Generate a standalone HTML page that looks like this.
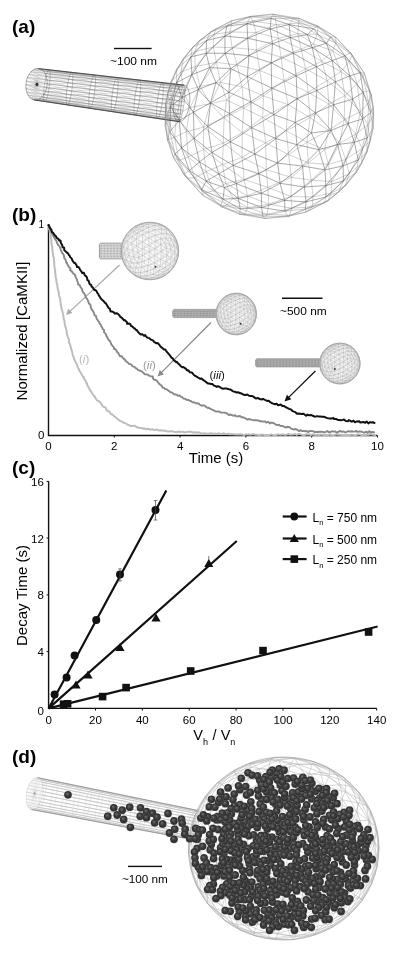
<!DOCTYPE html>
<html><head><meta charset="utf-8"><style>
html,body{margin:0;padding:0;background:#fff;width:400px;height:958px;overflow:hidden}
svg{display:block;will-change:transform}
</style></head><body>
<svg width="400" height="958" viewBox="0 0 400 958" font-family='"Liberation Sans", sans-serif'>
<rect width="400" height="958" fill="#fff"/>
<path d="M34.4 100L45.5 101.1M37 99.8L46.2 99.9M39.5 98.8L47 97.8M41.9 96.9L47.8 94.9M43.9 94.3L48.5 91.6M45.5 91.1L49.1 87.9M46.6 87.5L49.6 84.1M47.1 83.8L50 80.4M47 80L50.1 76.9M46.2 76.5L50.1 74M44.9 73.5L49.9 71.8M43.2 71.1L49.5 70.4M41 69.4L49 69.8M38.6 68.6L48.3 70.2M36 68.8L47.6 71.5M33.5 69.8L46.8 73.6M31.1 71.7L46.1 76.4M29.1 74.3L45.3 79.7M27.5 77.5L44.7 83.4M26.4 81.1L44.2 87.3M25.9 84.8L43.9 91M26 88.6L43.7 94.4M26.8 92.1L43.7 97.3M28.1 95.1L43.9 99.6M29.8 97.5L44.3 101M32 99.2L44.8 101.5M44.8 101.5L68 104.5M45.5 101.1L68.8 103.2M46.2 99.9L69.6 101M47 97.8L70.3 98.2M47.8 94.9L71.1 94.7M48.5 91.6L71.7 90.9M49.1 87.9L72.2 87M49.6 84.1L72.6 83.2M50 80.4L72.8 79.7M50.1 76.9L72.8 76.7M50.1 74L72.6 74.4M49.9 71.8L72.2 72.9M49.5 70.4L71.7 72.4M49 69.8L71 72.8M48.3 70.2L70.3 74.1M47.6 71.5L69.5 76.3M46.8 73.6L68.7 79.1M46.1 76.4L68 82.6M45.3 79.7L67.3 86.4M44.7 83.4L66.8 90.3M44.2 87.3L66.4 94.1M43.9 91L66.3 97.6M43.7 94.4L66.3 100.6M43.7 97.3L66.5 102.9M43.9 99.6L66.8 104.4M44.3 101L67.4 104.9M67.4 104.9L90.6 107.9M68 104.5L91.3 106.6M68.8 103.2L92.1 104.3M69.6 101L92.9 101.4M70.3 98.2L93.7 97.9M71.1 94.7L94.3 94M71.7 90.9L94.8 89.9M72.2 87L95.2 86M72.6 83.2L95.4 82.4M72.8 79.7L95.4 79.3M72.8 76.7L95.2 77M72.6 74.4L94.8 75.5M72.2 72.9L94.3 74.9M71.7 72.4L93.7 75.3M71 72.8L92.9 76.7M70.3 74.1L92.1 78.9M69.5 76.3L91.3 81.9M68.7 79.1L90.6 85.4M68 82.6L89.9 89.3M67.3 86.4L89.4 93.3M66.8 90.3L89 97.2M66.4 94.1L88.8 100.8M66.3 97.6L88.8 103.9M66.3 100.6L89 106.3M66.5 102.9L89.4 107.8M66.8 104.4L89.9 108.3M89.9 108.3L113.1 111.3M90.6 107.9L113.9 109.9M91.3 106.6L114.7 107.6M92.1 104.3L115.5 104.6M92.9 101.4L116.2 101M93.7 97.9L116.9 97M94.3 94L117.5 92.9M94.8 89.9L117.8 88.8M95.2 86L118 85.2M95.4 82.4L118.1 82M95.4 79.3L117.9 79.6M95.2 77L117.5 78.1M94.8 75.5L117 77.5M94.3 74.9L116.3 77.9M93.7 75.3L115.6 79.3M92.9 76.7L114.8 81.6M92.1 78.9L114 84.6M91.3 81.9L113.2 88.2M90.6 85.4L112.5 92.2M89.9 89.3L112 96.3M89.4 93.3L111.6 100.4M89 97.2L111.4 104.1M88.8 100.8L111.4 107.2M88.8 103.9L111.6 109.6M89 106.3L111.9 111.1M89.4 107.8L112.5 111.7M112.5 111.7L135.7 114.7M113.1 111.3L136.4 113.3M113.9 109.9L137.2 110.9M114.7 107.6L138.1 107.8M115.5 104.6L138.8 104.1M116.2 101L139.5 100M116.9 97L140.1 95.8M117.5 92.9L140.5 91.7M117.8 88.8L140.7 87.9M118 85.2L140.7 84.7M118.1 82L140.5 82.2M117.9 79.6L140.2 80.6M117.5 78.1L139.6 80.1M117 77.5L139 80.5M116.3 77.9L138.2 81.9M115.6 79.3L137.4 84.2M114.8 81.6L136.6 87.4M114 84.6L135.8 91.1M113.2 88.2L135.1 95.1M112.5 92.2L134.6 99.4M112 96.3L134.2 103.5M111.6 100.4L134 107.3M111.4 104.1L134 110.5M111.4 107.2L134.1 112.9M111.6 109.6L134.5 114.5M111.9 111.1L135 115.1M135 115.1L158.2 118.1M135.7 114.7L159 116.6M136.4 113.3L159.8 114.2M137.2 110.9L160.6 111M138.1 107.8L161.4 107.2M138.8 104.1L162.1 103M139.5 100L162.7 98.7M140.1 95.8L163.1 94.5M140.5 91.7L163.3 90.6M140.7 87.9L163.3 87.3M140.7 84.7L163.2 84.8M140.5 82.2L162.8 83.2M140.2 80.6L162.3 82.6M139.6 80.1L161.6 83.1M139 80.5L160.9 84.5M138.2 81.9L160.1 86.9M137.4 84.2L159.2 90.1M136.6 87.4L158.5 93.9M135.8 91.1L157.8 98.1M135.1 95.1L157.2 102.4M134.6 99.4L156.8 106.6M134.2 103.5L156.6 110.5M134 107.3L156.5 113.8M134 110.5L156.7 116.3M134.1 112.9L157 117.9M134.5 114.5L157.6 118.5M157.6 118.5L179.7 121.3M158.2 118.1L180.5 119.8M159 116.6L181.3 117.3M159.8 114.2L182.2 114.1M160.6 111L183 110.2M161.4 107.2L183.7 105.9M162.1 103L184.3 101.5M162.7 98.7L184.7 97.2M163.1 94.5L184.9 93.2M163.3 90.6L185 89.9M163.3 87.3L184.8 87.3M163.2 84.8L184.4 85.7M162.8 83.2L183.9 85.1M162.3 82.6L183.3 85.5M161.6 83.1L182.5 87M160.9 84.5L181.7 89.5M160.1 86.9L180.8 92.7M159.2 90.1L180 96.6M158.5 93.9L179.3 100.9M157.8 98.1L178.7 105.3M157.2 102.4L178.3 109.6M156.8 106.6L178.1 113.6M156.6 110.5L178 116.9M156.5 113.8L178.2 119.5M156.7 116.3L178.6 121.1M157 117.9L179.1 121.7" fill="none" stroke="#9a9a9a" stroke-width="0.3"/><path d="M34.4 100L44.8 101.5L67.4 104.9L89.9 108.3L112.5 111.7L135 115.1L157.6 118.5L179.1 121.7M37 99.8L45.5 101.1L68 104.5L90.6 107.9L113.1 111.3L135.7 114.7L158.2 118.1L179.7 121.3M39.5 98.8L46.2 99.9L68.8 103.2L91.3 106.6L113.9 109.9L136.4 113.3L159 116.6L180.5 119.8M41.9 96.9L47 97.8L69.6 101L92.1 104.3L114.7 107.6L137.2 110.9L159.8 114.2L181.3 117.3M43.9 94.3L47.8 94.9L70.3 98.2L92.9 101.4L115.5 104.6L138.1 107.8L160.6 111L182.2 114.1M45.5 91.1L48.5 91.6L71.1 94.7L93.7 97.9L116.2 101L138.8 104.1L161.4 107.2L183 110.2M46.6 87.5L49.1 87.9L71.7 90.9L94.3 94L116.9 97L139.5 100L162.1 103L183.7 105.9M47.1 83.8L49.6 84.1L72.2 87L94.8 89.9L117.5 92.9L140.1 95.8L162.7 98.7L184.3 101.5M47 80L50 80.4L72.6 83.2L95.2 86L117.8 88.8L140.5 91.7L163.1 94.5L184.7 97.2M46.2 76.5L50.1 76.9L72.8 79.7L95.4 82.4L118 85.2L140.7 87.9L163.3 90.6L184.9 93.2M44.9 73.5L50.1 74L72.8 76.7L95.4 79.3L118.1 82L140.7 84.7L163.3 87.3L185 89.9M43.2 71.1L49.9 71.8L72.6 74.4L95.2 77L117.9 79.6L140.5 82.2L163.2 84.8L184.8 87.3M41 69.4L49.5 70.4L72.2 72.9L94.8 75.5L117.5 78.1L140.2 80.6L162.8 83.2L184.4 85.7M38.6 68.6L49 69.8L71.7 72.4L94.3 74.9L117 77.5L139.6 80.1L162.3 82.6L183.9 85.1M36 68.8L48.3 70.2L71 72.8L93.7 75.3L116.3 77.9L139 80.5L161.6 83.1L183.3 85.5M33.5 69.8L47.6 71.5L70.3 74.1L92.9 76.7L115.6 79.3L138.2 81.9L160.9 84.5L182.5 87M31.1 71.7L46.8 73.6L69.5 76.3L92.1 78.9L114.8 81.6L137.4 84.2L160.1 86.9L181.7 89.5M29.1 74.3L46.1 76.4L68.7 79.1L91.3 81.9L114 84.6L136.6 87.4L159.2 90.1L180.8 92.7M27.5 77.5L45.3 79.7L68 82.6L90.6 85.4L113.2 88.2L135.8 91.1L158.5 93.9L180 96.6M26.4 81.1L44.7 83.4L67.3 86.4L89.9 89.3L112.5 92.2L135.1 95.1L157.8 98.1L179.3 100.9M25.9 84.8L44.2 87.3L66.8 90.3L89.4 93.3L112 96.3L134.6 99.4L157.2 102.4L178.7 105.3M26 88.6L43.9 91L66.4 94.1L89 97.2L111.6 100.4L134.2 103.5L156.8 106.6L178.3 109.6M26.8 92.1L43.7 94.4L66.3 97.6L88.8 100.8L111.4 104.1L134 107.3L156.6 110.5L178.1 113.6M28.1 95.1L43.7 97.3L66.3 100.6L88.8 103.9L111.4 107.2L134 110.5L156.5 113.8L178 116.9M29.8 97.5L43.9 99.6L66.5 102.9L89 106.3L111.6 109.6L134.1 112.9L156.7 116.3L178.2 119.5M32 99.2L44.3 101L66.8 104.4L89.4 107.8L111.9 111.1L134.5 114.5L157 117.9L178.6 121.1" fill="none" stroke="#777" stroke-width="0.35"/><path d="M44.8 101.5L45.2 101.4L45.7 100.9L46.2 99.9L46.7 98.7L47.2 97.1L47.7 95.3L48.2 93.2L48.6 90.9L49 88.5L49.4 86L49.7 83.5L49.9 81.1L50.1 78.8L50.1 76.6L50.1 74.7L50.1 73L49.9 71.7L49.7 70.7L49.4 70.1L49 69.8L48.6 70L48.1 70.5L47.6 71.4L47.1 72.7L46.6 74.2L46.1 76.1L45.6 78.2L45.2 80.5L44.8 82.9L44.4 85.3L44.1 87.8L43.9 90.3L43.8 92.6L43.7 94.7L43.7 96.7L43.8 98.3L43.9 99.7L44.2 100.7L44.5 101.3L44.8 101.5M67.4 104.9L67.8 104.8L68.2 104.2L68.7 103.3L69.2 102L69.8 100.4L70.3 98.5L70.8 96.3L71.2 94L71.6 91.5L72 89L72.3 86.4L72.5 83.9L72.7 81.6L72.8 79.3L72.8 77.4L72.7 75.7L72.6 74.3L72.3 73.3L72 72.6L71.7 72.4L71.2 72.5L70.8 73.1L70.3 74L69.8 75.3L69.3 76.9L68.8 78.8L68.3 81L67.8 83.3L67.4 85.8L67 88.3L66.7 90.9L66.5 93.4L66.3 95.7L66.2 98L66.2 99.9L66.3 101.6L66.5 103L66.7 104L67 104.7L67.4 104.9M89.9 108.3L90.3 108.2L90.8 107.6L91.3 106.6L91.8 105.3L92.3 103.7L92.8 101.7L93.3 99.5L93.8 97.1L94.2 94.6L94.6 92L94.9 89.3L95.2 86.8L95.3 84.3L95.4 82.1L95.4 80.1L95.4 78.3L95.2 76.9L95 75.9L94.7 75.2L94.3 74.9L93.9 75.1L93.4 75.7L93 76.6L92.4 77.9L91.9 79.6L91.4 81.6L90.9 83.8L90.4 86.2L90 88.7L89.6 91.3L89.3 93.9L89.1 96.5L88.9 98.9L88.8 101.2L88.8 103.2L88.9 104.9L89 106.4L89.3 107.4L89.6 108.1L89.9 108.3M112.5 111.7L112.9 111.6L113.3 111L113.8 110L114.4 108.6L114.9 106.9L115.4 104.9L115.9 102.7L116.4 100.2L116.8 97.6L117.2 94.9L117.5 92.3L117.8 89.6L118 87.1L118.1 84.8L118.1 82.7L118 81L117.9 79.5L117.6 78.4L117.3 77.8L117 77.5L116.6 77.7L116.1 78.2L115.6 79.2L115.1 80.6L114.6 82.3L114 84.3L113.5 86.5L113.1 89L112.6 91.6L112.2 94.3L111.9 97L111.7 99.6L111.5 102.1L111.4 104.4L111.4 106.5L111.4 108.3L111.6 109.7L111.8 110.8L112.1 111.5L112.5 111.7M135 115.1L135.4 114.9L135.9 114.4L136.4 113.3L136.9 112L137.4 110.2L138 108.1L138.5 105.8L139 103.3L139.4 100.6L139.8 97.9L140.1 95.2L140.4 92.5L140.6 89.9L140.7 87.5L140.7 85.4L140.7 83.6L140.5 82.1L140.3 81L140 80.3L139.6 80.1L139.2 80.2L138.8 80.8L138.3 81.8L137.7 83.2L137.2 85L136.7 87L136.2 89.3L135.7 91.9L135.2 94.5L134.9 97.3L134.5 100L134.3 102.7L134.1 105.2L134 107.6L133.9 109.7L134 111.6L134.1 113L134.4 114.1L134.7 114.8L135 115.1M157.6 118.5L158 118.3L158.5 117.7L159 116.7L159.5 115.3L160 113.5L160.5 111.4L161.1 109L161.6 106.4L162 103.7L162.4 100.9L162.8 98.1L163 95.3L163.2 92.7L163.3 90.3L163.4 88.1L163.3 86.2L163.2 84.7L162.9 83.6L162.7 82.9L162.3 82.6L161.9 82.8L161.4 83.4L160.9 84.4L160.4 85.9L159.9 87.6L159.3 89.7L158.8 92.1L158.3 94.7L157.9 97.4L157.5 100.2L157.1 103L156.8 105.8L156.7 108.4L156.5 110.8L156.5 113L156.6 114.9L156.7 116.4L156.9 117.5L157.2 118.2L157.6 118.5M179.1 121.7L179.5 121.6L180 120.9L180.5 119.9L181 118.4L181.5 116.6L182.1 114.4L182.6 112L183.1 109.4L183.6 106.6L184 103.7L184.3 100.9L184.6 98L184.8 95.4L184.9 92.9L185 90.7L184.9 88.8L184.8 87.2L184.6 86.1L184.3 85.3L183.9 85.1L183.5 85.2L183 85.9L182.5 86.9L182 88.4L181.5 90.2L180.9 92.4L180.4 94.8L179.9 97.4L179.4 100.2L179 103.1L178.7 105.9L178.4 108.8L178.2 111.4L178.1 113.9L178 116.1L178.1 118L178.2 119.6L178.4 120.7L178.7 121.5L179.1 121.7" fill="none" stroke="#777" stroke-width="0.45"/><path d="M36.5 84.3L34.4 100M36.5 84.3L37 99.8M36.5 84.3L39.5 98.8M36.5 84.3L41.9 96.9M36.5 84.3L43.9 94.3M36.5 84.3L45.5 91.1M36.5 84.3L46.6 87.5M36.5 84.3L47.1 83.8M36.5 84.3L47 80M36.5 84.3L46.2 76.5M36.5 84.3L44.9 73.5M36.5 84.3L43.2 71.1M36.5 84.3L41 69.4M36.5 84.3L38.6 68.6M36.5 84.3L36 68.8M36.5 84.3L33.5 69.8M36.5 84.3L31.1 71.7M36.5 84.3L29.1 74.3M36.5 84.3L27.5 77.5M36.5 84.3L26.4 81.1M36.5 84.3L25.9 84.8M36.5 84.3L26 88.6M36.5 84.3L26.8 92.1M36.5 84.3L28.1 95.1M36.5 84.3L29.8 97.5M36.5 84.3L32 99.2" fill="none" stroke="#999" stroke-width="0.3"/><path d="M34.4 100L35.8 100L37.2 99.8L38.6 99.3L39.9 98.6L41.2 97.6L42.4 96.3L43.5 94.9L44.5 93.3L45.3 91.6L46 89.7L46.6 87.7L46.9 85.7L47.1 83.6L47.1 81.6L46.9 79.6L46.5 77.7L46 75.9L45.3 74.2L44.5 72.7L43.5 71.4L42.4 70.4L41.2 69.5L39.9 68.9L38.6 68.6L37.2 68.6L35.8 68.8L34.4 69.3L33.1 70L31.8 71L30.6 72.3L29.5 73.7L28.5 75.3L27.7 77L27 78.9L26.4 80.9L26.1 82.9L25.9 85L25.9 87L26.1 89L26.5 90.9L27 92.7L27.7 94.4L28.5 95.9L29.5 97.2L30.6 98.2L31.8 99.1L33.1 99.7L34.4 100M179.1 121.7L180.1 121.7L181.2 121.4L182.3 120.7L183.4 119.8L184.4 118.6L185.4 117.1L186.3 115.4L187.2 113.5L187.9 111.4L188.5 109.2L189 106.8L189.4 104.4L189.7 102L189.8 99.7L189.8 97.3L189.6 95.1L189.3 93.1L188.8 91.2L188.2 89.5L187.6 88L186.8 86.9L185.9 86L184.9 85.4L183.9 85.1L182.9 85.1L181.8 85.4L180.7 86.1L179.6 87L178.6 88.2L177.6 89.7L176.7 91.4L175.8 93.3L175.1 95.4L174.5 97.6L174 100L173.6 102.4L173.3 104.8L173.2 107.1L173.2 109.5L173.4 111.7L173.7 113.7L174.2 115.6L174.8 117.3L175.4 118.8L176.2 119.9L177.1 120.8L178.1 121.4L179.1 121.7" fill="none" stroke="#555" stroke-width="0.5"/><path d="M34.4 100L179.1 121.7M38.6 68.6L183.9 85.1" fill="none" stroke="#333" stroke-width="0.8"/><circle cx="37" cy="84.5" r="1.4" fill="#222"/><path d="M227.1 204.8L233 198.2M227.1 204.8L213.3 190.8M227.1 204.8L247.7 207.6M233 198.2L213.3 190.8M233 198.2L247.4 195.7M233 198.2L247.7 207.6M233 198.2L225.8 183.5M204.5 193L213.3 190.8M213.3 190.8L194.6 177.8M213.3 190.8L225.8 183.5M213.3 190.8L206 171.8M194.6 177.8L178.8 160.4M194.6 177.8L188.2 157M194.6 177.8L206 171.8M178.8 160.4L174.6 137.3M178.8 160.4L188.2 157M167.9 119.1L176.5 114.8M167.9 119.1L174.6 137.3M176.5 114.8L190.2 107.4M176.5 114.8L171 97.8M176.5 114.8L183.5 91.2M176.5 114.8L186.3 131.7M176.5 114.8L174.6 137.3M190.2 107.4L210.4 103.7M190.2 107.4L183.5 91.2M190.2 107.4L200 86.3M190.2 107.4L203.5 127.1M190.2 107.4L186.3 131.7M210.4 103.7L226.5 100M210.4 103.7L200 86.3M210.4 103.7L220.5 82.3M210.4 103.7L224.1 118M210.4 103.7L203.5 127.1M226.5 100L220.5 82.3M226.5 100L243.7 108.1M226.5 100L224.1 118M226.5 100L242.1 86.8M171 97.8L183.5 91.2M171 97.8L181 72M183.5 91.2L200 86.3M183.5 91.2L181 72M183.5 91.2L195.2 66.6M200 86.3L220.5 82.3M200 86.3L195.2 66.6M200 86.3L216.4 62.3M220.5 82.3L216.4 62.3M220.5 82.3L242.1 86.8M220.5 82.3L237.2 65.2M181 72L195.2 66.6M181 72L194.8 51.5M195.2 66.6L216.4 62.3M195.2 66.6L194.8 51.5M195.2 66.6L213.4 47.1M216.4 62.3L213.4 47.1M216.4 62.3L232.1 47.6M216.4 62.3L237.2 65.2M194.8 51.5L213.4 47.1M213.4 47.1L214 34.3M213.4 47.1L229.7 32M213.4 47.1L232.1 47.6M214 34.3L229.7 32M231.8 23.7L229.7 32M253 21L276.3 24.6M253 21L256.1 32.4M253 21L229.7 32M276.3 24.6L297.8 33.7M276.3 24.6L275 16.2M276.3 24.6L298.6 23.1M276.3 24.6L278.2 38.3M276.3 24.6L256.1 32.4M297.8 33.7L313.6 44M297.8 33.7L298.6 23.1M297.8 33.7L316.9 34.4M297.8 33.7L301.2 48.9M297.8 33.7L278.2 38.3M313.6 44L316.9 34.4M313.6 44L321.8 61.4M313.6 44L301.2 48.9M313.6 44L332.7 50.9M298.6 23.1L316.9 34.4M316.9 34.4L332.7 50.9M316.9 34.4L335.9 43M324.7 149.6L328.4 164.4M324.7 149.6L339.8 143.2M324.7 149.6L308.3 162.9M324.7 149.6L307 142.2M324.7 149.6L328.4 130.4M328.4 164.4L331.7 181.6M328.4 164.4L339.8 143.2M328.4 164.4L345.6 159.4M328.4 164.4L308.3 162.9M328.4 164.4L311.3 180.1M331.7 181.6L331.1 193.1M331.7 181.6L345.6 159.4M331.7 181.6L349.3 173.8M331.7 181.6L311.3 180.1M331.7 181.6L313 196.9M331.1 193.1L349.3 173.8M331.1 193.1L313 196.9M339.8 143.2L345.6 159.4M339.8 143.2L355.6 134.2M339.8 143.2L328.4 130.4M339.8 143.2L344.2 119.9M345.6 159.4L349.3 173.8M345.6 159.4L355.6 134.2M345.6 159.4L362.1 148.5M349.3 173.8L362.1 148.5M355.6 134.2L362.1 148.5M355.6 134.2L367.8 124.8M355.6 134.2L344.2 119.9M355.6 134.2L360.5 111.6M362.1 148.5L367.8 124.8M367.8 124.8L360.5 111.6M367.8 124.8L368.6 102.3M308.3 162.9L291.4 177.4M308.3 162.9L311.3 180.1M308.3 162.9L307 142.2M308.3 162.9L288.6 154.6M291.4 177.4L267.8 187.3M291.4 177.4L311.3 180.1M291.4 177.4L291 196.5M291.4 177.4L288.6 154.6M291.4 177.4L266.3 169.7M267.8 187.3L247.4 195.7M267.8 187.3L291 196.5M267.8 187.3L268.8 204.2M267.8 187.3L266.3 169.7M267.8 187.3L244.1 179.4M247.4 195.7L268.8 204.2M247.4 195.7L247.7 207.6M247.4 195.7L244.1 179.4M247.4 195.7L225.8 183.5M311.3 180.1L291 196.5M311.3 180.1L313 196.9M291 196.5L268.8 204.2M291 196.5L313 196.9M291 196.5L291.9 208.2M268.8 204.2L247.7 207.6M268.8 204.2L291.9 208.2M268.8 204.2L267.1 214.3M247.7 207.6L267.1 214.3M313 196.9L291.9 208.2M313 196.9L312.3 206.8M291.9 208.2L267.1 214.3M291.9 208.2L312.3 206.8M307 142.2L286.3 130.8M307 142.2L288.6 154.6M307 142.2L328.4 130.4M307 142.2L310.2 117.7M286.3 130.8L262.7 117.5M286.3 130.8L288.6 154.6M286.3 130.8L265.6 142.8M286.3 130.8L310.2 117.7M286.3 130.8L287.8 104.5M262.7 117.5L243.7 108.1M262.7 117.5L265.6 142.8M262.7 117.5L242.2 132.7M262.7 117.5L287.8 104.5M262.7 117.5L263.5 95.9M243.7 108.1L242.2 132.7M243.7 108.1L224.1 118M243.7 108.1L263.5 95.9M243.7 108.1L242.1 86.8M288.6 154.6L265.6 142.8M288.6 154.6L266.3 169.7M265.6 142.8L242.2 132.7M265.6 142.8L266.3 169.7M265.6 142.8L242.1 157.4M242.2 132.7L224.1 118M242.2 132.7L242.1 157.4M242.2 132.7L223.3 143.1M224.1 118L223.3 143.1M224.1 118L203.5 127.1M266.3 169.7L242.1 157.4M266.3 169.7L244.1 179.4M242.1 157.4L223.3 143.1M242.1 157.4L244.1 179.4M242.1 157.4L222.5 164.5M223.3 143.1L222.5 164.5M223.3 143.1L203.5 127.1M223.3 143.1L203.6 149.5M244.1 179.4L222.5 164.5M244.1 179.4L225.8 183.5M222.5 164.5L225.8 183.5M222.5 164.5L203.6 149.5M222.5 164.5L206 171.8M225.8 183.5L206 171.8M328.4 130.4L328.8 104M328.4 130.4L310.2 117.7M328.4 130.4L344.2 119.9M328.8 104L327.2 80.6M328.8 104L310.2 117.7M328.8 104L308 92.3M328.8 104L344.2 119.9M328.8 104L344.9 95.8M327.2 80.6L321.8 61.4M327.2 80.6L308 92.3M327.2 80.6L305.5 68.8M327.2 80.6L344.9 95.8M327.2 80.6L341 71.5M321.8 61.4L305.5 68.8M321.8 61.4L301.2 48.9M321.8 61.4L341 71.5M321.8 61.4L332.7 50.9M310.2 117.7L308 92.3M310.2 117.7L287.8 104.5M308 92.3L305.5 68.8M308 92.3L287.8 104.5M308 92.3L284 80.5M305.5 68.8L301.2 48.9M305.5 68.8L284 80.5M305.5 68.8L281.1 57.1M301.2 48.9L281.1 57.1M301.2 48.9L278.2 38.3M287.8 104.5L284 80.5M287.8 104.5L263.5 95.9M284 80.5L281.1 57.1M284 80.5L263.5 95.9M284 80.5L259.8 70.5M281.1 57.1L259.8 70.5M281.1 57.1L278.2 38.3M281.1 57.1L256.4 49.9M263.5 95.9L259.8 70.5M263.5 95.9L242.1 86.8M259.8 70.5L242.1 86.8M259.8 70.5L256.4 49.9M259.8 70.5L237.2 65.2M242.1 86.8L237.2 65.2M344.2 119.9L360.5 111.6M344.2 119.9L344.9 95.8M360.5 111.6L368.6 102.3M360.5 111.6L344.9 95.8M360.5 111.6L357.1 83.6M368.6 102.3L357.1 83.6M344.9 95.8L357.1 83.6M344.9 95.8L341 71.5M357.1 83.6L362.9 76.3M357.1 83.6L341 71.5M357.1 83.6L349 61.3M341 71.5L349 61.3M341 71.5L332.7 50.9M349 61.3L332.7 50.9M349 61.3L335.9 43M332.7 50.9L335.9 43M203.5 127.1L186.3 131.7M203.5 127.1L203.6 149.5M186.3 131.7L174.6 137.3M186.3 131.7L203.6 149.5M186.3 131.7L188.2 157M174.6 137.3L188.2 157M203.6 149.5L188.2 157M203.6 149.5L206 171.8M188.2 157L206 171.8M278.2 38.3L256.1 32.4M278.2 38.3L256.4 49.9M256.1 32.4L229.7 32M256.1 32.4L256.4 49.9M256.1 32.4L232.1 47.6M229.7 32L232.1 47.6M256.4 49.9L232.1 47.6M256.4 49.9L237.2 65.2M232.1 47.6L237.2 65.2" fill="none" stroke="#999" stroke-width="0.45"/><path d="M206.5 40.5L210.8 31.8M206.5 40.5L226.8 26.1M206.5 40.5L192.2 47.6M210.8 31.8L215.6 29.2M210.8 31.8L226.8 26.1M210.8 31.8L231.6 20.8M210.8 31.8L192.2 47.6M210.8 31.8L199.3 40.7M215.6 29.2L231.6 20.8M215.6 29.2L199.3 40.7M215.6 29.2L214 34.3M215.6 29.2L231.8 23.7M226.8 26.1L231.6 20.8M226.8 26.1L250.4 16.9M231.6 20.8L250.4 16.9M231.6 20.8L231.8 23.7M231.6 20.8L250 16.4M247 23.7L250.4 16.9M250.4 16.9L271 18.5M250.4 16.9L250 16.4M250.4 16.9L273 14.1M271 18.5L273 14.1M271 18.5L293.2 18.7M289.2 24.6L293.2 18.7M170.6 106.5L165.4 118.5M170.6 106.5L167.7 93.4M165.4 118.5L165.2 125.9M165.4 118.5L167.7 93.4M165.4 118.5L165.6 103.5M165.4 118.5L169.9 131.6M165.4 118.5L167.5 140.3M165.2 125.9L165.6 103.5M165.2 125.9L167.5 140.3M165.2 125.9L168.5 139.5M165.2 125.9L167.9 119.1M176.6 82.6L167.7 93.4M176.6 82.6L176.7 69.2M167.7 93.4L165.6 103.5M167.7 93.4L176.7 69.2M167.7 93.4L171.1 81.6M165.6 103.5L171.1 81.6M165.6 103.5L167.9 119.1M165.6 103.5L171 97.8M190.9 56.9L176.7 69.2M190.9 56.9L192.2 47.6M176.7 69.2L171.1 81.6M176.7 69.2L192.2 47.6M176.7 69.2L183.4 58.7M171.1 81.6L183.4 58.7M171.1 81.6L171 97.8M171.1 81.6L181 72M192.2 47.6L183.4 58.7M192.2 47.6L199.3 40.7M183.4 58.7L199.3 40.7M183.4 58.7L181 72M183.4 58.7L194.8 51.5M199.3 40.7L194.8 51.5M199.3 40.7L214 34.3M189.4 170.6L183.7 174.1M169.9 131.6L175 154.1M169.9 131.6L167.5 140.3M175 154.1L167.5 140.3M175 154.1L183.7 174.1M175 154.1L173.3 157.3M167.5 140.3L173.3 157.3M167.5 140.3L168.5 139.5M344.9 55.9L350.5 52.7M344.9 55.9L330.6 36.8M360.2 72.6L369.4 90.6M360.2 72.6L364.3 73.2M360.2 72.6L350.5 52.7M369.4 90.6L373.4 107.8M369.4 90.6L363.2 92.3M369.4 90.6L370.6 112.8M369.4 90.6L371.4 95M369.4 90.6L364.3 73.2M373.4 107.8L370.6 112.8M373.4 107.8L373.3 115.4M373.4 107.8L373.1 128.2M373.4 107.8L371.4 95M370.6 112.8L373.1 128.2M370.6 112.8L367.2 137.9M326 196.9L324.4 202.7M326 196.9L305.4 209.1M326 196.9L338.6 192M324.4 202.7L305.4 209.1M324.4 202.7L328.2 200.7M324.4 202.7L338.6 192M324.4 202.7L305.9 212.1M305.4 209.1L285 211.2M305.4 209.1L305.9 212.1M305.4 209.1L287.9 216.6M285 211.2L262.9 216.2M285 211.2L287.9 216.6M223 199.1L220.7 205M220.7 205L221.8 207M220.7 205L201.6 189.7M220.7 205L202.5 195.1M220.7 205L239.7 214.3M220.7 205L240.2 208.8M221.8 207L227.1 204.8M221.8 207L202.5 195.1M221.8 207L204.5 193M221.8 207L244.6 214M221.8 207L239.7 214.3M227.1 204.8L204.5 193M227.1 204.8L244.6 214M201.6 189.7L202.5 195.1M201.6 189.7L183.7 174.1M202.5 195.1L204.5 193M202.5 195.1L183.7 174.1M202.5 195.1L187 178.1M204.5 193L187 178.1M204.5 193L194.6 177.8M183.7 174.1L187 178.1M183.7 174.1L173.3 157.3M187 178.1L194.6 177.8M187 178.1L173.3 157.3M187 178.1L178.8 160.4M173.3 157.3L178.8 160.4M173.3 157.3L168.5 139.5M178.8 160.4L168.5 139.5M168.5 139.5L167.9 119.1M168.5 139.5L174.6 137.3M167.9 119.1L171 97.8M194.8 51.5L214 34.3M214 34.3L231.8 23.7M231.8 23.7L253 21M231.8 23.7L250 16.4M253 21L250 16.4M253 21L275 16.2M250 16.4L275 16.2M250 16.4L273 14.1M275 16.2L298.6 23.1M275 16.2L273 14.1M275 16.2L299 18.3M298.6 23.1L299 18.3M298.6 23.1L318.3 27.2M316.9 34.4L318.3 27.2M273 14.1L299 18.3M273 14.1L293.2 18.7M299 18.3L318.3 27.2M299 18.3L293.2 18.7M299 18.3L317.9 26M318.3 27.2L317.9 26M318.3 27.2L335.6 37.1M318.3 27.2L335.9 43M293.2 18.7L317.9 26M293.2 18.7L313.4 28.8M317.9 26L313.4 28.8M317.9 26L330.6 36.8M317.9 26L335.6 37.1M313.4 28.8L330.6 36.8M331.1 193.1L328.2 200.7M331.1 193.1L345.3 185.9M331.1 193.1L312.3 206.8M328.2 200.7L345.3 185.9M328.2 200.7L338.6 192M328.2 200.7L312.3 206.8M328.2 200.7L305.9 212.1M349.3 173.8L345.3 185.9M349.3 173.8L361.7 163.2M345.3 185.9L338.6 192M345.3 185.9L361.7 163.2M345.3 185.9L356.2 172.7M338.6 192L356.2 172.7M338.6 192L343.4 181.1M362.1 148.5L361.7 163.2M362.1 148.5L370.1 141.1M361.7 163.2L356.2 172.7M361.7 163.2L370.1 141.1M361.7 163.2L367 152M356.2 172.7L367 152M356.2 172.7L343.4 181.1M356.2 172.7L358.3 160M367.8 124.8L370.1 141.1M367.8 124.8L373.3 115.4M370.1 141.1L367 152M370.1 141.1L373.3 115.4M370.1 141.1L373.1 128.2M367 152L373.1 128.2M367 152L358.3 160M367 152L367.2 137.9M373.3 115.4L373.1 128.2M373.3 115.4L368.6 102.3M373.3 115.4L371.4 95M373.1 128.2L367.2 137.9M247.7 207.6L244.6 214M291.9 208.2L289.6 215.3M267.1 214.3L289.6 215.3M267.1 214.3L244.6 214M267.1 214.3L265.2 218.5M312.3 206.8L289.6 215.3M312.3 206.8L305.9 212.1M289.6 215.3L305.9 212.1M289.6 215.3L265.2 218.5M289.6 215.3L287.9 216.6M305.9 212.1L287.9 216.6M368.6 102.3L371.4 95M368.6 102.3L362.9 76.3M371.4 95L362.9 76.3M371.4 95L364.3 73.2M362.9 76.3L349 61.3M362.9 76.3L364.3 73.2M362.9 76.3L352.3 55.4M349 61.3L352.3 55.4M244.6 214L239.7 214.3M244.6 214L265.2 218.5M239.7 214.3L240.2 208.8M239.7 214.3L265.2 218.5M239.7 214.3L262.9 216.2M240.2 208.8L262.9 216.2M265.2 218.5L262.9 216.2M265.2 218.5L287.9 216.6M262.9 216.2L287.9 216.6M364.3 73.2L350.5 52.7M364.3 73.2L352.3 55.4M350.5 52.7L330.6 36.8M350.5 52.7L352.3 55.4M350.5 52.7L335.6 37.1M330.6 36.8L335.6 37.1M352.3 55.4L335.6 37.1M352.3 55.4L335.9 43M335.6 37.1L335.9 43" fill="none" stroke="#808080" stroke-width="0.4"/><path d="M215.9 82.5L228.9 92.3M215.9 82.5L210.5 102.9M215.9 82.5L230.7 68.7M215.9 82.5L209.7 67.6M215.9 82.5L198.3 89.5M228.9 92.3L250.8 101.8M228.9 92.3L210.5 102.9M228.9 92.3L229.5 113.5M228.9 92.3L230.7 68.7M228.9 92.3L247.4 76.6M250.8 101.8L273.9 114.6M250.8 101.8L229.5 113.5M250.8 101.8L251.7 127.8M250.8 101.8L247.4 76.6M250.8 101.8L271.7 88M273.9 114.6L295.2 122.4M273.9 114.6L251.7 127.8M273.9 114.6L275.9 138.6M273.9 114.6L271.7 88M273.9 114.6L297.1 98.6M295.2 122.4L311.4 133M295.2 122.4L275.9 138.6M295.2 122.4L296.8 144.7M295.2 122.4L297.1 98.6M295.2 122.4L315.4 112.9M311.4 133L296.8 144.7M311.4 133L315.4 112.9M311.4 133L331.1 130.4M311.4 133L318.9 149.7M210.5 102.9L229.5 113.5M210.5 102.9L207.8 126.6M210.5 102.9L198.3 89.5M210.5 102.9L193.5 112.2M229.5 113.5L251.7 127.8M229.5 113.5L207.8 126.6M229.5 113.5L230.4 141.8M251.7 127.8L275.9 138.6M251.7 127.8L230.4 141.8M251.7 127.8L254.8 154.1M275.9 138.6L296.8 144.7M275.9 138.6L254.8 154.1M275.9 138.6L277.7 163.2M296.8 144.7L277.7 163.2M296.8 144.7L318.9 149.7M296.8 144.7L302.5 166M207.8 126.6L230.4 141.8M207.8 126.6L211.9 152.4M207.8 126.6L193.5 112.2M207.8 126.6L194 138.2M230.4 141.8L254.8 154.1M230.4 141.8L211.9 152.4M230.4 141.8L233.2 165.4M254.8 154.1L277.7 163.2M254.8 154.1L233.2 165.4M254.8 154.1L258.9 173.8M277.7 163.2L258.9 173.8M277.7 163.2L302.5 166M277.7 163.2L280.1 183.3M211.9 152.4L233.2 165.4M211.9 152.4L218.8 173.9M211.9 152.4L194 138.2M211.9 152.4L199.5 161.9M233.2 165.4L258.9 173.8M233.2 165.4L218.8 173.9M233.2 165.4L236.3 183.6M258.9 173.8L236.3 183.6M258.9 173.8L280.1 183.3M258.9 173.8L261.3 193.3M218.8 173.9L236.3 183.6M218.8 173.9L224.4 187.6M218.8 173.9L199.5 161.9M218.8 173.9L206.1 181.1M236.3 183.6L224.4 187.6M236.3 183.6L261.3 193.3M236.3 183.6L238.3 198.5M224.4 187.6L206.1 181.1M224.4 187.6L238.3 198.5M224.4 187.6L223 199.1M230.7 68.7L248.9 55.7M230.7 68.7L247.4 76.6M230.7 68.7L209.7 67.6M230.7 68.7L225 53.3M248.9 55.7L272.5 43.7M248.9 55.7L247.4 76.6M248.9 55.7L271.2 62.8M248.9 55.7L225 53.3M248.9 55.7L247.7 38.3M272.5 43.7L290.2 37.5M272.5 43.7L271.2 62.8M272.5 43.7L293.4 53.3M272.5 43.7L247.7 38.3M272.5 43.7L270.2 28.9M290.2 37.5L307.4 34.7M290.2 37.5L293.4 53.3M290.2 37.5L312.3 47.6M290.2 37.5L270.2 28.9M290.2 37.5L289.2 24.6M307.4 34.7L312.3 47.6M307.4 34.7L289.2 24.6M307.4 34.7L326.5 43.3M307.4 34.7L313.4 28.8M247.4 76.6L271.2 62.8M247.4 76.6L271.7 88M271.2 62.8L293.4 53.3M271.2 62.8L271.7 88M271.2 62.8L296.2 75.9M293.4 53.3L312.3 47.6M293.4 53.3L296.2 75.9M293.4 53.3L316.4 66.7M312.3 47.6L316.4 66.7M312.3 47.6L326.5 43.3M312.3 47.6L332.3 60.6M271.7 88L296.2 75.9M271.7 88L297.1 98.6M296.2 75.9L316.4 66.7M296.2 75.9L297.1 98.6M296.2 75.9L316.8 90.6M316.4 66.7L316.8 90.6M316.4 66.7L332.3 60.6M316.4 66.7L335.4 81.9M297.1 98.6L316.8 90.6M297.1 98.6L315.4 112.9M316.8 90.6L315.4 112.9M316.8 90.6L335.4 81.9M316.8 90.6L333.6 104.8M315.4 112.9L333.6 104.8M315.4 112.9L331.1 130.4M209.7 67.6L206.2 53.2M209.7 67.6L225 53.3M209.7 67.6L198.3 89.5M209.7 67.6L191.9 74.7M206.2 53.2L206.5 40.5M206.2 53.2L225 53.3M206.2 53.2L224.9 36.1M206.2 53.2L191.9 74.7M206.2 53.2L190.9 56.9M206.5 40.5L224.9 36.1M206.5 40.5L190.9 56.9M225 53.3L224.9 36.1M225 53.3L247.7 38.3M224.9 36.1L226.8 26.1M224.9 36.1L247.7 38.3M224.9 36.1L247 23.7M226.8 26.1L247 23.7M247.7 38.3L247 23.7M247.7 38.3L270.2 28.9M247 23.7L270.2 28.9M247 23.7L271 18.5M270.2 28.9L271 18.5M270.2 28.9L289.2 24.6M271 18.5L289.2 24.6M289.2 24.6L313.4 28.8M198.3 89.5L182.1 97.5M198.3 89.5L191.9 74.7M198.3 89.5L193.5 112.2M182.1 97.5L170.6 106.5M182.1 97.5L191.9 74.7M182.1 97.5L176.6 82.6M182.1 97.5L193.5 112.2M182.1 97.5L179.3 120.5M170.6 106.5L176.6 82.6M170.6 106.5L179.3 120.5M170.6 106.5L169.9 131.6M191.9 74.7L176.6 82.6M191.9 74.7L190.9 56.9M176.6 82.6L190.9 56.9M193.5 112.2L194 138.2M193.5 112.2L179.3 120.5M194 138.2L199.5 161.9M194 138.2L179.3 120.5M194 138.2L181.5 148M199.5 161.9L206.1 181.1M199.5 161.9L181.5 148M199.5 161.9L189.4 170.6M206.1 181.1L189.4 170.6M206.1 181.1L223 199.1M206.1 181.1L201.6 189.7M179.3 120.5L181.5 148M179.3 120.5L169.9 131.6M181.5 148L189.4 170.6M181.5 148L169.9 131.6M181.5 148L175 154.1M189.4 170.6L175 154.1M189.4 170.6L201.6 189.7M326.5 43.3L344.9 55.9M326.5 43.3L332.3 60.6M326.5 43.3L313.4 28.8M326.5 43.3L330.6 36.8M344.9 55.9L360.2 72.6M344.9 55.9L332.3 60.6M344.9 55.9L349.8 75.8M360.2 72.6L349.8 75.8M360.2 72.6L363.2 92.3M332.3 60.6L349.8 75.8M332.3 60.6L335.4 81.9M349.8 75.8L363.2 92.3M349.8 75.8L335.4 81.9M349.8 75.8L352.6 99.1M363.2 92.3L370.6 112.8M363.2 92.3L352.6 99.1M363.2 92.3L362.6 118.9M370.6 112.8L362.6 118.9M335.4 81.9L352.6 99.1M335.4 81.9L333.6 104.8M352.6 99.1L362.6 118.9M352.6 99.1L333.6 104.8M352.6 99.1L348.3 123.4M362.6 118.9L348.3 123.4M362.6 118.9L354.3 142.4M362.6 118.9L367.2 137.9M333.6 104.8L348.3 123.4M333.6 104.8L331.1 130.4M348.3 123.4L331.1 130.4M348.3 123.4L337.5 144.5M348.3 123.4L354.3 142.4M331.1 130.4L318.9 149.7M331.1 130.4L337.5 144.5M318.9 149.7L325 169.9M318.9 149.7L302.5 166M318.9 149.7L337.5 144.5M325 169.9L325.8 185.5M325 169.9L302.5 166M325 169.9L304.4 187M325 169.9L343.1 165.9M325 169.9L337.5 144.5M325.8 185.5L326 196.9M325.8 185.5L304.4 187M325.8 185.5L306 201.9M325.8 185.5L343.4 181.1M325.8 185.5L343.1 165.9M326 196.9L306 201.9M326 196.9L343.4 181.1M302.5 166L304.4 187M302.5 166L280.1 183.3M304.4 187L306 201.9M304.4 187L280.1 183.3M304.4 187L284.6 200.4M306 201.9L305.4 209.1M306 201.9L284.6 200.4M306 201.9L285 211.2M280.1 183.3L284.6 200.4M280.1 183.3L261.3 193.3M284.6 200.4L285 211.2M284.6 200.4L261.3 193.3M284.6 200.4L261.6 207.5M285 211.2L261.6 207.5M261.3 193.3L261.6 207.5M261.3 193.3L238.3 198.5M261.6 207.5L238.3 198.5M261.6 207.5L240.2 208.8M261.6 207.5L262.9 216.2M238.3 198.5L223 199.1M238.3 198.5L240.2 208.8M223 199.1L201.6 189.7M223 199.1L240.2 208.8M343.4 181.1L343.1 165.9M343.4 181.1L358.3 160M343.1 165.9L337.5 144.5M343.1 165.9L358.3 160M343.1 165.9L354.3 142.4M337.5 144.5L354.3 142.4M358.3 160L354.3 142.4M358.3 160L367.2 137.9M354.3 142.4L367.2 137.9" fill="none" stroke="#444" stroke-width="0.45"/><text x="12" y="33" font-size="19" font-weight="bold">(a)</text><rect x="114" y="47.8" width="37.6" height="1.4" fill="#111"/><text x="110" y="64.8" font-size="11.5" textLength="47" lengthAdjust="spacingAndGlyphs">~100 nm</text><path d="M48.5 224.2V435.5H377.3" fill="none" stroke="#111" stroke-width="1.4"/><path d="M114.3 435.5v2M180.1 435.5v2M245.9 435.5v2M311.7 435.5v2M377.5 435.5v2" stroke="#111" stroke-width="1"/><text transform="translate(27.2 400.5) rotate(-90)" font-size="15" textLength="139" lengthAdjust="spacingAndGlyphs">Normalized [CaMKII]</text><text x="216" y="463" font-size="15" text-anchor="middle">Time (s)</text><text x="48.5" y="449.5" font-size="11.5" text-anchor="middle">0</text><text x="114.3" y="449.5" font-size="11.5" text-anchor="middle">2</text><text x="180.1" y="449.5" font-size="11.5" text-anchor="middle">4</text><text x="245.9" y="449.5" font-size="11.5" text-anchor="middle">6</text><text x="311.7" y="449.5" font-size="11.5" text-anchor="middle">8</text><text x="377.5" y="449.5" font-size="11.5" text-anchor="middle">10</text><text x="44.5" y="439.3" font-size="11.5" text-anchor="end">0</text><text x="44" y="227.5" font-size="10" text-anchor="end">1</text><rect x="99" y="243.1" width="33.6" height="15.8" fill="#d2d2d2" rx="1.5"/><path d="M100.5 245.7H132.6M100.5 248.4H132.6M100.5 251H132.6M100.5 253.6H132.6M100.5 256.3H132.6" stroke="#7a7a7a" stroke-width="0.55" stroke-dasharray="1.5 1.7" fill="none"/><path d="M100 243.1H132.6M100 258.9H132.6M99.4 244.1V257.9" stroke="#8a8a8a" stroke-width="0.7" fill="none"/><ellipse cx="149.9" cy="251" rx="28.9" ry="29" fill="#fafafa"/><path d="M135.7 227.6L136.4 230M135.7 227.6L141.3 226.8M135.7 227.6L131.8 231.8M136.4 230L141.3 226.8M136.4 230L131.8 231.8M136.4 230L135.1 233.8M136.4 230L140.4 231.1M140.9 224.3L141.3 226.8M140.9 224.3L147.1 224.3M141.3 226.8L147.1 224.3M141.3 226.8L140.4 231.1M141.3 226.8L146 228.2M147.1 224.3L153.3 223.3M147.1 224.3L146 228.2M147.1 224.3L152.8 226.3M153.3 223.3L152.8 226.3M153.3 223.3L158.9 225.6M123.4 240.6L125.3 242.2M130.4 230.6L131.8 231.8M127.1 235.8L131.8 231.8M127.1 235.8L125.3 242.2M127.1 235.8L129.5 237.6M131.8 231.8L129.5 237.6M131.8 231.8L135.1 233.8M122.8 254.5L125.9 256M122.8 254.5L124.9 249.9M122.8 254.5L124.6 260.8M125.9 256L130.8 258.4M125.9 256L124.9 249.9M125.9 256L128.8 252M125.9 256L128.7 263M125.9 256L124.6 260.8M130.8 258.4L134.9 259.3M130.8 258.4L128.8 252M130.8 258.4L133.9 253.7M130.8 258.4L133.9 263.6M130.8 258.4L128.7 263M134.9 259.3L133.9 253.7M134.9 259.3L139.2 262.9M134.9 259.3L133.9 263.6M134.9 259.3L139.3 257.1M122.2 247.6L124.9 249.9M122.2 247.6L125.3 242.2M124.9 249.9L128.8 252M124.9 249.9L125.3 242.2M124.9 249.9L128.5 244.4M128.8 252L133.9 253.7M128.8 252L128.5 244.4M128.8 252L133.7 246.7M133.9 253.7L133.7 246.7M133.9 253.7L139.3 257.1M133.9 253.7L138.8 250.1M125.3 242.2L128.5 244.4M125.3 242.2L129.5 237.6M128.5 244.4L133.7 246.7M128.5 244.4L129.5 237.6M128.5 244.4L133.8 240.3M133.7 246.7L133.8 240.3M133.7 246.7L138.4 243.2M133.7 246.7L138.8 250.1M129.5 237.6L133.8 240.3M129.5 237.6L135.1 233.8M133.8 240.3L135.1 233.8M133.8 240.3L138.9 235.9M133.8 240.3L138.4 243.2M135.1 233.8L140.4 231.1M135.1 233.8L138.9 235.9M140.4 231.1L145.8 232.7M140.4 231.1L146 228.2M140.4 231.1L138.9 235.9M145.8 232.7L151.7 236.1M145.8 232.7L146 228.2M145.8 232.7L152.4 230.4M145.8 232.7L145.5 239.1M145.8 232.7L138.9 235.9M151.7 236.1L157 240.3M151.7 236.1L152.4 230.4M151.7 236.1L158.3 234.5M151.7 236.1L151.1 242.5M151.7 236.1L145.5 239.1M157 240.3L161 244M157 240.3L158.3 234.5M157 240.3L162.7 239.1M157 240.3L157 246.6M157 240.3L151.1 242.5M161 244L162.7 239.1M161 244L162.4 250.1M161 244L157 246.6M161 244L166.4 244.9M146 228.2L152.4 230.4M146 228.2L152.8 226.3M152.4 230.4L158.3 234.5M152.4 230.4L152.8 226.3M152.4 230.4L159.5 229.5M158.3 234.5L162.7 239.1M158.3 234.5L159.5 229.5M158.3 234.5L164.2 233.8M162.7 239.1L164.2 233.8M162.7 239.1L166.4 244.9M162.7 239.1L168.2 240.3M152.8 226.3L159.5 229.5M152.8 226.3L158.9 225.6M159.5 229.5L164.2 233.8M159.5 229.5L158.9 225.6M159.5 229.5L165.1 230M164.2 233.8L165.1 230M164.2 233.8L169.3 234.8M164.2 233.8L168.2 240.3M158.9 225.6L165.1 230M158.9 225.6L164.7 227.1M165.1 230L164.7 227.1M165.1 230L168.9 230.6M165.1 230L169.3 234.8M161.3 272.8L162.4 274.9M161.3 272.8L165.9 270.4M161.3 272.8L156.5 275.8M161.3 272.8L156.1 272.2M161.3 272.8L162.5 268.8M162.4 274.9L165.9 270.4M162.4 274.9L167.8 272.2M162.4 274.9L156.5 275.8M162.4 274.9L157.5 277.9M165.9 270.4L167.8 272.2M165.9 270.4L170.9 266.5M165.9 270.4L162.5 268.8M165.9 270.4L167.5 265.1M167.8 272.2L170.9 266.5M170.9 266.5L173.3 267.1M170.9 266.5L175.3 261.5M170.9 266.5L167.5 265.1M170.9 266.5L172.9 260.6M175.3 261.5L172.9 260.6M175.3 261.5L176 255.6M156.5 275.8L151.7 278.1M156.5 275.8L157.5 277.9M156.5 275.8L156.1 272.2M156.5 275.8L150.8 274.7M151.7 278.1L157.5 277.9M151.7 278.1L150.8 274.7M151.7 278.1L144.7 276.6M145.4 278.9L144.7 276.6M156.1 272.2L150.4 270M156.1 272.2L150.8 274.7M156.1 272.2L162.5 268.8M156.1 272.2L157.3 266.8M150.4 270L144.1 266.3M150.4 270L150.8 274.7M150.4 270L144.6 271.9M150.4 270L157.3 266.8M150.4 270L151.2 263.8M144.1 266.3L139.2 262.9M144.1 266.3L144.6 271.9M144.1 266.3L138.4 268.5M144.1 266.3L151.2 263.8M144.1 266.3L144.7 260.9M139.2 262.9L138.4 268.5M139.2 262.9L133.9 263.6M139.2 262.9L144.7 260.9M139.2 262.9L139.3 257.1M150.8 274.7L144.6 271.9M150.8 274.7L144.7 276.6M144.6 271.9L138.4 268.5M144.6 271.9L144.7 276.6M144.6 271.9L138.2 273.2M138.4 268.5L133.9 263.6M138.4 268.5L138.2 273.2M138.4 268.5L133.4 268.9M133.9 263.6L133.4 268.9M133.9 263.6L128.7 263M144.7 276.6L138.2 273.2M144.7 276.6L138.9 276.6M138.2 273.2L133.4 268.9M138.2 273.2L138.9 276.6M138.2 273.2L133.3 272.5M133.4 268.9L133.3 272.5M133.4 268.9L128.7 263M133.4 268.9L128.6 267.4M138.9 276.6L133.3 272.5M133.3 272.5L128.6 267.4M162.5 268.8L163.1 262.6M162.5 268.8L157.3 266.8M162.5 268.8L167.5 265.1M163.1 262.6L163.3 256.1M163.1 262.6L157.3 266.8M163.1 262.6L157.3 260.3M163.1 262.6L167.5 265.1M163.1 262.6L168.2 258.9M163.3 256.1L162.4 250.1M163.3 256.1L157.3 260.3M163.3 256.1L157.3 253.4M163.3 256.1L168.2 258.9M163.3 256.1L167.9 251.7M162.4 250.1L157.3 253.4M162.4 250.1L157 246.6M162.4 250.1L167.9 251.7M162.4 250.1L166.4 244.9M157.3 266.8L157.3 260.3M157.3 266.8L151.2 263.8M157.3 260.3L157.3 253.4M157.3 260.3L151.2 263.8M157.3 260.3L150.8 257.1M157.3 253.4L157 246.6M157.3 253.4L150.8 257.1M157.3 253.4L150.9 249.6M157 246.6L150.9 249.6M157 246.6L151.1 242.5M151.2 263.8L150.8 257.1M151.2 263.8L144.7 260.9M150.8 257.1L150.9 249.6M150.8 257.1L144.7 260.9M150.8 257.1L144.5 253.3M150.9 249.6L144.5 253.3M150.9 249.6L151.1 242.5M150.9 249.6L144.5 246.2M144.7 260.9L144.5 253.3M144.7 260.9L139.3 257.1M144.5 253.3L139.3 257.1M144.5 253.3L144.5 246.2M144.5 253.3L138.8 250.1M139.3 257.1L138.8 250.1M167.5 265.1L172.9 260.6M167.5 265.1L168.2 258.9M172.9 260.6L176 255.6M172.9 260.6L168.2 258.9M172.9 260.6L172.6 253M176 255.6L177.8 250.7M176 255.6L172.6 253M176 255.6L175.2 248.1M177.8 250.7L175.2 248.1M168.2 258.9L172.6 253M168.2 258.9L167.9 251.7M172.6 253L175.2 248.1M172.6 253L167.9 251.7M172.6 253L171.1 246.3M175.2 248.1L171.1 246.3M175.2 248.1L176.6 243.7M175.2 248.1L173.1 241.4M167.9 251.7L171.1 246.3M167.9 251.7L166.4 244.9M171.1 246.3L166.4 244.9M171.1 246.3L173.1 241.4M171.1 246.3L168.2 240.3M166.4 244.9L168.2 240.3M128.7 263L124.6 260.8M128.7 263L128.6 267.4M124.6 260.8L128.6 267.4M151.1 242.5L145.5 239.1M151.1 242.5L144.5 246.2M145.5 239.1L138.9 235.9M145.5 239.1L144.5 246.2M145.5 239.1L138.4 243.2M138.9 235.9L138.4 243.2M144.5 246.2L138.4 243.2M144.5 246.2L138.8 250.1M138.4 243.2L138.8 250.1M176.6 243.7L173.1 241.4M173.6 237L173.1 241.4M173.6 237L169.3 234.8M168.9 230.6L169.3 234.8M173.1 241.4L169.3 234.8M173.1 241.4L168.2 240.3M169.3 234.8L168.2 240.3" fill="none" stroke="#c4c4c4" stroke-width="0.3"/><path d="M148.6 223.9L154.9 223.1M148.6 223.9L147.8 222.3M154.9 223.1L159.4 223.7M154.9 223.1L160.6 225.3M154.9 223.1L147.8 222.3M154.9 223.1L153.8 222.3M159.4 223.7L163.6 225.5M159.4 223.7L160.6 225.3M159.4 223.7L165.3 226.7M159.4 223.7L153.8 222.3M159.4 223.7L158.5 223.7M163.6 225.5L165.3 226.7M163.6 225.5L158.5 223.7M163.6 225.5L168.5 228.9M163.6 225.5L164.7 227.1M160.6 225.3L165.3 226.7M165.3 226.7L166.6 229.4M165.3 226.7L168.5 228.9M165.3 226.7L170.4 231M166.6 229.4L170.4 231M137.2 227.1L135.8 226M135.8 226L135.3 226.1M135.8 226L141.6 224.3M135.8 226L141 223.4M135.8 226L131.7 230.1M135.8 226L130.9 229.2M135.3 226.1L135.7 227.6M135.3 226.1L141 223.4M135.3 226.1L140.9 224.3M135.3 226.1L130.9 229.2M135.3 226.1L130.4 230.6M135.7 227.6L140.9 224.3M135.7 227.6L130.4 230.6M141.6 224.3L141 223.4M141.6 224.3L147.8 222.3M141 223.4L140.9 224.3M141 223.4L147.8 222.3M141 223.4L146.9 222.5M140.9 224.3L146.9 222.5M147.8 222.3L146.9 222.5M147.8 222.3L153.8 222.3M146.9 222.5L147.1 224.3M146.9 222.5L153.8 222.3M146.9 222.5L153.3 223.3M153.8 222.3L153.3 223.3M153.8 222.3L158.5 223.7M153.3 223.3L158.5 223.7M158.5 223.7L158.9 225.6M158.5 223.7L164.7 227.1M128.6 235.5L126.6 234.7M124.5 240.3L122.1 245.9M124.5 240.3L126.6 234.7M124.5 240.3L123 240.4M122.1 245.9L121.1 250.6M122.1 245.9L123 240.4M122.1 245.9L121.6 245.3M122.1 245.9L123.6 246.9M122.1 245.9L121.9 252.4M121.1 250.6L121.6 245.3M121.1 250.6L121.9 252.4M121.1 250.6L121.4 255.3M121.1 250.6L121.2 251.9M131.7 230.1L126.6 234.7M131.7 230.1L130.9 229.2M126.6 234.7L123 240.4M126.6 234.7L130.9 229.2M126.6 234.7L125.9 235.1M123 240.4L121.6 245.3M123 240.4L125.9 235.1M123 240.4L123.4 240.6M121.6 245.3L123.4 240.6M121.6 245.3L121.2 251.9M121.6 245.3L122.2 247.6M130.9 229.2L125.9 235.1M130.9 229.2L130.4 230.6M125.9 235.1L123.4 240.6M125.9 235.1L130.4 230.6M125.9 235.1L127.1 235.8M123.4 240.6L127.1 235.8M123.4 240.6L122.2 247.6M130.4 230.6L127.1 235.8M121.9 252.4L122.9 257.9M121.9 252.4L121.4 255.3M168.5 228.9L173 233.7M168.5 228.9L170.4 231M168.5 228.9L164.7 227.1M168.5 228.9L168.9 230.6M173 233.7L176.5 239.9M173 233.7L170.4 231M173 233.7L174.6 236.5M173 233.7L173.6 237M173 233.7L168.9 230.6M176.5 239.9L178.3 246M176.5 239.9L174.6 236.5M176.5 239.9L177.4 242.8M176.5 239.9L176.6 243.7M176.5 239.9L173.6 237M178.3 246L178.8 251.3M178.3 246L177.4 242.8M178.3 246L178.6 249.9M178.3 246L177.8 250.7M178.3 246L176.6 243.7M178.8 251.3L178.6 249.9M178.8 251.3L177.8 256.3M178.8 251.3L178.3 256.4M178.8 251.3L177.8 250.7M170.4 231L174.6 236.5M170.4 231L171.3 234.4M174.6 236.5L177.4 242.8M174.6 236.5L171.3 234.4M174.6 236.5L175.2 240.9M177.4 242.8L178.6 249.9M177.4 242.8L175.2 240.9M177.4 242.8L177.1 247.9M178.6 249.9L177.1 247.9M178.6 249.9L178.3 256.4M178.6 249.9L177.4 255.2M177.1 247.9L177.4 255.2M135.6 275.2L136.6 276.7M135.6 275.2L129.9 270.6M135.6 275.2L131.6 273.3M135.6 275.2L140.8 278.1M136.6 276.7L131.6 273.3M136.6 276.7L140.2 278.2M136.6 276.7L140.8 278.1M136.6 276.7L134.3 275.1M129.9 270.6L131.6 273.3M129.9 270.6L125.8 264.9M129.9 270.6L127 268.5M131.6 273.3L127 268.5M131.6 273.3L134.3 275.1M131.6 273.3L129.3 270.9M125.8 264.9L127 268.5M125.8 264.9L122.9 257.9M125.8 264.9L123.4 262.3M127 268.5L123.4 262.3M127 268.5L125.1 265.4M127 268.5L129.3 270.9M122.9 257.9L123.4 262.3M122.9 257.9L121.4 255.3M123.4 262.3L121.4 255.3M123.4 262.3L122.2 258.4M123.4 262.3L125.1 265.4M121.4 255.3L121.2 251.9M121.4 255.3L122.2 258.4M121.2 251.9L122.8 254.5M121.2 251.9L122.2 247.6M121.2 251.9L122.2 258.4M122.8 254.5L122.2 247.6M122.8 254.5L122.2 258.4M164.7 227.1L168.9 230.6M162.4 274.9L163.8 276.2M163.8 276.2L164.2 276M163.8 276.2L167.8 272.2M163.8 276.2L169.4 272.4M163.8 276.2L157.5 277.9M163.8 276.2L158.6 278.7M164.2 276L164.2 274.1M164.2 276L169.4 272.4M164.2 276L169 271.9M164.2 276L158.6 278.7M164.2 276L159.1 277.5M164.2 274.1L169 271.9M167.8 272.2L169.4 272.4M167.8 272.2L173.3 267.1M169.4 272.4L169 271.9M169.4 272.4L173.3 267.1M169.4 272.4L173.8 267.1M169 271.9L173.8 267.1M169 271.9L173 266.1M173.3 267.1L173.8 267.1M173.3 267.1L175.3 261.5M173.3 267.1L176.5 262.3M173.8 267.1L173 266.1M173.8 267.1L176.5 262.3M173.8 267.1L176.3 261.5M173 266.1L176.3 261.5M175.3 261.5L176.5 262.3M175.3 261.5L177.8 256.3M176.5 262.3L176.3 261.5M176.5 262.3L177.8 256.3M176.5 262.3L178.3 256.4M176.3 261.5L178.3 256.4M176.3 261.5L177.4 255.2M177.8 256.3L178.3 256.4M177.8 256.3L176 255.6M177.8 256.3L177.8 250.7M178.3 256.4L177.4 255.2M151.7 278.1L145.4 278.9M151.7 278.1L152 279.8M145.4 278.9L140.2 278.2M145.4 278.9L152 279.8M145.4 278.9L146.2 279.7M145.4 278.9L138.9 276.6M140.2 278.2L146.2 279.7M140.2 278.2L140.8 278.1M140.2 278.2L138.9 276.6M140.2 278.2L134.3 275.1M157.5 277.9L152 279.8M157.5 277.9L158.6 278.7M152 279.8L146.2 279.7M152 279.8L158.6 278.7M152 279.8L152.9 279.5M146.2 279.7L140.8 278.1M146.2 279.7L152.9 279.5M146.2 279.7L146.4 278.6M140.8 278.1L146.4 278.6M140.8 278.1L140.7 276.2M158.6 278.7L152.9 279.5M158.6 278.7L159.1 277.5M152.9 279.5L146.4 278.6M152.9 279.5L159.1 277.5M152.9 279.5L153.1 277.7M138.9 276.6L134.3 275.1M133.3 272.5L134.3 275.1M133.3 272.5L129.3 270.9M134.3 275.1L129.3 270.9M177.8 250.7L176.6 243.7M124.6 260.8L122.2 258.4M124.6 260.8L125.1 265.4M122.2 258.4L125.1 265.4M128.6 267.4L125.1 265.4M128.6 267.4L129.3 270.9M125.1 265.4L129.3 270.9M176.6 243.7L173.6 237M173.6 237L168.9 230.6" fill="none" stroke="#aaa" stroke-width="0.3"/><path d="M139.1 229L142.9 230.3M139.1 229L137.4 233.3M139.1 229L143.4 226M139.1 229L137.2 227.1M139.1 229L133.8 231.6M142.9 230.3L149 232M142.9 230.3L137.4 233.3M142.9 230.3L142.8 234.8M142.9 230.3L143.4 226M142.9 230.3L148.2 227.1M149 232L155.2 235.5M149 232L142.8 234.8M149 232L148.8 238.2M149 232L148.2 227.1M149 232L154.9 229.7M155.2 235.5L160.7 238.6M155.2 235.5L148.8 238.2M155.2 235.5L155.2 241.7M155.2 235.5L154.9 229.7M155.2 235.5L161.6 233.3M160.7 238.6L164.7 242.7M160.7 238.6L155.2 241.7M160.7 238.6L160.6 244.6M160.7 238.6L161.6 233.3M160.7 238.6L166.1 238.1M164.7 242.7L160.6 244.6M164.7 242.7L166.1 238.1M164.7 242.7L169.7 244.4M164.7 242.7L166.1 248.2M137.4 233.3L142.8 234.8M137.4 233.3L136.2 239M137.4 233.3L133.8 231.6M137.4 233.3L132.1 236.9M142.8 234.8L148.8 238.2M142.8 234.8L136.2 239M142.8 234.8L142.4 242.1M148.8 238.2L155.2 241.7M148.8 238.2L142.4 242.1M148.8 238.2L149 245.5M155.2 241.7L160.6 244.6M155.2 241.7L149 245.5M155.2 241.7L154.9 249M160.6 244.6L154.9 249M160.6 244.6L166.1 248.2M160.6 244.6L161.3 251.6M136.2 239L142.4 242.1M136.2 239L136.7 246M136.2 239L132.1 236.9M136.2 239L131.7 243.5M142.4 242.1L149 245.5M142.4 242.1L136.7 246M142.4 242.1L142.4 249.1M149 245.5L154.9 249M149 245.5L142.4 249.1M149 245.5L149.4 251.8M154.9 249L149.4 251.8M154.9 249L161.3 251.6M154.9 249L154.7 255.9M136.7 246L142.4 249.1M136.7 246L137.8 252.7M136.7 246L131.7 243.5M136.7 246L132.5 250.3M142.4 249.1L149.4 251.8M142.4 249.1L137.8 252.7M142.4 249.1L142.5 255.5M149.4 251.8L142.5 255.5M149.4 251.8L154.7 255.9M149.4 251.8L149 259.1M137.8 252.7L142.5 255.5M137.8 252.7L138.7 257.6M137.8 252.7L132.5 250.3M137.8 252.7L133.5 256.8M142.5 255.5L138.7 257.6M142.5 255.5L149 259.1M142.5 255.5L142.1 261.6M138.7 257.6L133.5 256.8M138.7 257.6L142.1 261.6M138.7 257.6L137.4 263.2M143.4 226L148.6 223.9M143.4 226L148.2 227.1M143.4 226L137.2 227.1M143.4 226L141.6 224.3M148.6 223.9L148.2 227.1M148.6 223.9L154.8 225.3M148.6 223.9L141.6 224.3M154.9 223.1L154.8 225.3M148.2 227.1L154.8 225.3M148.2 227.1L154.9 229.7M154.8 225.3L160.6 225.3M154.8 225.3L154.9 229.7M154.8 225.3L161.5 228.8M160.6 225.3L161.5 228.8M160.6 225.3L166.6 229.4M154.9 229.7L161.5 228.8M154.9 229.7L161.6 233.3M161.5 228.8L166.6 229.4M161.5 228.8L161.6 233.3M161.5 228.8L166.7 233.5M166.6 229.4L166.7 233.5M166.6 229.4L171.3 234.4M161.6 233.3L166.7 233.5M161.6 233.3L166.1 238.1M166.7 233.5L166.1 238.1M166.7 233.5L171.3 234.4M166.7 233.5L170.8 238.6M166.1 238.1L170.8 238.6M166.1 238.1L169.7 244.4M137.2 227.1L141.6 224.3M137.2 227.1L133.8 231.6M137.2 227.1L131.7 230.1M133.8 231.6L128.6 235.5M133.8 231.6L131.7 230.1M133.8 231.6L132.1 236.9M128.6 235.5L124.5 240.3M128.6 235.5L131.7 230.1M128.6 235.5L132.1 236.9M128.6 235.5L127.3 241.1M124.5 240.3L127.3 241.1M124.5 240.3L123.6 246.9M132.1 236.9L131.7 243.5M132.1 236.9L127.3 241.1M131.7 243.5L132.5 250.3M131.7 243.5L127.3 241.1M131.7 243.5L127.2 248.6M132.5 250.3L133.5 256.8M132.5 250.3L127.2 248.6M132.5 250.3L128.6 255.5M133.5 256.8L128.6 255.5M133.5 256.8L137.4 263.2M133.5 256.8L131.2 262.2M127.3 241.1L127.2 248.6M127.3 241.1L123.6 246.9M127.2 248.6L128.6 255.5M127.2 248.6L123.6 246.9M127.2 248.6L124.5 253.2M128.6 255.5L124.5 253.2M128.6 255.5L131.2 262.2M128.6 255.5L126 260M123.6 246.9L124.5 253.2M123.6 246.9L121.9 252.4M124.5 253.2L121.9 252.4M124.5 253.2L126 260M124.5 253.2L122.9 257.9M171.3 234.4L175.2 240.9M171.3 234.4L170.8 238.6M175.2 240.9L177.1 247.9M175.2 240.9L170.8 238.6M175.2 240.9L173.9 245.5M177.1 247.9L173.9 245.5M177.1 247.9L174.7 252.2M170.8 238.6L173.9 245.5M170.8 238.6L169.7 244.4M173.9 245.5L169.7 244.4M173.9 245.5L170.8 249.3M173.9 245.5L174.7 252.2M169.7 244.4L166.1 248.2M169.7 244.4L170.8 249.3M166.1 248.2L166.8 255.6M166.1 248.2L161.3 251.6M166.1 248.2L170.8 249.3M166.8 255.6L166.1 261.8M166.8 255.6L161.3 251.6M166.8 255.6L160.8 259.3M166.8 255.6L171.2 257.5M166.8 255.6L170.8 249.3M166.1 261.8L165.1 267.7M166.1 261.8L160.8 259.3M166.1 261.8L160.1 266.3M166.1 261.8L170.2 264.2M166.1 261.8L171.2 257.5M165.1 267.7L163.8 272M165.1 267.7L160.1 266.3M165.1 267.7L159.1 270.7M165.1 267.7L168 269.6M165.1 267.7L170.2 264.2M163.8 272L159.1 270.7M163.8 272L164.2 274.1M163.8 272L168 269.6M163.8 272L158.1 275.4M161.3 251.6L160.8 259.3M161.3 251.6L154.7 255.9M160.8 259.3L160.1 266.3M160.8 259.3L154.7 255.9M160.8 259.3L154.8 263.2M160.1 266.3L159.1 270.7M160.1 266.3L154.8 263.2M160.1 266.3L153.9 268.9M159.1 270.7L153.9 268.9M159.1 270.7L158.1 275.4M159.1 270.7L153.6 274.2M154.7 255.9L154.8 263.2M154.7 255.9L149 259.1M154.8 263.2L153.9 268.9M154.8 263.2L149 259.1M154.8 263.2L148 265.7M153.9 268.9L148 265.7M153.9 268.9L147.2 271.4M153.9 268.9L153.6 274.2M149 259.1L148 265.7M149 259.1L142.1 261.6M148 265.7L142.1 261.6M148 265.7L141.6 267.1M148 265.7L147.2 271.4M142.1 261.6L137.4 263.2M142.1 261.6L141.6 267.1M137.4 263.2L135.8 267.7M137.4 263.2L131.2 262.2M137.4 263.2L141.6 267.1M135.8 267.7L135 272.3M135.8 267.7L131.2 262.2M135.8 267.7L130.4 267M135.8 267.7L140.3 272.5M135.8 267.7L141.6 267.1M135 272.3L135.6 275.2M135 272.3L130.4 267M135 272.3L129.9 270.6M135 272.3L140.7 276.2M135 272.3L140.3 272.5M135.6 275.2L140.7 276.2M131.2 262.2L130.4 267M131.2 262.2L126 260M130.4 267L129.9 270.6M130.4 267L126 260M130.4 267L125.8 264.9M126 260L125.8 264.9M126 260L122.9 257.9M164.2 274.1L168 269.6M164.2 274.1L159.1 277.5M164.2 274.1L158.1 275.4M169 271.9L168 269.6M168 269.6L173 266.1M168 269.6L170.2 264.2M173 266.1L170.2 264.2M173 266.1L174.6 259.8M176.3 261.5L174.6 259.8M146.4 278.6L153.1 277.7M146.4 278.6L140.7 276.2M146.4 278.6L146.8 275.8M159.1 277.5L153.1 277.7M159.1 277.5L158.1 275.4M153.1 277.7L158.1 275.4M153.1 277.7L146.8 275.8M153.1 277.7L153.6 274.2M158.1 275.4L153.6 274.2M170.2 264.2L171.2 257.5M170.2 264.2L174.6 259.8M171.2 257.5L170.8 249.3M171.2 257.5L174.6 259.8M171.2 257.5L174.7 252.2M170.8 249.3L174.7 252.2M174.6 259.8L174.7 252.2M174.6 259.8L177.4 255.2M174.7 252.2L177.4 255.2M140.7 276.2L140.3 272.5M140.7 276.2L146.8 275.8M140.3 272.5L141.6 267.1M140.3 272.5L146.8 275.8M140.3 272.5L147.2 271.4M141.6 267.1L147.2 271.4M146.8 275.8L147.2 271.4M146.8 275.8L153.6 274.2M147.2 271.4L153.6 274.2" fill="none" stroke="#9a9a9a" stroke-width="0.32"/><ellipse cx="149.9" cy="251" rx="28.6" ry="28.7" fill="none" stroke="#999" stroke-width="0.6"/><circle cx="155.5" cy="266.7" r="1" fill="#333"/><rect x="172.5" y="309.4" width="51.5" height="8.1" fill="#ababab" rx="1.5"/><path d="M174 311.5H224M174 313.5H224M174 315.5H224" stroke="#7a7a7a" stroke-width="0.55" stroke-dasharray="1.5 1.7" fill="none"/><path d="M173.5 309.4H224M173.5 317.6H224M172.9 310.4V316.6" stroke="#8a8a8a" stroke-width="0.7" fill="none"/><ellipse cx="236.2" cy="314" rx="20.4" ry="21" fill="#fafafa"/><path d="M226.2 297.1L226.6 298.8M226.2 297.1L230.2 296.5M226.2 297.1L223.4 300.1M226.6 298.8L230.2 296.5M226.6 298.8L223.4 300.1M226.6 298.8L225.8 301.6M226.6 298.8L229.5 299.6M229.8 294.7L230.2 296.5M229.8 294.7L234.2 294.7M230.2 296.5L234.2 294.7M230.2 296.5L229.5 299.6M230.2 296.5L233.4 297.5M234.2 294.7L238.6 293.9M234.2 294.7L233.4 297.5M234.2 294.7L238.3 296.1M238.6 293.9L238.3 296.1M238.6 293.9L242.6 295.6M217.5 306.5L218.9 307.6M222.4 299.3L223.4 300.1M220.1 303L223.4 300.1M220.1 303L218.9 307.6M220.1 303L221.8 304.3M223.4 300.1L221.8 304.3M223.4 300.1L225.8 301.6M217.1 316.5L219.2 317.6M217.1 316.5L218.5 313.2M217.1 316.5L218.4 321.1M219.2 317.6L222.7 319.4M219.2 317.6L218.5 313.2M219.2 317.6L221.3 314.7M219.2 317.6L221.2 322.7M219.2 317.6L218.4 321.1M222.7 319.4L225.6 320M222.7 319.4L221.3 314.7M222.7 319.4L224.9 316M222.7 319.4L224.9 323.1M222.7 319.4L221.2 322.7M225.6 320L224.9 316M225.6 320L228.6 322.6M225.6 320L224.9 323.1M225.6 320L228.7 318.4M216.7 311.6L218.5 313.2M216.7 311.6L218.9 307.6M218.5 313.2L221.3 314.7M218.5 313.2L218.9 307.6M218.5 313.2L221.1 309.2M221.3 314.7L224.9 316M221.3 314.7L221.1 309.2M221.3 314.7L224.8 310.9M224.9 316L224.8 310.9M224.9 316L228.7 318.4M224.9 316L228.4 313.3M218.9 307.6L221.1 309.2M218.9 307.6L221.8 304.3M221.1 309.2L224.8 310.9M221.1 309.2L221.8 304.3M221.1 309.2L224.9 306.3M224.8 310.9L224.9 306.3M224.8 310.9L228 308.4M224.8 310.9L228.4 313.3M221.8 304.3L224.9 306.3M221.8 304.3L225.8 301.6M224.9 306.3L225.8 301.6M224.9 306.3L228.4 303.1M224.9 306.3L228 308.4M225.8 301.6L229.5 299.6M225.8 301.6L228.4 303.1M229.5 299.6L233.3 300.8M229.5 299.6L233.4 297.5M229.5 299.6L228.4 303.1M233.3 300.8L237.5 303.2M233.3 300.8L233.4 297.5M233.3 300.8L238 299.1M233.3 300.8L233.1 305.3M233.3 300.8L228.4 303.1M237.5 303.2L241.2 306.3M237.5 303.2L238 299.1M237.5 303.2L242.1 302M237.5 303.2L237.1 307.8M237.5 303.2L233.1 305.3M241.2 306.3L244 308.9M241.2 306.3L242.1 302M241.2 306.3L245.3 305.4M241.2 306.3L241.2 310.8M241.2 306.3L237.1 307.8M244 308.9L245.3 305.4M244 308.9L245 313.4M244 308.9L241.2 310.8M244 308.9L247.9 309.6M233.4 297.5L238 299.1M233.4 297.5L238.3 296.1M238 299.1L242.1 302M238 299.1L238.3 296.1M238 299.1L243 298.4M242.1 302L245.3 305.4M242.1 302L243 298.4M242.1 302L246.3 301.5M245.3 305.4L246.3 301.5M245.3 305.4L247.9 309.6M245.3 305.4L249.1 306.2M238.3 296.1L243 298.4M238.3 296.1L242.6 295.6M243 298.4L246.3 301.5M243 298.4L242.6 295.6M243 298.4L246.9 298.8M246.3 301.5L246.9 298.8M246.3 301.5L249.9 302.3M246.3 301.5L249.1 306.2M242.6 295.6L246.9 298.8M242.6 295.6L246.6 296.7M246.9 298.8L246.6 296.7M246.9 298.8L249.6 299.3M246.9 298.8L249.9 302.3M244.2 329.8L245.1 331.3M244.2 329.8L247.5 328.1M244.2 329.8L240.8 332M244.2 329.8L240.6 329.3M244.2 329.8L245.1 326.9M245.1 331.3L247.5 328.1M245.1 331.3L248.8 329.4M245.1 331.3L240.8 332M245.1 331.3L241.6 333.5M247.5 328.1L248.8 329.4M247.5 328.1L251.1 325.2M247.5 328.1L245.1 326.9M247.5 328.1L248.6 324.2M248.8 329.4L251.1 325.2M251.1 325.2L252.7 325.7M251.1 325.2L254.1 321.6M251.1 325.2L248.6 324.2M251.1 325.2L252.4 320.9M254.1 321.6L252.4 320.9M254.1 321.6L254.7 317.3M240.8 332L237.5 333.7M240.8 332L241.6 333.5M240.8 332L240.6 329.3M240.8 332L236.9 331.1M237.5 333.7L241.6 333.5M237.5 333.7L236.9 331.1M237.5 333.7L232.5 332.6M233 334.2L232.5 332.6M240.6 329.3L236.5 327.7M240.6 329.3L236.9 331.1M240.6 329.3L245.1 326.9M240.6 329.3L241.4 325.5M236.5 327.7L232.1 325.1M236.5 327.7L236.9 331.1M236.5 327.7L232.4 329.1M236.5 327.7L241.4 325.5M236.5 327.7L237.1 323.2M232.1 325.1L228.6 322.6M232.1 325.1L232.4 329.1M232.1 325.1L228.1 326.7M232.1 325.1L237.1 323.2M232.1 325.1L232.6 321.1M228.6 322.6L228.1 326.7M228.6 322.6L224.9 323.1M228.6 322.6L232.6 321.1M228.6 322.6L228.7 318.4M236.9 331.1L232.4 329.1M236.9 331.1L232.5 332.6M232.4 329.1L228.1 326.7M232.4 329.1L232.5 332.6M232.4 329.1L228 330.1M228.1 326.7L224.9 323.1M228.1 326.7L228 330.1M228.1 326.7L224.6 327M224.9 323.1L224.6 327M224.9 323.1L221.2 322.7M232.5 332.6L228 330.1M232.5 332.6L228.4 332.5M228 330.1L224.6 327M228 330.1L228.4 332.5M228 330.1L224.4 329.5M224.6 327L224.4 329.5M224.6 327L221.2 322.7M224.6 327L221.1 325.9M228.4 332.5L224.4 329.5M224.4 329.5L221.1 325.9M245.1 326.9L245.5 322.4M245.1 326.9L241.4 325.5M245.1 326.9L248.6 324.2M245.5 322.4L245.6 317.7M245.5 322.4L241.4 325.5M245.5 322.4L241.4 320.8M245.5 322.4L248.6 324.2M245.5 322.4L249.1 319.7M245.6 317.7L245 313.4M245.6 317.7L241.4 320.8M245.6 317.7L241.4 315.7M245.6 317.7L249.1 319.7M245.6 317.7L248.9 314.5M245 313.4L241.4 315.7M245 313.4L241.2 310.8M245 313.4L248.9 314.5M245 313.4L247.9 309.6M241.4 325.5L241.4 320.8M241.4 325.5L237.1 323.2M241.4 320.8L241.4 315.7M241.4 320.8L237.1 323.2M241.4 320.8L236.8 318.4M241.4 315.7L241.2 310.8M241.4 315.7L236.8 318.4M241.4 315.7L236.9 313M241.2 310.8L236.9 313M241.2 310.8L237.1 307.8M237.1 323.2L236.8 318.4M237.1 323.2L232.6 321.1M236.8 318.4L236.9 313M236.8 318.4L232.6 321.1M236.8 318.4L232.4 315.7M236.9 313L232.4 315.7M236.9 313L237.1 307.8M236.9 313L232.4 310.5M232.6 321.1L232.4 315.7M232.6 321.1L228.7 318.4M232.4 315.7L228.7 318.4M232.4 315.7L232.4 310.5M232.4 315.7L228.4 313.3M228.7 318.4L228.4 313.3M248.6 324.2L252.4 320.9M248.6 324.2L249.1 319.7M252.4 320.9L254.7 317.3M252.4 320.9L249.1 319.7M252.4 320.9L252.3 315.5M254.7 317.3L255.9 313.8M254.7 317.3L252.3 315.5M254.7 317.3L254.1 311.9M255.9 313.8L254.1 311.9M249.1 319.7L252.3 315.5M249.1 319.7L248.9 314.5M252.3 315.5L254.1 311.9M252.3 315.5L248.9 314.5M252.3 315.5L251.2 310.6M254.1 311.9L251.2 310.6M254.1 311.9L255.1 308.7M254.1 311.9L252.5 307.1M248.9 314.5L251.2 310.6M248.9 314.5L247.9 309.6M251.2 310.6L247.9 309.6M251.2 310.6L252.5 307.1M251.2 310.6L249.1 306.2M247.9 309.6L249.1 306.2M221.2 322.7L218.4 321.1M221.2 322.7L221.1 325.9M218.4 321.1L221.1 325.9M237.1 307.8L233.1 305.3M237.1 307.8L232.4 310.5M233.1 305.3L228.4 303.1M233.1 305.3L232.4 310.5M233.1 305.3L228 308.4M228.4 303.1L228 308.4M232.4 310.5L228 308.4M232.4 310.5L228.4 313.3M228 308.4L228.4 313.3M255.1 308.7L252.5 307.1M252.9 303.8L252.5 307.1M252.9 303.8L249.9 302.3M249.6 299.3L249.9 302.3M252.5 307.1L249.9 302.3M252.5 307.1L249.1 306.2M249.9 302.3L249.1 306.2" fill="none" stroke="#c4c4c4" stroke-width="0.3"/><path d="M235.2 294.4L239.7 293.8M235.2 294.4L234.7 293.2M239.7 293.8L242.9 294.2M239.7 293.8L243.8 295.4M239.7 293.8L234.7 293.2M239.7 293.8L238.9 293.2M242.9 294.2L245.9 295.6M242.9 294.2L243.8 295.4M242.9 294.2L247.1 296.4M242.9 294.2L238.9 293.2M242.9 294.2L242.3 294.3M245.9 295.6L247.1 296.4M245.9 295.6L242.3 294.3M245.9 295.6L249.4 298M245.9 295.6L246.6 296.7M243.8 295.4L247.1 296.4M247.1 296.4L248 298.3M247.1 296.4L249.4 298M247.1 296.4L250.7 299.5M248 298.3L250.7 299.5M227.2 296.7L226.3 295.9M226.3 295.9L225.9 296M226.3 295.9L230.3 294.7M226.3 295.9L229.9 294M226.3 295.9L223.4 298.9M226.3 295.9L222.8 298.2M225.9 296L226.2 297.1M225.9 296L229.9 294M225.9 296L229.8 294.7M225.9 296L222.8 298.2M225.9 296L222.4 299.3M226.2 297.1L229.8 294.7M226.2 297.1L222.4 299.3M230.3 294.7L229.9 294M230.3 294.7L234.7 293.2M229.9 294L229.8 294.7M229.9 294L234.7 293.2M229.9 294L234.1 293.4M229.8 294.7L234.1 293.4M234.7 293.2L234.1 293.4M234.7 293.2L238.9 293.2M234.1 293.4L234.2 294.7M234.1 293.4L238.9 293.2M234.1 293.4L238.6 293.9M238.9 293.2L238.6 293.9M238.9 293.2L242.3 294.3M238.6 293.9L242.3 294.3M242.3 294.3L242.6 295.6M242.3 294.3L246.6 296.7M221.2 302.7L219.7 302.2M218.2 306.2L216.6 310.3M218.2 306.2L219.7 302.2M218.2 306.2L217.2 306.4M216.6 310.3L215.9 313.7M216.6 310.3L217.2 306.4M216.6 310.3L216.2 309.9M216.6 310.3L217.7 311M216.6 310.3L216.5 315M215.9 313.7L216.2 309.9M215.9 313.7L216.5 315M215.9 313.7L216.1 317.1M215.9 313.7L215.9 314.7M223.4 298.9L219.7 302.2M223.4 298.9L222.8 298.2M219.7 302.2L217.2 306.4M219.7 302.2L222.8 298.2M219.7 302.2L219.2 302.5M217.2 306.4L216.2 309.9M217.2 306.4L219.2 302.5M217.2 306.4L217.5 306.5M216.2 309.9L217.5 306.5M216.2 309.9L215.9 314.7M216.2 309.9L216.7 311.6M222.8 298.2L219.2 302.5M222.8 298.2L222.4 299.3M219.2 302.5L217.5 306.5M219.2 302.5L222.4 299.3M219.2 302.5L220.1 303M217.5 306.5L220.1 303M217.5 306.5L216.7 311.6M222.4 299.3L220.1 303M216.5 315L217.1 319M216.5 315L216.1 317.1M249.4 298L252.5 301.5M249.4 298L250.7 299.5M249.4 298L246.6 296.7M249.4 298L249.6 299.3M252.5 301.5L255 305.9M252.5 301.5L250.7 299.5M252.5 301.5L253.6 303.5M252.5 301.5L252.9 303.8M252.5 301.5L249.6 299.3M255 305.9L256.2 310.4M255 305.9L253.6 303.5M255 305.9L255.6 308.1M255 305.9L255.1 308.7M255 305.9L252.9 303.8M256.2 310.4L256.6 314.2M256.2 310.4L255.6 308.1M256.2 310.4L256.5 313.2M256.2 310.4L255.9 313.8M256.2 310.4L255.1 308.7M256.6 314.2L256.5 313.2M256.6 314.2L255.9 317.8M256.6 314.2L256.2 317.9M256.6 314.2L255.9 313.8M250.7 299.5L253.6 303.5M250.7 299.5L251.3 302M253.6 303.5L255.6 308.1M253.6 303.5L251.3 302M253.6 303.5L254.1 306.7M255.6 308.1L256.5 313.2M255.6 308.1L254.1 306.7M255.6 308.1L255.4 311.8M256.5 313.2L255.4 311.8M256.5 313.2L256.2 317.9M256.5 313.2L255.6 317M255.4 311.8L255.6 317M226.1 331.5L226.8 332.6M226.1 331.5L222.1 328.2M226.1 331.5L223.3 330.2M226.1 331.5L229.8 333.6M226.8 332.6L223.3 330.2M226.8 332.6L229.3 333.7M226.8 332.6L229.8 333.6M226.8 332.6L225.2 331.5M222.1 328.2L223.3 330.2M222.1 328.2L219.2 324.1M222.1 328.2L220 326.7M223.3 330.2L220 326.7M223.3 330.2L225.2 331.5M223.3 330.2L221.7 328.4M219.2 324.1L220 326.7M219.2 324.1L217.1 319M219.2 324.1L217.5 322.2M220 326.7L217.5 322.2M220 326.7L218.7 324.4M220 326.7L221.7 328.4M217.1 319L217.5 322.2M217.1 319L216.1 317.1M217.5 322.2L216.1 317.1M217.5 322.2L216.7 319.4M217.5 322.2L218.7 324.4M216.1 317.1L215.9 314.7M216.1 317.1L216.7 319.4M215.9 314.7L217.1 316.5M215.9 314.7L216.7 311.6M215.9 314.7L216.7 319.4M217.1 316.5L216.7 311.6M217.1 316.5L216.7 319.4M246.6 296.7L249.6 299.3M245.1 331.3L246 332.2M246 332.2L246.3 332.1M246 332.2L248.8 329.4M246 332.2L250 329.5M246 332.2L241.6 333.5M246 332.2L242.3 334M246.3 332.1L246.3 330.7M246.3 332.1L250 329.5M246.3 332.1L249.7 329.1M246.3 332.1L242.3 334M246.3 332.1L242.7 333.2M246.3 330.7L249.7 329.1M248.8 329.4L250 329.5M248.8 329.4L252.7 325.7M250 329.5L249.7 329.1M250 329.5L252.7 325.7M250 329.5L253.1 325.7M249.7 329.1L253.1 325.7M249.7 329.1L252.5 324.9M252.7 325.7L253.1 325.7M252.7 325.7L254.1 321.6M252.7 325.7L254.9 322.2M253.1 325.7L252.5 324.9M253.1 325.7L254.9 322.2M253.1 325.7L254.8 321.6M252.5 324.9L254.8 321.6M254.1 321.6L254.9 322.2M254.1 321.6L255.9 317.8M254.9 322.2L254.8 321.6M254.9 322.2L255.9 317.8M254.9 322.2L256.2 317.9M254.8 321.6L256.2 317.9M254.8 321.6L255.6 317M255.9 317.8L256.2 317.9M255.9 317.8L254.7 317.3M255.9 317.8L255.9 313.8M256.2 317.9L255.6 317M237.5 333.7L233 334.2M237.5 333.7L237.7 334.9M233 334.2L229.3 333.7M233 334.2L237.7 334.9M233 334.2L233.6 334.8M233 334.2L228.4 332.5M229.3 333.7L233.6 334.8M229.3 333.7L229.8 333.6M229.3 333.7L228.4 332.5M229.3 333.7L225.2 331.5M241.6 333.5L237.7 334.9M241.6 333.5L242.3 334M237.7 334.9L233.6 334.8M237.7 334.9L242.3 334M237.7 334.9L238.3 334.7M233.6 334.8L229.8 333.6M233.6 334.8L238.3 334.7M233.6 334.8L233.7 334M229.8 333.6L233.7 334M229.8 333.6L229.7 332.2M242.3 334L238.3 334.7M242.3 334L242.7 333.2M238.3 334.7L233.7 334M238.3 334.7L242.7 333.2M238.3 334.7L238.4 333.4M228.4 332.5L225.2 331.5M224.4 329.5L225.2 331.5M224.4 329.5L221.7 328.4M225.2 331.5L221.7 328.4M255.9 313.8L255.1 308.7M218.4 321.1L216.7 319.4M218.4 321.1L218.7 324.4M216.7 319.4L218.7 324.4M221.1 325.9L218.7 324.4M221.1 325.9L221.7 328.4M218.7 324.4L221.7 328.4M255.1 308.7L252.9 303.8M252.9 303.8L249.6 299.3" fill="none" stroke="#aaa" stroke-width="0.3"/><path d="M228.6 298L231.3 299M228.6 298L227.4 301.2M228.6 298L231.6 295.9M228.6 298L227.2 296.7M228.6 298L224.8 300M231.3 299L235.6 300.3M231.3 299L227.4 301.2M231.3 299L231.2 302.3M231.3 299L231.6 295.9M231.3 299L235 296.7M235.6 300.3L239.9 302.8M235.6 300.3L231.2 302.3M235.6 300.3L235.4 304.7M235.6 300.3L235 296.7M235.6 300.3L239.7 298.6M239.9 302.8L243.8 305M239.9 302.8L235.4 304.7M239.9 302.8L240 307.3M239.9 302.8L239.7 298.6M239.9 302.8L244.5 301.2M243.8 305L246.7 308M243.8 305L240 307.3M243.8 305L243.8 309.4M243.8 305L244.5 301.2M243.8 305L247.7 304.7M246.7 308L243.8 309.4M246.7 308L247.7 304.7M246.7 308L250.2 309.2M246.7 308L247.6 312M227.4 301.2L231.2 302.3M227.4 301.2L226.5 305.3M227.4 301.2L224.8 300M227.4 301.2L223.6 303.8M231.2 302.3L235.4 304.7M231.2 302.3L226.5 305.3M231.2 302.3L230.9 307.5M235.4 304.7L240 307.3M235.4 304.7L230.9 307.5M235.4 304.7L235.5 310M240 307.3L243.8 309.4M240 307.3L235.5 310M240 307.3L239.7 312.5M243.8 309.4L239.7 312.5M243.8 309.4L247.6 312M243.8 309.4L244.3 314.4M226.5 305.3L230.9 307.5M226.5 305.3L226.8 310.4M226.5 305.3L223.6 303.8M226.5 305.3L223.3 308.5M230.9 307.5L235.5 310M230.9 307.5L226.8 310.4M230.9 307.5L230.9 312.6M235.5 310L239.7 312.5M235.5 310L230.9 312.6M235.5 310L235.8 314.6M239.7 312.5L235.8 314.6M239.7 312.5L244.3 314.4M239.7 312.5L239.6 317.6M226.8 310.4L230.9 312.6M226.8 310.4L227.7 315.2M226.8 310.4L223.3 308.5M226.8 310.4L223.9 313.5M230.9 312.6L235.8 314.6M230.9 312.6L227.7 315.2M230.9 312.6L230.9 317.2M235.8 314.6L230.9 317.2M235.8 314.6L239.6 317.6M235.8 314.6L235.6 319.9M227.7 315.2L230.9 317.2M227.7 315.2L228.3 318.8M227.7 315.2L223.9 313.5M227.7 315.2L224.6 318.2M230.9 317.2L228.3 318.8M230.9 317.2L235.6 319.9M230.9 317.2L230.7 321.7M228.3 318.8L224.6 318.2M228.3 318.8L230.7 321.7M228.3 318.8L227.4 322.8M231.6 295.9L235.2 294.4M231.6 295.9L235 296.7M231.6 295.9L227.2 296.7M231.6 295.9L230.3 294.7M235.2 294.4L235 296.7M235.2 294.4L239.6 295.4M235.2 294.4L230.3 294.7M239.7 293.8L239.6 295.4M235 296.7L239.6 295.4M235 296.7L239.7 298.6M239.6 295.4L243.8 295.4M239.6 295.4L239.7 298.6M239.6 295.4L244.4 298M243.8 295.4L244.4 298M243.8 295.4L248 298.3M239.7 298.6L244.4 298M239.7 298.6L244.5 301.2M244.4 298L248 298.3M244.4 298L244.5 301.2M244.4 298L248.1 301.3M248 298.3L248.1 301.3M248 298.3L251.3 302M244.5 301.2L248.1 301.3M244.5 301.2L247.7 304.7M248.1 301.3L247.7 304.7M248.1 301.3L251.3 302M248.1 301.3L250.9 305M247.7 304.7L250.9 305M247.7 304.7L250.2 309.2M227.2 296.7L230.3 294.7M227.2 296.7L224.8 300M227.2 296.7L223.4 298.9M224.8 300L221.2 302.7M224.8 300L223.4 298.9M224.8 300L223.6 303.8M221.2 302.7L218.2 306.2M221.2 302.7L223.4 298.9M221.2 302.7L223.6 303.8M221.2 302.7L220.3 306.8M218.2 306.2L220.3 306.8M218.2 306.2L217.7 311M223.6 303.8L223.3 308.5M223.6 303.8L220.3 306.8M223.3 308.5L223.9 313.5M223.3 308.5L220.3 306.8M223.3 308.5L220.2 312.3M223.9 313.5L224.6 318.2M223.9 313.5L220.2 312.3M223.9 313.5L221.2 317.3M224.6 318.2L221.2 317.3M224.6 318.2L227.4 322.8M224.6 318.2L223 322.1M220.3 306.8L220.2 312.3M220.3 306.8L217.7 311M220.2 312.3L221.2 317.3M220.2 312.3L217.7 311M220.2 312.3L218.2 315.6M221.2 317.3L218.2 315.6M221.2 317.3L223 322.1M221.2 317.3L219.4 320.5M217.7 311L218.2 315.6M217.7 311L216.5 315M218.2 315.6L216.5 315M218.2 315.6L219.4 320.5M218.2 315.6L217.1 319M251.3 302L254.1 306.7M251.3 302L250.9 305M254.1 306.7L255.4 311.8M254.1 306.7L250.9 305M254.1 306.7L253.2 310M255.4 311.8L253.2 310M255.4 311.8L253.7 314.8M250.9 305L253.2 310M250.9 305L250.2 309.2M253.2 310L250.2 309.2M253.2 310L251 312.8M253.2 310L253.7 314.8M250.2 309.2L247.6 312M250.2 309.2L251 312.8M247.6 312L248.1 317.3M247.6 312L244.3 314.4M247.6 312L251 312.8M248.1 317.3L247.6 321.8M248.1 317.3L244.3 314.4M248.1 317.3L243.9 320M248.1 317.3L251.2 318.7M248.1 317.3L251 312.8M247.6 321.8L246.9 326.1M247.6 321.8L243.9 320M247.6 321.8L243.4 325M247.6 321.8L250.5 323.6M247.6 321.8L251.2 318.7M246.9 326.1L246 329.2M246.9 326.1L243.4 325M246.9 326.1L242.7 328.3M246.9 326.1L248.9 327.5M246.9 326.1L250.5 323.6M246 329.2L242.7 328.3M246 329.2L246.3 330.7M246 329.2L248.9 327.5M246 329.2L242 331.7M244.3 314.4L243.9 320M244.3 314.4L239.6 317.6M243.9 320L243.4 325M243.9 320L239.6 317.6M243.9 320L239.7 322.8M243.4 325L242.7 328.3M243.4 325L239.7 322.8M243.4 325L239 327M242.7 328.3L239 327M242.7 328.3L242 331.7M242.7 328.3L238.8 330.8M239.6 317.6L239.7 322.8M239.6 317.6L235.6 319.9M239.7 322.8L239 327M239.7 322.8L235.6 319.9M239.7 322.8L234.9 324.6M239 327L234.9 324.6M239 327L234.3 328.8M239 327L238.8 330.8M235.6 319.9L234.9 324.6M235.6 319.9L230.7 321.7M234.9 324.6L230.7 321.7M234.9 324.6L230.4 325.6M234.9 324.6L234.3 328.8M230.7 321.7L227.4 322.8M230.7 321.7L230.4 325.6M227.4 322.8L226.3 326.1M227.4 322.8L223 322.1M227.4 322.8L230.4 325.6M226.3 326.1L225.7 329.4M226.3 326.1L223 322.1M226.3 326.1L222.4 325.6M226.3 326.1L229.5 329.5M226.3 326.1L230.4 325.6M225.7 329.4L226.1 331.5M225.7 329.4L222.4 325.6M225.7 329.4L222.1 328.2M225.7 329.4L229.7 332.2M225.7 329.4L229.5 329.5M226.1 331.5L229.7 332.2M223 322.1L222.4 325.6M223 322.1L219.4 320.5M222.4 325.6L222.1 328.2M222.4 325.6L219.4 320.5M222.4 325.6L219.2 324.1M219.4 320.5L219.2 324.1M219.4 320.5L217.1 319M246.3 330.7L248.9 327.5M246.3 330.7L242.7 333.2M246.3 330.7L242 331.7M249.7 329.1L248.9 327.5M248.9 327.5L252.5 324.9M248.9 327.5L250.5 323.6M252.5 324.9L250.5 323.6M252.5 324.9L253.7 320.3M254.8 321.6L253.7 320.3M233.7 334L238.4 333.4M233.7 334L229.7 332.2M233.7 334L234 331.9M242.7 333.2L238.4 333.4M242.7 333.2L242 331.7M238.4 333.4L242 331.7M238.4 333.4L234 331.9M238.4 333.4L238.8 330.8M242 331.7L238.8 330.8M250.5 323.6L251.2 318.7M250.5 323.6L253.7 320.3M251.2 318.7L251 312.8M251.2 318.7L253.7 320.3M251.2 318.7L253.7 314.8M251 312.8L253.7 314.8M253.7 320.3L253.7 314.8M253.7 320.3L255.6 317M253.7 314.8L255.6 317M229.7 332.2L229.5 329.5M229.7 332.2L234 331.9M229.5 329.5L230.4 325.6M229.5 329.5L234 331.9M229.5 329.5L234.3 328.8M230.4 325.6L234.3 328.8M234 331.9L234.3 328.8M234 331.9L238.8 330.8M234.3 328.8L238.8 330.8" fill="none" stroke="#9a9a9a" stroke-width="0.32"/><ellipse cx="236.2" cy="314" rx="20.1" ry="20.7" fill="none" stroke="#999" stroke-width="0.6"/><circle cx="240.6" cy="323.8" r="1" fill="#333"/><rect x="255.4" y="358.8" width="72.2" height="8.1" fill="#ababab" rx="1.5"/><path d="M256.9 360.8H327.6M256.9 362.9H327.6M256.9 364.9H327.6" stroke="#7a7a7a" stroke-width="0.55" stroke-dasharray="1.5 1.7" fill="none"/><path d="M256.4 358.8H327.6M256.4 366.9H327.6M255.8 359.8V365.9" stroke="#8a8a8a" stroke-width="0.7" fill="none"/><ellipse cx="339.9" cy="363.5" rx="20.4" ry="20.6" fill="#fafafa"/><path d="M329.9 346.9L330.3 348.6M329.9 346.9L333.8 346.3M329.9 346.9L327.1 349.9M330.3 348.6L333.8 346.3M330.3 348.6L327.1 349.9M330.3 348.6L329.5 351.3M330.3 348.6L333.2 349.4M333.5 344.6L333.8 346.3M333.5 344.6L337.9 344.5M333.8 346.3L337.9 344.5M333.8 346.3L333.2 349.4M333.8 346.3L337.1 347.3M337.9 344.5L342.2 343.8M337.9 344.5L337.1 347.3M337.9 344.5L341.9 346M342.2 343.8L341.9 346M342.2 343.8L346.2 345.5M321.2 356.1L322.5 357.3M326.1 349L327.1 349.9M323.8 352.7L327.1 349.9M323.8 352.7L322.5 357.3M323.8 352.7L325.5 354M327.1 349.9L325.5 354M327.1 349.9L329.5 351.3M320.8 366L322.9 367.1M320.8 366L322.2 362.7M320.8 366L322.1 370.5M322.9 367.1L326.4 368.8M322.9 367.1L322.2 362.7M322.9 367.1L325 364.2M322.9 367.1L324.9 372M322.9 367.1L322.1 370.5M326.4 368.8L329.3 369.4M326.4 368.8L325 364.2M326.4 368.8L328.6 365.4M326.4 368.8L328.6 372.4M326.4 368.8L324.9 372M329.3 369.4L328.6 365.4M329.3 369.4L332.3 371.9M329.3 369.4L328.6 372.4M329.3 369.4L332.4 367.8M320.4 361.1L322.2 362.7M320.4 361.1L322.5 357.3M322.2 362.7L325 364.2M322.2 362.7L322.5 357.3M322.2 362.7L324.8 358.8M325 364.2L328.6 365.4M325 364.2L324.8 358.8M325 364.2L328.4 360.4M328.6 365.4L328.4 360.4M328.6 365.4L332.4 367.8M328.6 365.4L332 362.8M322.5 357.3L324.8 358.8M322.5 357.3L325.5 354M324.8 358.8L328.4 360.4M324.8 358.8L325.5 354M324.8 358.8L328.5 355.9M328.4 360.4L328.5 355.9M328.4 360.4L331.7 358M328.4 360.4L332 362.8M325.5 354L328.5 355.9M325.5 354L329.5 351.3M328.5 355.9L329.5 351.3M328.5 355.9L332.1 352.8M328.5 355.9L331.7 358M329.5 351.3L333.2 349.4M329.5 351.3L332.1 352.8M333.2 349.4L337 350.5M333.2 349.4L337.1 347.3M333.2 349.4L332.1 352.8M337 350.5L341.1 352.9M337 350.5L337.1 347.3M337 350.5L341.6 348.8M337 350.5L336.8 355M337 350.5L332.1 352.8M341.1 352.9L344.9 355.9M341.1 352.9L341.6 348.8M341.1 352.9L345.8 351.7M341.1 352.9L340.7 357.5M341.1 352.9L336.8 355M344.9 355.9L347.6 358.5M344.9 355.9L345.8 351.7M344.9 355.9L348.9 355.1M344.9 355.9L344.9 360.3M344.9 355.9L340.7 357.5M347.6 358.5L348.9 355.1M347.6 358.5L348.7 362.9M347.6 358.5L344.9 360.3M347.6 358.5L351.5 359.1M337.1 347.3L341.6 348.8M337.1 347.3L341.9 346M341.6 348.8L345.8 351.7M341.6 348.8L341.9 346M341.6 348.8L346.6 348.2M345.8 351.7L348.9 355.1M345.8 351.7L346.6 348.2M345.8 351.7L349.9 351.3M348.9 355.1L349.9 351.3M348.9 355.1L351.5 359.1M348.9 355.1L352.7 355.9M341.9 346L346.6 348.2M341.9 346L346.2 345.5M346.6 348.2L349.9 351.3M346.6 348.2L346.2 345.5M346.6 348.2L350.5 348.6M349.9 351.3L350.5 348.6M349.9 351.3L353.5 352M349.9 351.3L352.7 355.9M346.2 345.5L350.5 348.6M346.2 345.5L350.3 346.5M350.5 348.6L350.3 346.5M350.5 348.6L353.2 349M350.5 348.6L353.5 352M347.8 379L348.7 380.5M347.8 379L351.1 377.3M347.8 379L344.5 381.1M347.8 379L344.2 378.6M347.8 379L348.7 376.2M348.7 380.5L351.1 377.3M348.7 380.5L352.4 378.6M348.7 380.5L344.5 381.1M348.7 380.5L345.2 382.6M351.1 377.3L352.4 378.6M351.1 377.3L354.7 374.5M351.1 377.3L348.7 376.2M351.1 377.3L352.2 373.5M352.4 378.6L354.7 374.5M354.7 374.5L356.3 375M354.7 374.5L357.7 371M354.7 374.5L352.2 373.5M354.7 374.5L356 370.3M357.7 371L356 370.3M357.7 371L358.3 366.7M344.5 381.1L341.1 382.8M344.5 381.1L345.2 382.6M344.5 381.1L344.2 378.6M344.5 381.1L340.5 380.3M341.1 382.8L345.2 382.6M341.1 382.8L340.5 380.3M341.1 382.8L336.2 381.7M336.7 383.3L336.2 381.7M344.2 378.6L340.2 377M344.2 378.6L340.5 380.3M344.2 378.6L348.7 376.2M344.2 378.6L345.1 374.7M340.2 377L335.7 374.4M340.2 377L340.5 380.3M340.2 377L336.1 378.4M340.2 377L345.1 374.7M340.2 377L340.8 372.6M335.7 374.4L332.3 371.9M335.7 374.4L336.1 378.4M335.7 374.4L331.8 375.9M335.7 374.4L340.8 372.6M335.7 374.4L336.2 370.5M332.3 371.9L331.8 375.9M332.3 371.9L328.6 372.4M332.3 371.9L336.2 370.5M332.3 371.9L332.4 367.8M340.5 380.3L336.1 378.4M340.5 380.3L336.2 381.7M336.1 378.4L331.8 375.9M336.1 378.4L336.2 381.7M336.1 378.4L331.6 379.3M331.8 375.9L328.6 372.4M331.8 375.9L331.6 379.3M331.8 375.9L328.3 376.2M328.6 372.4L328.3 376.2M328.6 372.4L324.9 372M336.2 381.7L331.6 379.3M336.2 381.7L332.1 381.7M331.6 379.3L328.3 376.2M331.6 379.3L332.1 381.7M331.6 379.3L328.1 378.7M328.3 376.2L328.1 378.7M328.3 376.2L324.9 372M328.3 376.2L324.8 375.2M332.1 381.7L328.1 378.7M328.1 378.7L324.8 375.2M348.7 376.2L349.1 371.7M348.7 376.2L345.1 374.7M348.7 376.2L352.2 373.5M349.1 371.7L349.3 367.1M349.1 371.7L345.1 374.7M349.1 371.7L345 370.1M349.1 371.7L352.2 373.5M349.1 371.7L352.7 369.1M349.3 367.1L348.7 362.9M349.3 367.1L345 370.1M349.3 367.1L345.1 365.2M349.3 367.1L352.7 369.1M349.3 367.1L352.5 364M348.7 362.9L345.1 365.2M348.7 362.9L344.9 360.3M348.7 362.9L352.5 364M348.7 362.9L351.5 359.1M345.1 374.7L345 370.1M345.1 374.7L340.8 372.6M345 370.1L345.1 365.2M345 370.1L340.8 372.6M345 370.1L340.5 367.8M345.1 365.2L344.9 360.3M345.1 365.2L340.5 367.8M345.1 365.2L340.6 362.5M344.9 360.3L340.6 362.5M344.9 360.3L340.7 357.5M340.8 372.6L340.5 367.8M340.8 372.6L336.2 370.5M340.5 367.8L340.6 362.5M340.5 367.8L336.2 370.5M340.5 367.8L336.1 365.1M340.6 362.5L336.1 365.1M340.6 362.5L340.7 357.5M340.6 362.5L336.1 360.1M336.2 370.5L336.1 365.1M336.2 370.5L332.4 367.8M336.1 365.1L332.4 367.8M336.1 365.1L336.1 360.1M336.1 365.1L332 362.8M332.4 367.8L332 362.8M352.2 373.5L356 370.3M352.2 373.5L352.7 369.1M356 370.3L358.3 366.7M356 370.3L352.7 369.1M356 370.3L355.9 364.9M358.3 366.7L359.5 363.3M358.3 366.7L355.9 364.9M358.3 366.7L357.7 361.5M359.5 363.3L357.7 361.5M352.7 369.1L355.9 364.9M352.7 369.1L352.5 364M355.9 364.9L357.7 361.5M355.9 364.9L352.5 364M355.9 364.9L354.8 360.1M357.7 361.5L354.8 360.1M357.7 361.5L358.7 358.3M357.7 361.5L356.2 356.7M352.5 364L354.8 360.1M352.5 364L351.5 359.1M354.8 360.1L351.5 359.1M354.8 360.1L356.2 356.7M354.8 360.1L352.7 355.9M351.5 359.1L352.7 355.9M324.9 372L322.1 370.5M324.9 372L324.8 375.2M322.1 370.5L324.8 375.2M340.7 357.5L336.8 355M340.7 357.5L336.1 360.1M336.8 355L332.1 352.8M336.8 355L336.1 360.1M336.8 355L331.7 358M332.1 352.8L331.7 358M336.1 360.1L331.7 358M336.1 360.1L332 362.8M331.7 358L332 362.8M358.7 358.3L356.2 356.7M356.5 353.5L356.2 356.7M356.5 353.5L353.5 352M353.2 349L353.5 352M356.2 356.7L353.5 352M356.2 356.7L352.7 355.9M353.5 352L352.7 355.9" fill="none" stroke="#c4c4c4" stroke-width="0.3"/><path d="M338.9 344.3L343.4 343.7M338.9 344.3L338.4 343.1M343.4 343.7L346.5 344.1M343.4 343.7L347.4 345.3M343.4 343.7L338.4 343.1M343.4 343.7L342.6 343.1M346.5 344.1L349.5 345.4M346.5 344.1L347.4 345.3M346.5 344.1L350.7 346.2M346.5 344.1L342.6 343.1M346.5 344.1L345.9 344.1M349.5 345.4L350.7 346.2M349.5 345.4L345.9 344.1M349.5 345.4L353 347.8M349.5 345.4L350.3 346.5M347.4 345.3L350.7 346.2M350.7 346.2L351.6 348.1M350.7 346.2L353 347.8M350.7 346.2L354.3 349.3M351.6 348.1L354.3 349.3M330.9 346.5L330 345.7M330 345.7L329.6 345.8M330 345.7L334 344.5M330 345.7L333.6 343.9M330 345.7L327 348.7M330 345.7L326.4 348M329.6 345.8L329.9 346.9M329.6 345.8L333.6 343.9M329.6 345.8L333.5 344.6M329.6 345.8L326.4 348M329.6 345.8L326.1 349M329.9 346.9L333.5 344.6M329.9 346.9L326.1 349M334 344.5L333.6 343.9M334 344.5L338.4 343.1M333.6 343.9L333.5 344.6M333.6 343.9L338.4 343.1M333.6 343.9L337.8 343.3M333.5 344.6L337.8 343.3M338.4 343.1L337.8 343.3M338.4 343.1L342.6 343.1M337.8 343.3L337.9 344.5M337.8 343.3L342.6 343.1M337.8 343.3L342.2 343.8M342.6 343.1L342.2 343.8M342.6 343.1L345.9 344.1M342.2 343.8L345.9 344.1M345.9 344.1L346.2 345.5M345.9 344.1L350.3 346.5M324.8 352.5L323.4 351.9M321.9 355.9L320.2 359.9M321.9 355.9L323.4 351.9M321.9 355.9L320.9 356M320.2 359.9L319.6 363.2M320.2 359.9L320.9 356M320.2 359.9L319.9 359.5M320.2 359.9L321.4 360.6M320.2 359.9L320.2 364.5M319.6 363.2L319.9 359.5M319.6 363.2L320.2 364.5M319.6 363.2L319.8 366.6M319.6 363.2L319.6 364.1M327 348.7L323.4 351.9M327 348.7L326.4 348M323.4 351.9L320.9 356M323.4 351.9L326.4 348M323.4 351.9L322.9 352.2M320.9 356L319.9 359.5M320.9 356L322.9 352.2M320.9 356L321.2 356.1M319.9 359.5L321.2 356.1M319.9 359.5L319.6 364.1M319.9 359.5L320.4 361.1M326.4 348L322.9 352.2M326.4 348L326.1 349M322.9 352.2L321.2 356.1M322.9 352.2L326.1 349M322.9 352.2L323.8 352.7M321.2 356.1L323.8 352.7M321.2 356.1L320.4 361.1M326.1 349L323.8 352.7M320.2 364.5L320.8 368.4M320.2 364.5L319.8 366.6M353 347.8L356.1 351.2M353 347.8L354.3 349.3M353 347.8L350.3 346.5M353 347.8L353.2 349M356.1 351.2L358.6 355.6M356.1 351.2L354.3 349.3M356.1 351.2L357.2 353.2M356.1 351.2L356.5 353.5M356.1 351.2L353.2 349M358.6 355.6L359.8 360M358.6 355.6L357.2 353.2M358.6 355.6L359.2 357.7M358.6 355.6L358.7 358.3M358.6 355.6L356.5 353.5M359.8 360L360.2 363.7M359.8 360L359.2 357.7M359.8 360L360.1 362.7M359.8 360L359.5 363.3M359.8 360L358.7 358.3M360.2 363.7L360.1 362.7M360.2 363.7L359.5 367.3M360.2 363.7L359.8 367.4M360.2 363.7L359.5 363.3M354.3 349.3L357.2 353.2M354.3 349.3L354.9 351.7M357.2 353.2L359.2 357.7M357.2 353.2L354.9 351.7M357.2 353.2L357.7 356.4M359.2 357.7L360.1 362.7M359.2 357.7L357.7 356.4M359.2 357.7L359 361.3M360.1 362.7L359 361.3M360.1 362.7L359.8 367.4M360.1 362.7L359.2 366.5M359 361.3L359.2 366.5M329.8 380.7L330.5 381.8M329.8 380.7L325.8 377.4M329.8 380.7L327 379.4M329.8 380.7L333.4 382.8M330.5 381.8L327 379.4M330.5 381.8L333 382.8M330.5 381.8L333.4 382.8M330.5 381.8L328.9 380.6M325.8 377.4L327 379.4M325.8 377.4L322.9 373.4M325.8 377.4L323.7 376M327 379.4L323.7 376M327 379.4L328.9 380.6M327 379.4L325.4 377.6M322.9 373.4L323.7 376M322.9 373.4L320.8 368.4M322.9 373.4L321.2 371.6M323.7 376L321.2 371.6M323.7 376L322.4 373.7M323.7 376L325.4 377.6M320.8 368.4L321.2 371.6M320.8 368.4L319.8 366.6M321.2 371.6L319.8 366.6M321.2 371.6L320.4 368.8M321.2 371.6L322.4 373.7M319.8 366.6L319.6 364.1M319.8 366.6L320.4 368.8M319.6 364.1L320.8 366M319.6 364.1L320.4 361.1M319.6 364.1L320.4 368.8M320.8 366L320.4 361.1M320.8 366L320.4 368.8M350.3 346.5L353.2 349M348.7 380.5L349.6 381.4M349.6 381.4L349.9 381.3M349.6 381.4L352.4 378.6M349.6 381.4L353.6 378.7M349.6 381.4L345.2 382.6M349.6 381.4L346 383.1M349.9 381.3L349.9 379.9M349.9 381.3L353.6 378.7M349.9 381.3L353.3 378.3M349.9 381.3L346 383.1M349.9 381.3L346.4 382.3M349.9 379.9L353.3 378.3M352.4 378.6L353.6 378.7M352.4 378.6L356.3 375M353.6 378.7L353.3 378.3M353.6 378.7L356.3 375M353.6 378.7L356.7 374.9M353.3 378.3L356.7 374.9M353.3 378.3L356.1 374.2M356.3 375L356.7 374.9M356.3 375L357.7 371M356.3 375L358.5 371.6M356.7 374.9L356.1 374.2M356.7 374.9L358.5 371.6M356.7 374.9L358.4 370.9M356.1 374.2L358.4 370.9M357.7 371L358.5 371.6M357.7 371L359.5 367.3M358.5 371.6L358.4 370.9M358.5 371.6L359.5 367.3M358.5 371.6L359.8 367.4M358.4 370.9L359.8 367.4M358.4 370.9L359.2 366.5M359.5 367.3L359.8 367.4M359.5 367.3L358.3 366.7M359.5 367.3L359.5 363.3M359.8 367.4L359.2 366.5M341.1 382.8L336.7 383.3M341.1 382.8L341.4 384M336.7 383.3L333 382.8M336.7 383.3L341.4 384M336.7 383.3L337.2 383.9M336.7 383.3L332.1 381.7M333 382.8L337.2 383.9M333 382.8L333.4 382.8M333 382.8L332.1 381.7M333 382.8L328.9 380.6M345.2 382.6L341.4 384M345.2 382.6L346 383.1M341.4 384L337.2 383.9M341.4 384L346 383.1M341.4 384L342 383.8M337.2 383.9L333.4 382.8M337.2 383.9L342 383.8M337.2 383.9L337.4 383.1M333.4 382.8L337.4 383.1M333.4 382.8L333.4 381.4M346 383.1L342 383.8M346 383.1L346.4 382.3M342 383.8L337.4 383.1M342 383.8L346.4 382.3M342 383.8L342.1 382.5M332.1 381.7L328.9 380.6M328.1 378.7L328.9 380.6M328.1 378.7L325.4 377.6M328.9 380.6L325.4 377.6M359.5 363.3L358.7 358.3M322.1 370.5L320.4 368.8M322.1 370.5L322.4 373.7M320.4 368.8L322.4 373.7M324.8 375.2L322.4 373.7M324.8 375.2L325.4 377.6M322.4 373.7L325.4 377.6M358.7 358.3L356.5 353.5M356.5 353.5L353.2 349" fill="none" stroke="#aaa" stroke-width="0.3"/><path d="M332.3 347.8L334.9 348.8M332.3 347.8L331 350.9M332.3 347.8L335.3 345.8M332.3 347.8L330.9 346.5M332.3 347.8L328.5 349.7M334.9 348.8L339.2 350M334.9 348.8L331 350.9M334.9 348.8L334.9 352M334.9 348.8L335.3 345.8M334.9 348.8L338.7 346.5M339.2 350L343.6 352.5M339.2 350L334.9 352M339.2 350L339.1 354.4M339.2 350L338.7 346.5M339.2 350L343.4 348.4M343.6 352.5L347.5 354.7M343.6 352.5L339.1 354.4M343.6 352.5L343.6 356.9M343.6 352.5L343.4 348.4M343.6 352.5L348.1 350.9M347.5 354.7L350.3 357.6M347.5 354.7L343.6 356.9M347.5 354.7L347.4 359M347.5 354.7L348.1 350.9M347.5 354.7L351.3 354.4M350.3 357.6L347.4 359M350.3 357.6L351.3 354.4M350.3 357.6L353.8 358.8M350.3 357.6L351.3 361.5M331 350.9L334.9 352M331 350.9L330.2 355M331 350.9L328.5 349.7M331 350.9L327.3 353.5M334.9 352L339.1 354.4M334.9 352L330.2 355M334.9 352L334.6 357.2M339.1 354.4L343.6 356.9M339.1 354.4L334.6 357.2M339.1 354.4L339.2 359.6M343.6 356.9L347.4 359M343.6 356.9L339.2 359.6M343.6 356.9L343.4 362.1M347.4 359L343.4 362.1M347.4 359L351.3 361.5M347.4 359L347.9 363.9M330.2 355L334.6 357.2M330.2 355L330.5 360M330.2 355L327.3 353.5M330.2 355L327 358.1M334.6 357.2L339.2 359.6M334.6 357.2L330.5 360M334.6 357.2L334.6 362.2M339.2 359.6L343.4 362.1M339.2 359.6L334.6 362.2M339.2 359.6L339.5 364.1M343.4 362.1L339.5 364.1M343.4 362.1L347.9 363.9M343.4 362.1L343.2 367M330.5 360L334.6 362.2M330.5 360L331.3 364.7M330.5 360L327 358.1M330.5 360L327.6 363M334.6 362.2L339.5 364.1M334.6 362.2L331.3 364.7M334.6 362.2L334.6 366.7M339.5 364.1L334.6 366.7M339.5 364.1L343.2 367M339.5 364.1L339.2 369.3M331.3 364.7L334.6 366.7M331.3 364.7L332 368.2M331.3 364.7L327.6 363M331.3 364.7L328.3 367.6M334.6 366.7L332 368.2M334.6 366.7L339.2 369.3M334.6 366.7L334.3 371M332 368.2L328.3 367.6M332 368.2L334.3 371M332 368.2L331 372.2M335.3 345.8L338.9 344.3M335.3 345.8L338.7 346.5M335.3 345.8L330.9 346.5M335.3 345.8L334 344.5M338.9 344.3L338.7 346.5M338.9 344.3L343.3 345.3M338.9 344.3L334 344.5M343.4 343.7L343.3 345.3M338.7 346.5L343.3 345.3M338.7 346.5L343.4 348.4M343.3 345.3L347.4 345.3M343.3 345.3L343.4 348.4M343.3 345.3L348 347.8M347.4 345.3L348 347.8M347.4 345.3L351.6 348.1M343.4 348.4L348 347.8M343.4 348.4L348.1 350.9M348 347.8L351.6 348.1M348 347.8L348.1 350.9M348 347.8L351.7 351.1M351.6 348.1L351.7 351.1M351.6 348.1L354.9 351.7M348.1 350.9L351.7 351.1M348.1 350.9L351.3 354.4M351.7 351.1L351.3 354.4M351.7 351.1L354.9 351.7M351.7 351.1L354.5 354.7M351.3 354.4L354.5 354.7M351.3 354.4L353.8 358.8M330.9 346.5L334 344.5M330.9 346.5L328.5 349.7M330.9 346.5L327 348.7M328.5 349.7L324.8 352.5M328.5 349.7L327 348.7M328.5 349.7L327.3 353.5M324.8 352.5L321.9 355.9M324.8 352.5L327 348.7M324.8 352.5L327.3 353.5M324.8 352.5L324 356.4M321.9 355.9L324 356.4M321.9 355.9L321.4 360.6M327.3 353.5L327 358.1M327.3 353.5L324 356.4M327 358.1L327.6 363M327 358.1L324 356.4M327 358.1L323.9 361.8M327.6 363L328.3 367.6M327.6 363L323.9 361.8M327.6 363L324.9 366.7M328.3 367.6L324.9 366.7M328.3 367.6L331 372.2M328.3 367.6L326.7 371.4M324 356.4L323.9 361.8M324 356.4L321.4 360.6M323.9 361.8L324.9 366.7M323.9 361.8L321.4 360.6M323.9 361.8L321.9 365M324.9 366.7L321.9 365M324.9 366.7L326.7 371.4M324.9 366.7L323 369.9M321.4 360.6L321.9 365M321.4 360.6L320.2 364.5M321.9 365L320.2 364.5M321.9 365L323 369.9M321.9 365L320.8 368.4M354.9 351.7L357.7 356.4M354.9 351.7L354.5 354.7M357.7 356.4L359 361.3M357.7 356.4L354.5 354.7M357.7 356.4L356.8 359.6M359 361.3L356.8 359.6M359 361.3L357.3 364.3M354.5 354.7L356.8 359.6M354.5 354.7L353.8 358.8M356.8 359.6L353.8 358.8M356.8 359.6L354.6 362.3M356.8 359.6L357.3 364.3M353.8 358.8L351.3 361.5M353.8 358.8L354.6 362.3M351.3 361.5L351.8 366.7M351.3 361.5L347.9 363.9M351.3 361.5L354.6 362.3M351.8 366.7L351.3 371.2M351.8 366.7L347.9 363.9M351.8 366.7L347.5 369.4M351.8 366.7L354.9 368.1M351.8 366.7L354.6 362.3M351.3 371.2L350.6 375.4M351.3 371.2L347.5 369.4M351.3 371.2L347 374.3M351.3 371.2L354.2 372.9M351.3 371.2L354.9 368.1M350.6 375.4L349.6 378.4M350.6 375.4L347 374.3M350.6 375.4L346.3 377.5M350.6 375.4L352.6 376.7M350.6 375.4L354.2 372.9M349.6 378.4L346.3 377.5M349.6 378.4L349.9 379.9M349.6 378.4L352.6 376.7M349.6 378.4L345.6 380.8M347.9 363.9L347.5 369.4M347.9 363.9L343.2 367M347.5 369.4L347 374.3M347.5 369.4L343.2 367M347.5 369.4L343.3 372.2M347 374.3L346.3 377.5M347 374.3L343.3 372.2M347 374.3L342.7 376.2M346.3 377.5L342.7 376.2M346.3 377.5L345.6 380.8M346.3 377.5L342.4 380M343.2 367L343.3 372.2M343.2 367L339.2 369.3M343.3 372.2L342.7 376.2M343.3 372.2L339.2 369.3M343.3 372.2L338.5 373.9M342.7 376.2L338.5 373.9M342.7 376.2L338 378M342.7 376.2L342.4 380M339.2 369.3L338.5 373.9M339.2 369.3L334.3 371M338.5 373.9L334.3 371M338.5 373.9L334 374.9M338.5 373.9L338 378M334.3 371L331 372.2M334.3 371L334 374.9M331 372.2L329.9 375.3M331 372.2L326.7 371.4M331 372.2L334 374.9M329.9 375.3L329.4 378.6M329.9 375.3L326.7 371.4M329.9 375.3L326.1 374.9M329.9 375.3L333.1 378.7M329.9 375.3L334 374.9M329.4 378.6L329.8 380.7M329.4 378.6L326.1 374.9M329.4 378.6L325.8 377.4M329.4 378.6L333.4 381.4M329.4 378.6L333.1 378.7M329.8 380.7L333.4 381.4M326.7 371.4L326.1 374.9M326.7 371.4L323 369.9M326.1 374.9L325.8 377.4M326.1 374.9L323 369.9M326.1 374.9L322.9 373.4M323 369.9L322.9 373.4M323 369.9L320.8 368.4M349.9 379.9L352.6 376.7M349.9 379.9L346.4 382.3M349.9 379.9L345.6 380.8M353.3 378.3L352.6 376.7M352.6 376.7L356.1 374.2M352.6 376.7L354.2 372.9M356.1 374.2L354.2 372.9M356.1 374.2L357.3 369.7M358.4 370.9L357.3 369.7M337.4 383.1L342.1 382.5M337.4 383.1L333.4 381.4M337.4 383.1L337.7 381.1M346.4 382.3L342.1 382.5M346.4 382.3L345.6 380.8M342.1 382.5L345.6 380.8M342.1 382.5L337.7 381.1M342.1 382.5L342.4 380M345.6 380.8L342.4 380M354.2 372.9L354.9 368.1M354.2 372.9L357.3 369.7M354.9 368.1L354.6 362.3M354.9 368.1L357.3 369.7M354.9 368.1L357.3 364.3M354.6 362.3L357.3 364.3M357.3 369.7L357.3 364.3M357.3 369.7L359.2 366.5M357.3 364.3L359.2 366.5M333.4 381.4L333.1 378.7M333.4 381.4L337.7 381.1M333.1 378.7L334 374.9M333.1 378.7L337.7 381.1M333.1 378.7L338 378M334 374.9L338 378M337.7 381.1L338 378M337.7 381.1L342.4 380M338 378L342.4 380" fill="none" stroke="#9a9a9a" stroke-width="0.32"/><ellipse cx="339.9" cy="363.5" rx="20.1" ry="20.3" fill="none" stroke="#999" stroke-width="0.6"/><circle cx="334.8" cy="368.9" r="1" fill="#333"/><path d="M119.5 265L69.7 311.6" stroke="#aaa" stroke-width="1.2" fill="none"/><path d="M66 315L68.3 308.7L72.4 313.1Z" fill="#aaa"/><path d="M211 322.5L161.1 372.8" stroke="#888" stroke-width="1.2" fill="none"/><path d="M157.6 376.4L159.7 370L164 374.2Z" fill="#888"/><path d="M315.4 371L288.4 397.6" stroke="#111" stroke-width="1.3" fill="none"/><path d="M284.5 401.5L286.9 394.7L291.4 399.2Z" fill="#111"/><rect x="282" y="297.5" width="40.5" height="1.5" fill="#111"/><text x="280" y="314.5" font-size="11.5" textLength="46.7" lengthAdjust="spacingAndGlyphs">~500 nm</text><path d="M48.3 224.5L48.6 225.7L48.9 227.8L49.2 229.9L50 230.2L49.7 232L50.8 233.5L50.5 235.3L50.9 237.6L51 238.6L51.6 240L51.1 242L51.6 243.2L51.8 245.3L52.4 246.6L52.1 248.6L52.5 249.5L52.6 252.4L53 253.2L53.3 254.7L53.1 256L53.8 257.4L53.9 258.9L54 260.8L54.3 262.1L54.1 264.1L54.4 265.3L54.5 267.4L54.8 269.1L55.2 270.1L55.1 272.4L55.4 273.5L55.5 275.5L55.7 276.9L56 278.7L56.3 279.5L56.3 281.4L56.8 283.6L57.3 284.4L57.4 285.5L57.5 287.1L57.7 288.5L58 290.2L58.9 292.3L58.8 294.5L59 295.5L59.5 297.3L60.2 298.7L60.1 300.3L60.5 301.8L60.8 303.4L60.9 305.2L61.1 306.2L61.6 308.5L61.9 310.1L62.4 311.2L62.8 313.2L63.1 314.2L63.3 315.8L63.7 317.6L63.7 319.1L64.4 320.6L64.6 322.1L64.7 323.7L65.2 325.8L65.4 326.3L66 328.7L66.4 330L66.9 331.9L66.6 333.4L67 333.8L67.6 336.5L68.2 338L68.8 339.4L69.1 340.8L69 342.8L69.8 343.9L70.5 346.2L70.8 347.3L71.3 349.4L71.5 349.9L71.9 351.1L72.4 353.5L72.8 355.1L73.3 356.4L73.8 357.3L74.2 359.2L75.1 361L75.6 362.2L76.5 363.7L77.1 365.2L77.5 366.4L78.1 368L78.8 369.1L79.8 371.6L80.5 372.2L81.3 373.9L82.1 374.7L82.8 376.8L83.9 377.2L84.4 379.6L85.6 380.6L86.1 382.8L86.9 383.1L87.2 385L88.2 386.5L89.1 388.2L89.4 389.1L90.3 390.7L91.2 391.3L91.8 393L93.1 394.7L94.2 396.2L94.9 397L96.1 399L96.8 400.2L98.1 400.8L98.8 401.2L100.4 402.6L101.4 404.1L102.5 405.9L103.4 406.7L105 407L106.3 408.8L106.6 410.6L108.4 411L109.7 411.9L110.6 413.9L111.5 414.2L113.2 415.1L114.2 416.3L115.4 417.2L116.5 418.1L118.2 419.6L119.5 420.5L120.6 421.2L122.3 421.6L123.4 422.7L125.2 423L126.5 423.9L127.9 424.8L129.4 425.3L131.1 426.1L132.6 426L134.1 425.6L135.6 426.2L137.1 427.5L138.8 427.4L140.2 428.1L141.9 427.9L143.3 428.8L144.4 428.5L146.7 429.3L148.6 428.8L149.8 429.6L151.3 429.6L152.8 429.3L154.4 430.1L156 429.6L157.4 429.8L159.1 430.6L160.6 430.3L162.5 430.5L163.9 430.7L165.7 430.7L167.1 431.5L169 431.4L170.4 431.2L172.4 431.3L173.2 431.6L175 432.1L177 431.9L178.9 431.5L179.9 432L181.6 431.8L183.1 431.8L185 432.6L186.3 431.9L188.1 432L189.5 431.5L190.9 431.8L192.8 432.5L194.4 432.2L196.2 432.7L197.5 432.3L199 432.5L200.9 433.1L202.4 433.5L204 433.2L205.5 433.6L207.4 433.8L208.8 433.7L210.7 433.1L212.1 433.5L213.6 433.8L214.8 433.6L216.8 434L218.4 433.3L220.1 433.7L221.7 434.2L223 433.3L224.9 433.7L226.2 434.1L228.3 433.6L229.2 434.2L230.7 433.9L232.3 434.2L234.1 434.2L235.7 434.4L237.9 434.2L239 434.4L240.4 434.2L242.5 434.6L243.8 435.1L245.2 434.6L247.3 434.6L248.8 434.2L250.2 434.8L252.2 434.3L253.5 434.3L255.4 434.8L256.8 434.7L258.6 435L259.9 435.1L261.2 434.4L263.6 434.7L264.6 435.2L266.2 435L267.7 434.9L269.4 435.1L271.1 434.4L272.7 434.9L274.4 435.1L276.3 435.2L277.5 434.4L278.8 434.6L280.4 434.8L282.2 434.5L283.5 434.5L285.7 434.9L287 434.5L288.6 434L290.3 434.8L291.6 434.5L293.3 434.4L295.2 434.1L296.8 435L298.2 433.9L300.3 434.1L301.2 434.6L303 435.1L304.6 435.1L305.7 434.3L308.3 434.6L309.6 434.2L310.9 435.1L313.1 434.2L314.4 434.7L316 435.1L317.4 434.6L319.1 435.2L320.4 434.4L322.5 434.8L323.8 435L325.5 434.7L327.3 435.2L328.8 434.9L330.3 434.2L331.9 436.1L333.3 435L335.3 434.8L337 434.2L338.5 434.8L340.1 434.6L341.3 435L342.9 434.9L344.4 435.4L346.6 434.8L347.8 434.9L349.8 434.9L350.9 434.7L352.6 434.7L354.3 435.1L356.1 435L357.5 434.5L359.1 434.4L360.7 434.8L362.3 435.2L363.7 434.8L365.5 435.4L367.1 434.5L368.7 434.8L370.4 433.9L371.7 434.6L373.5 434.7L375 435L376.2 435.4" fill="none" stroke="#bdbdbd" stroke-width="2" stroke-linejoin="round"/><path d="M48.3 224.5L48.9 225.6L48.9 227.4L50.5 228.3L50.2 229.7L51.1 231.6L52.1 232.9L52.4 234.5L53.2 235.9L54.1 237.4L55.2 239.4L56.5 241L56.7 242.1L57.1 243L58.3 245.2L58.7 245.3L59.6 246.5L60.6 249L60.8 250.3L61.7 251.7L62.2 253.2L63.1 253.8L63.9 255.5L64.3 258L65.1 259.4L65.8 260.1L66.4 262.7L66.9 262.8L67.5 264.5L68.5 266.3L69.1 267.1L70.5 268.9L70.1 270.3L71.8 271.4L73 273.2L74.3 274.2L75 274.7L75.4 276.3L76.2 278.2L76.9 279.6L77.2 280.8L78.1 282.8L78.1 284.4L79.8 285.2L80.5 287.2L80.8 287.5L81.9 288.9L82.5 291.3L83 292.1L84.1 293.4L85.1 295.1L85.5 296.3L86.3 298.2L87.1 298.8L88 300.7L89 303.7L89.2 303.7L90.2 304.3L90.8 306.8L91 308.2L92.1 310L92.9 310.9L93.6 312L94.4 314.3L94.5 315.4L95.9 315.7L96.5 318.2L97.1 319.2L98.4 321.2L99.2 321.9L99.7 323.8L100.9 324.9L101.3 326.5L102.2 327.6L102.7 328.8L104.2 330.4L103.9 332.1L105.3 333.4L106.3 335.3L106.4 336.2L107.6 337.7L108.4 339.8L109.4 340.3L110.3 341.9L110.7 342.7L111.3 344.3L113 346.4L113.8 347.1L114.2 349L115.4 349.2L116.3 350.3L117.3 352.4L118.2 352.8L119.7 355.8L120 356.2L121.8 356.3L122.8 357.9L123.8 358.8L125.4 360.3L125.7 361.1L127.9 362.5L128.9 363.8L129.8 364L131.4 364.6L132.5 366.3L134.6 366.9L135.8 368.3L136.8 368.5L137.8 369.8L139.2 370.4L140.7 371L142 371.6L143.4 372.9L144.9 374.4L146.4 374.4L147.8 374.6L149.1 375.7L150.5 376.2L152.8 376.4L152.9 378.1L154.2 379.8L155.8 380L156.8 380.7L158.2 382.5L159.4 384.2L160.7 384.9L161.8 386L162.6 387.6L164.4 388.2L164.9 388.8L166.7 389.3L167.9 390.3L169.1 391.1L170.8 392.4L172 392.4L173.8 394.2L174.6 394.3L176.6 394.7L178 395.9L179.4 395.3L180.4 396.5L182.2 397.2L183.3 398.5L184.6 398.6L187.5 400.1L188.3 399.9L190 401L190.9 401L192.7 402.4L194.2 402.3L195.7 403.2L197.1 403.3L198.5 403.5L199.5 404.5L201.7 405.7L203.1 405.3L204.8 405.7L205.9 406.9L207.9 408L208.8 407.8L210 408.7L212.1 409.7L213.2 410L214.5 410.8L216.4 411.6L218.2 411.5L219.6 411.8L221.2 412.6L223.7 412.6L224.4 412.6L226.1 413L226.7 413.3L228.9 415L230.6 414.5L231.8 415.2L233.2 415.7L235.1 415.3L236.5 416.4L238 416.3L240 416L241.6 417.2L242.9 417.2L244.2 417.9L246 418.6L247.7 419.8L249.2 418.9L250.2 419.4L252.1 419.9L253.8 420.2L255.5 420.3L257.1 420.2L258.6 420.6L259.7 421.2L261.4 421.1L262.8 421.6L265.2 421.5L266.4 422.7L268.1 421.7L269.8 423.4L271 422.6L272.3 422.8L274 423.2L275.6 424.5L277.6 425.1L279 424.7L280 425.7L282 426L283.5 426.4L284.6 427L286.4 427.6L287.5 426.8L289.6 427.1L291 428.6L292.3 428.9L294 429.6L295.8 429L297.1 429.7L298.9 431.1L300.6 430.1L301.8 431.1L303.5 430.9L305.7 431.3L306.8 431L308.1 432.1L310 430.8L311.2 431.1L313.4 431.2L314.8 432.2L316.6 431.8L318.2 432L319.6 431.7L321.4 431.8L322.8 431.9L324.2 432.4L325.7 431.8L327.4 431L328.5 432.2L331.2 431.8L331.9 431.2L333.9 431.7L335.2 431.3L336.6 432.7L338.7 431.6L340.3 430.9L341.9 431.9L343.7 431.4L345 432.4L346.8 431.9L348.5 431L349.8 431.6L351.5 431.3L353.3 431.5L354.8 431.6L356.4 430.9L357.3 431.9L359.6 431.5L361.2 431.5L362.7 432.2L364.4 432.7L366.5 431.6L367.6 432.8L369.3 431.1L370.5 432.4L372.1 432L373.8 432.3L374.7 431.9" fill="none" stroke="#888" stroke-width="1.9" stroke-linejoin="round"/><path d="M47.8 224.4L48.8 225.3L49.6 227L49.9 228.1L51.2 229.4L52.1 232.4L53.1 232.7L53.8 233.7L55 235.6L55.9 236.1L56.6 237.8L58.3 238.8L59.4 240.7L60.5 240.4L60.9 242.9L61.5 244L62.1 244.8L62.6 247.3L64.1 247.7L64.3 250.3L65.3 251L66.6 252.4L68.1 253.3L68.7 255L69.2 254.9L70.2 257.2L71.5 258.2L72.2 260L72.9 261.1L74 262.7L75.3 263.2L76.8 265.7L77 267L78.3 266.9L79.4 268.2L79.9 269.5L81.3 271.3L82.2 272.9L83.8 272.7L84.4 274.3L84.8 275.3L86.4 276.6L87 277.7L87.4 280.1L88.6 280.7L89.4 283.4L90.1 284.5L91.2 284.9L91.4 286.2L92.9 287.7L94.3 290L95.3 290.1L96.4 291L97.4 293L98.5 294.4L98.7 295.1L100.3 297.5L100.5 298.1L101.8 299.5L102.4 300.1L104.2 301.8L105.3 303.1L105.8 303.3L107.3 305.8L107.5 306.1L108.7 308.2L109.8 308.7L110.6 311.5L112.4 311.6L114.2 312.7L114.6 313.5L116.6 313.3L117.6 313.6L119.5 315.5L120.4 317L121.7 317.6L122.9 319L124 320.2L124.7 320L126.8 321.9L127.1 323.8L128.8 323.6L130.2 323.9L131 325.8L132.5 326.7L134.1 328.2L134.9 328.5L135.9 330L136.6 329.9L138.4 332.4L139.8 333.8L141 334.6L142.2 334.1L144 335.9L145.1 335L146.7 337.3L148.3 337.9L149.3 338.2L150.8 339.6L152.9 340.4L153.9 341.7L154.5 342.2L156.1 343.2L157.6 343.1L159.1 344.5L160 345.8L161.1 347.1L162.3 347.9L164 349.6L165.2 349.4L166.1 350.8L167.3 352.3L168.2 353.3L169.5 354.9L170.1 355.6L171.5 357.8L172.6 358.2L173.6 360.1L174.4 360.5L176.3 362.3L176.9 361.9L178.5 363.8L179.4 364.4L180.3 365.7L182.2 367.2L183.5 367L184.6 367.9L186 368.9L187.1 370.5L188.4 370.3L189.8 372.2L191.8 372.5L192.8 373.5L193.7 374.8L195.3 376L196.3 376.4L197.7 377.3L199.5 378.3L200.5 378.9L201.6 378.4L203.3 380.2L205 381.2L206.5 382.4L208.2 383.6L209.1 383.6L211 384L212.3 384.1L213.6 385.3L215.4 386.2L216.8 386.9L218 386.2L220.1 387.2L221 387.9L222.9 388.8L224.4 388.4L226.1 388.4L227.3 388.8L229 389.3L230.6 389.6L232.4 390.9L233.4 391.5L235.2 391.8L236.6 392.6L237.8 392.2L240.5 393.2L241.2 393.3L242.3 394L244.7 395.1L245.5 395L247.4 394.5L249.1 395.7L250.2 395.9L251.8 395.9L253.4 396.6L255 397.9L256.1 398.6L257.8 397.9L259.7 399.1L261.6 399.5L263 398.8L264.9 399.8L266.1 400.3L267.2 401L268.8 400.7L269.8 401.8L271.6 403L273.1 403.6L275.1 404.3L276.7 403.7L277.9 405.2L279.4 405.1L280.6 404.5L282.6 406.1L284.2 406.1L285.7 407.2L286.8 407.6L289 408.9L290.2 409.2L291.3 409.6L292.5 411.1L293.9 411.6L295.4 412.1L296.7 413.7L298.3 413.5L300 413.7L301.7 414L303.2 413.7L304.5 414.4L306.2 415.8L307.5 414.6L309.1 415.3L311.4 415L312.3 415.5L314.6 416.7L315.5 416.6L317.2 416.1L319.1 416.6L320.3 416.4L322 416.7L323.4 416.8L324.9 417.1L326.6 417.9L328.1 418.3L330.3 418.5L331.4 418.5L333.5 418.1L333.8 419L336.1 418.9L337.9 420L339.2 420.1L341.2 420.3L342.7 419.9L344 419.4L345.8 420.9L348.1 421.2L348.9 420L350.5 421L351.9 421.7L353.7 420.7L354.8 422.3L356.8 421.4L359.1 421.2L360.3 422.5L361.8 422.2L363.5 421.9L365.3 422.8L366.6 421.5L368.6 423.4L369.9 422.1L371.2 422.6L373.3 422.3L373.7 422.7L375.3 422.9" fill="none" stroke="#111" stroke-width="2" stroke-linejoin="round"/><text x="79" y="362.5" font-size="11.5" fill="#b8b8b8">(<tspan font-style="italic">i</tspan>)</text><text x="143" y="368.5" font-size="11.5" fill="#999">(<tspan font-style="italic">ii</tspan>)</text><text x="209.5" y="378.5" font-size="11.5" fill="#111">(<tspan font-style="italic">iii</tspan>)</text><text x="12" y="221" font-size="19" font-weight="bold">(b)</text><path d="M48.6 481.2V708.4H376.8" fill="none" stroke="#111" stroke-width="1.4"/><path d="M48.6 651.6h-2M48.6 594.9h-2M48.6 538.1h-2M48.6 481.4h-2M95.5 708.4v2.2M142.3 708.4v2.2M189.2 708.4v2.2M236.1 708.4v2.2M283 708.4v2.2M329.8 708.4v2.2M376.7 708.4v2.2" stroke="#111" stroke-width="1"/><text x="43.8" y="714.6" font-size="11.5" text-anchor="end">0</text><text x="43.8" y="655.8" font-size="11.5" text-anchor="end">4</text><text x="43.8" y="599.1" font-size="11.5" text-anchor="end">8</text><text x="43.8" y="543.1" font-size="11.5" text-anchor="end">12</text><text x="43.8" y="485.6" font-size="11.5" text-anchor="end">16</text><text x="48.6" y="723.8" font-size="11.5" text-anchor="middle">0</text><text x="95.5" y="723.8" font-size="11.5" text-anchor="middle">20</text><text x="142.3" y="723.8" font-size="11.5" text-anchor="middle">40</text><text x="189.2" y="723.8" font-size="11.5" text-anchor="middle">60</text><text x="236.1" y="723.8" font-size="11.5" text-anchor="middle">80</text><text x="283" y="723.8" font-size="11.5" text-anchor="middle">100</text><text x="329.8" y="723.8" font-size="11.5" text-anchor="middle">120</text><text x="376.7" y="723.8" font-size="11.5" text-anchor="middle">140</text><text transform="translate(27.2 646) rotate(-90)" font-size="15" textLength="101" lengthAdjust="spacingAndGlyphs">Decay Time (s)</text><text x="193.3" y="740" font-size="14.5">V<tspan font-size="9" dy="4.8">h</tspan><tspan dy="-4.8" dx="0.6"> / V</tspan><tspan font-size="9" dy="4.8">n</tspan></text><path d="M48.6 708.4L166.3 490.5M48.6 708.4L236.8 541M48.6 708.4L377.6 626.5" stroke="#111" stroke-width="2.2" fill="none"/><circle cx="54.6" cy="694.4" r="4" fill="#111"/><circle cx="66.6" cy="677.6" r="4" fill="#111"/><circle cx="74.6" cy="655.6" r="4" fill="#111"/><circle cx="96.25" cy="620" r="4" fill="#111"/><circle cx="120" cy="574.5" r="4" fill="#111"/><circle cx="155.5" cy="510" r="4" fill="#111"/><path d="M155.5 500.5V520M153.7 500.5h3.6M153.7 520h3.6M120 568.8V581M118.3 568.8h3.4M118.3 581h3.4" stroke="#444" stroke-width="0.7" fill="none"/><path d="M76 680.4L80.6 688.4L71.4 688.4Z" fill="#111"/><path d="M88 670.4L92.6 678.4L83.4 678.4Z" fill="#111"/><path d="M120 643L124.6 651L115.4 651Z" fill="#111"/><path d="M156 613.4L160.6 621.4L151.4 621.4Z" fill="#111"/><path d="M208.8 558.9L213.3 566.9L204.2 566.9Z" fill="#111"/><path d="M208.75 556V560" stroke="#444" stroke-width="0.7"/><rect x="59.8" y="700.4" width="7.6" height="7.6" fill="#111"/><rect x="63.8" y="700" width="7.6" height="7.6" fill="#111"/><rect x="98.8" y="692.8" width="7.6" height="7.6" fill="#111"/><rect x="122.3" y="683.8" width="7.6" height="7.6" fill="#111"/><rect x="186.9" y="667.2" width="7.6" height="7.6" fill="#111"/><rect x="259.2" y="646.8" width="7.6" height="7.6" fill="#111"/><rect x="364.8" y="628.2" width="7.6" height="7.6" fill="#111"/><path d="M282.7 516.5H306.6" stroke="#111" stroke-width="2.2"/><circle cx="294.3" cy="516.5" r="3.9" fill="#111"/><text x="312.5" y="521.5" font-size="12">L<tspan font-size="7.5" dy="3.5">n</tspan><tspan dy="-3.5"> = 750 nm</tspan></text><path d="M282.7 538.5H306.6" stroke="#111" stroke-width="2.2"/><path d="M294.3 533.9L298.9 541.9L289.7 541.9Z" fill="#111"/><text x="312.5" y="543.5" font-size="12">L<tspan font-size="7.5" dy="3.5">n</tspan><tspan dy="-3.5"> = 500 nm</tspan></text><path d="M282.7 559.1H306.6" stroke="#111" stroke-width="2.2"/><rect x="290.5" y="555.3" width="7.6" height="7.6" fill="#111"/><text x="312.5" y="564.1" font-size="12">L<tspan font-size="7.5" dy="3.5">n</tspan><tspan dy="-3.5"> = 250 nm</tspan></text><text x="12" y="474" font-size="19" font-weight="bold">(c)</text><defs><radialGradient id="bg" cx="0.5" cy="0.5" r="0.5" fx="0.38" fy="0.34"><stop offset="0" stop-color="#707070"/><stop offset="0.45" stop-color="#404040"/><stop offset="0.85" stop-color="#2e2e2e"/><stop offset="1" stop-color="#555"/></radialGradient></defs><path d="M31.5 809.5L39.4 811L50.7 813.1L62 815.2L73.3 817.3L84.6 819.4L95.9 821.5L107.2 823.6L118.5 825.8L129.8 827.9L141.1 830L152.4 832.1L163.7 834.2L175 836.3L186.3 838.4L193.2 839.7M33.3 809.4L39.9 810.7L51.2 812.8L62.5 814.9L73.8 817L85.1 819.1L96.4 821.2L107.7 823.4L119 825.5L130.3 827.6L141.6 829.7L153 831.8L164.3 833.9L175.6 836.1L186.9 838.2L193.7 839.5M35.2 808.6L40.6 809.6L51.9 811.7L63.2 813.8L74.5 816L85.8 818.1L97.1 820.2L108.4 822.3L119.7 824.4L131 826.6L142.3 828.7L153.6 830.8L164.9 832.9L176.2 835.1L187.5 837.2L194.4 838.5M37.1 807L41.4 807.8L52.7 809.9L64 812L75.3 814.2L86.6 816.3L97.9 818.5L109.2 820.6L120.5 822.7L131.8 824.9L143.1 827L154.4 829.1L165.7 831.3L177 833.4L188.3 835.5L195.1 836.8M38.8 804.7L42.2 805.3L53.5 807.5L64.8 809.6L76.1 811.8L87.4 813.9L98.7 816.1L110 818.2L121.3 820.4L132.6 822.5L143.9 824.7L155.2 826.8L166.5 829L177.8 831.1L189.1 833.3L195.9 834.6M40.3 801.9L43.1 802.4L54.3 804.6L65.6 806.7L76.9 808.9L88.2 811.1L99.5 813.2L110.8 815.4L122.1 817.6L133.4 819.7L144.7 821.9L156 824.1L167.3 826.2L178.6 828.4L189.9 830.6L196.7 831.9M41.6 798.6L43.9 799.1L55.2 801.3L66.4 803.4L77.7 805.6L89 807.8L100.3 810L111.6 812.2L122.9 814.4L134.2 816.6L145.5 818.8L156.8 821L168.1 823.1L179.3 825.3L190.6 827.5L197.5 828.8M42.5 795.1L44.6 795.6L55.9 797.8L67.2 800L78.5 802.2L89.8 804.4L101 806.6L112.3 808.8L123.6 811L134.9 813.2L146.2 815.4L157.5 817.7L168.8 819.9L180 822.1L191.3 824.3L198.2 825.6M42.9 791.6L45.2 792L56.5 794.3L67.8 796.5L79.1 798.7L90.4 801L101.7 803.2L112.9 805.4L124.2 807.6L135.5 809.9L146.8 812.1L158.1 814.3L169.3 816.6L180.6 818.8L191.9 821L198.7 822.4M43 788.1L45.7 788.6L57 790.9L68.3 793.2L79.6 795.4L90.9 797.7L102.1 799.9L113.4 802.2L124.7 804.4L136 806.7L147.2 808.9L158.5 811.2L169.8 813.4L181.1 815.7L192.3 817.9L199.2 819.3M42.7 784.9L46.1 785.6L57.3 787.9L68.6 790.1L79.9 792.4L91.2 794.7L102.4 796.9L113.7 799.2L125 801.5L136.3 803.8L147.5 806L158.8 808.3L170.1 810.6L181.4 812.8L192.6 815.1L199.5 816.5M41.9 782.1L46.2 783L57.5 785.3L68.8 787.6L80 789.9L91.3 792.2L102.6 794.4L113.8 796.7L125.1 799L136.4 801.3L147.7 803.6L158.9 805.9L170.2 808.2L181.5 810.4L192.7 812.7L199.6 814.1M40.8 779.9L46.2 781.1L57.4 783.4L68.7 785.6L80 787.9L91.3 790.2L102.5 792.5L113.8 794.8L125.1 797.1L136.3 799.4L147.6 801.7L158.9 804L170.1 806.3L181.4 808.6L192.7 810.9L199.5 812.3M39.4 778.4L46 779.8L57.2 782.1L68.5 784.4L79.8 786.7L91 789L102.3 791.3L113.6 793.6L124.8 795.9L136.1 798.2L147.4 800.5L158.6 802.8L169.9 805.1L181.2 807.4L192.4 809.7L199.3 811.1M37.7 777.7L45.6 779.3L56.8 781.6L68.1 783.9L79.4 786.2L90.6 788.5L101.9 790.8L113.2 793.1L124.4 795.4L135.7 797.8L147 800.1L158.2 802.4L169.5 804.7L180.8 807L192 809.3L198.8 810.7M35.9 777.8L45 779.6L56.3 781.9L67.5 784.2L78.8 786.5L90.1 788.8L101.3 791.1L112.6 793.4L123.9 795.7L135.1 798L146.4 800.3L157.7 802.6L168.9 804.9L180.2 807.2L191.5 809.6L198.3 810.9M34 778.6L44.3 780.7L55.6 783L66.8 785.3L78.1 787.6L89.4 789.9L100.7 792.2L111.9 794.5L123.2 796.8L134.5 799.1L145.7 801.4L157 803.7L168.3 805.9L179.5 808.2L190.8 810.5L197.6 811.9M32.1 780.2L43.5 782.5L54.8 784.8L66.1 787.1L77.3 789.4L88.6 791.6L99.9 793.9L111.2 796.2L122.4 798.5L133.7 800.8L145 803.1L156.2 805.3L167.5 807.6L178.8 809.9L190.1 812.2L196.9 813.6M30.4 782.5L42.7 784.9L54 787.2L65.2 789.5L76.5 791.7L87.8 794L99.1 796.3L110.3 798.6L121.6 800.8L132.9 803.1L144.2 805.4L155.4 807.6L166.7 809.9L178 812.2L189.3 814.4L196.1 815.8M28.9 785.3L41.9 787.9L53.1 790.1L64.4 792.4L75.7 794.6L87 796.9L98.2 799.1L109.5 801.4L120.8 803.6L132.1 805.9L143.3 808.1L154.6 810.4L165.9 812.7L177.2 814.9L188.5 817.2L195.3 818.5M27.6 788.6L41 791.2L52.3 793.4L63.6 795.7L74.9 797.9L86.2 800.1L97.4 802.4L108.7 804.6L120 806.8L131.3 809.1L142.6 811.3L153.9 813.5L165.1 815.7L176.4 818L187.7 820.2L194.5 821.6M26.7 792.1L40.3 794.7L51.6 796.9L62.9 799.1L74.1 801.3L85.4 803.6L96.7 805.8L108 808L119.3 810.2L130.6 812.4L141.9 814.6L153.1 816.8L164.4 819L175.7 821.2L187 823.4L193.8 824.8M26.3 795.6L39.7 798.2L50.9 800.4L62.2 802.6L73.5 804.8L84.8 807L96.1 809.2L107.4 811.4L118.7 813.6L130 815.8L141.3 817.9L152.6 820.1L163.8 822.3L175.1 824.5L186.4 826.7L193.3 828M26.2 799.1L39.2 801.6L50.5 803.8L61.7 806L73 808.1L84.3 810.3L95.6 812.5L106.9 814.6L118.2 816.8L129.5 819L140.8 821.1L152.1 823.3L163.4 825.5L174.7 827.6L186 829.8L192.8 831.1M26.5 802.3L38.8 804.7L50.1 806.8L61.4 809L72.7 811.1L84 813.3L95.3 815.4L106.6 817.6L117.9 819.7L129.2 821.9L140.5 824L151.8 826.2L163.1 828.3L174.4 830.5L185.7 832.6L192.5 833.9M27.3 805.1L38.7 807.3L50 809.4L61.3 811.5L72.6 813.7L83.9 815.8L95.2 817.9L106.5 820.1L117.8 822.2L129.1 824.3L140.4 826.5L151.7 828.6L163 830.7L174.3 832.9L185.6 835L192.4 836.3M28.4 807.3L38.7 809.2L50 811.3L61.3 813.5L72.6 815.6L83.9 817.7L95.2 819.8L106.5 822L117.8 824.1L129.1 826.2L140.4 828.3L151.7 830.4L163.1 832.6L174.4 834.7L185.7 836.8L192.5 838.1M29.8 808.8L38.9 810.5L50.3 812.6L61.6 814.7L72.9 816.8L84.2 818.9L95.5 821.1L106.8 823.2L118.1 825.3L129.4 827.4L140.7 829.5L152 831.6L163.3 833.8L174.6 835.9L185.9 838L192.7 839.3" fill="none" stroke="#a6a6a6" stroke-width="0.4"/><path d="M39.4 811L39.7 810.8L40.2 810.3L40.7 809.4L41.2 808.2L41.8 806.6L42.4 804.8L43 802.7L43.5 800.4L44.1 798L44.6 795.6L45.1 793.1L45.5 790.6L45.8 788.3L46 786.2L46.2 784.2L46.2 782.6L46.2 781.2L46.1 780.2L45.9 779.6L45.6 779.3L45.2 779.4L44.7 780L44.2 780.8L43.7 782.1L43.1 783.6L42.5 785.5L41.9 787.6L41.4 789.8L40.8 792.2L40.3 794.7L39.8 797.2L39.4 799.6L39.1 801.9L38.9 804.1L38.7 806L38.7 807.7L38.7 809.1L38.8 810.1L39.1 810.7L39.4 811M50.7 813.1L51 813L51.5 812.4L52 811.6L52.5 810.3L53.1 808.8L53.7 806.9L54.3 804.9L54.8 802.6L55.4 800.2L55.9 797.8L56.4 795.3L56.7 792.9L57.1 790.6L57.3 788.4L57.4 786.5L57.5 784.9L57.5 783.5L57.3 782.5L57.1 781.9L56.8 781.6L56.4 781.7L56 782.3L55.5 783.1L55 784.4L54.4 785.9L53.8 787.8L53.2 789.8L52.6 792.1L52.1 794.5L51.6 796.9L51.1 799.4L50.7 801.8L50.4 804.1L50.2 806.3L50 808.2L50 809.8L50 811.2L50.1 812.2L50.4 812.8L50.7 813.1M62 815.2L62.3 815.1L62.8 814.6L63.3 813.7L63.8 812.5L64.4 810.9L65 809.1L65.6 807L66.1 804.8L66.7 802.4L67.2 800L67.6 797.5L68 795.1L68.3 792.8L68.6 790.7L68.7 788.8L68.8 787.2L68.7 785.8L68.6 784.8L68.4 784.2L68.1 783.9L67.7 784L67.3 784.6L66.8 785.4L66.2 786.7L65.7 788.2L65.1 790L64.5 792.1L63.9 794.3L63.4 796.7L62.9 799.1L62.4 801.6L62 804L61.7 806.3L61.5 808.4L61.3 810.3L61.3 812L61.3 813.3L61.4 814.3L61.7 814.9L62 815.2M73.3 817.3L73.6 817.2L74.1 816.7L74.6 815.8L75.1 814.6L75.7 813.1L76.3 811.2L76.9 809.2L77.4 807L78 804.6L78.5 802.2L78.9 799.8L79.3 797.4L79.6 795.1L79.8 793L80 791.1L80 789.4L80 788.1L79.9 787.1L79.7 786.5L79.4 786.2L79 786.3L78.5 786.9L78 787.7L77.5 788.9L76.9 790.5L76.4 792.3L75.8 794.3L75.2 796.6L74.7 798.9L74.1 801.3L73.7 803.8L73.3 806.2L73 808.4L72.8 810.6L72.6 812.5L72.6 814.1L72.6 815.4L72.7 816.4L73 817.1L73.3 817.3M84.6 819.4L84.9 819.3L85.4 818.8L85.9 817.9L86.4 816.7L87 815.2L87.6 813.4L88.1 811.4L88.7 809.2L89.3 806.8L89.8 804.4L90.2 802L90.6 799.6L90.9 797.3L91.1 795.2L91.3 793.4L91.3 791.7L91.3 790.4L91.1 789.4L90.9 788.8L90.6 788.5L90.2 788.7L89.8 789.2L89.3 790L88.8 791.2L88.2 792.8L87.6 794.6L87 796.6L86.5 798.8L85.9 801.1L85.4 803.6L85 806L84.6 808.3L84.3 810.6L84.1 812.7L83.9 814.6L83.9 816.2L83.9 817.5L84.1 818.5L84.3 819.2L84.6 819.4M95.9 821.5L96.2 821.4L96.7 820.9L97.2 820.1L97.7 818.9L98.3 817.3L98.9 815.6L99.4 813.5L100 811.3L100.5 809L101 806.6L101.5 804.2L101.9 801.8L102.2 799.6L102.4 797.5L102.5 795.6L102.6 794L102.5 792.7L102.4 791.7L102.2 791.1L101.9 790.8L101.5 791L101.1 791.5L100.6 792.3L100 793.5L99.5 795L98.9 796.8L98.3 798.8L97.8 801L97.2 803.4L96.7 805.8L96.3 808.2L95.9 810.5L95.6 812.8L95.4 814.9L95.2 816.7L95.2 818.4L95.2 819.7L95.4 820.7L95.6 821.3L95.9 821.5M107.2 823.6L107.6 823.5L108 823L108.5 822.2L109 821L109.6 819.5L110.2 817.7L110.7 815.7L111.3 813.5L111.8 811.2L112.3 808.8L112.8 806.4L113.1 804.1L113.4 801.8L113.7 799.8L113.8 797.9L113.9 796.3L113.8 795L113.7 794L113.5 793.4L113.2 793.1L112.8 793.3L112.3 793.8L111.8 794.6L111.3 795.8L110.8 797.3L110.2 799.1L109.6 801.1L109 803.3L108.5 805.6L108 808L107.6 810.4L107.2 812.7L106.9 814.9L106.7 817L106.5 818.9L106.5 820.5L106.5 821.8L106.7 822.8L106.9 823.4L107.2 823.6M118.5 825.8L118.9 825.6L119.3 825.2L119.8 824.3L120.3 823.1L120.9 821.6L121.5 819.9L122 817.9L122.6 815.7L123.1 813.4L123.6 811L124 808.7L124.4 806.3L124.7 804.1L124.9 802L125.1 800.2L125.1 798.6L125.1 797.3L124.9 796.3L124.7 795.7L124.4 795.4L124 795.6L123.6 796.1L123.1 796.9L122.6 798.1L122 799.6L121.4 801.4L120.9 803.3L120.3 805.5L119.8 807.8L119.3 810.2L118.9 812.6L118.5 814.9L118.2 817.1L118 819.2L117.8 821L117.8 822.6L117.8 823.9L118 824.9L118.2 825.5L118.5 825.8M129.8 827.9L130.2 827.8L130.6 827.3L131.1 826.4L131.6 825.2L132.2 823.8L132.8 822L133.3 820L133.9 817.9L134.4 815.6L134.9 813.2L135.3 810.9L135.7 808.6L136 806.4L136.2 804.3L136.3 802.5L136.4 800.9L136.3 799.6L136.2 798.6L136 798L135.7 797.8L135.3 797.9L134.9 798.4L134.4 799.2L133.9 800.4L133.3 801.9L132.7 803.6L132.2 805.6L131.6 807.8L131.1 810L130.6 812.4L130.1 814.8L129.8 817.1L129.5 819.3L129.3 821.3L129.1 823.2L129.1 824.8L129.1 826L129.3 827L129.5 827.6L129.8 827.9M141.1 830L141.5 829.9L141.9 829.4L142.4 828.6L142.9 827.4L143.5 825.9L144 824.2L144.6 822.2L145.2 820.1L145.7 817.8L146.2 815.4L146.6 813.1L147 810.8L147.3 808.6L147.5 806.6L147.6 804.7L147.7 803.2L147.6 801.9L147.5 800.9L147.3 800.3L147 800.1L146.6 800.2L146.1 800.7L145.7 801.5L145.1 802.7L144.6 804.1L144 805.9L143.4 807.9L142.9 810L142.3 812.3L141.9 814.6L141.4 816.9L141.1 819.2L140.8 821.4L140.6 823.5L140.4 825.3L140.4 826.9L140.4 828.2L140.6 829.1L140.8 829.7L141.1 830M152.4 832.1L152.8 832L153.2 831.5L153.7 830.7L154.2 829.5L154.8 828L155.3 826.3L155.9 824.4L156.5 822.2L157 820L157.5 817.7L157.9 815.3L158.3 813L158.6 810.9L158.8 808.8L158.9 807L158.9 805.5L158.9 804.2L158.7 803.2L158.5 802.6L158.2 802.4L157.8 802.5L157.4 803L156.9 803.8L156.4 805L155.8 806.4L155.3 808.2L154.7 810.1L154.2 812.2L153.6 814.5L153.1 816.8L152.7 819.1L152.4 821.4L152.1 823.6L151.9 825.6L151.7 827.4L151.7 829L151.7 830.3L151.9 831.2L152.1 831.9L152.4 832.1M163.7 834.2L164.1 834.1L164.5 833.6L165 832.8L165.5 831.6L166.1 830.2L166.6 828.5L167.2 826.5L167.8 824.4L168.3 822.2L168.8 819.9L169.2 817.5L169.5 815.3L169.8 813.1L170 811.1L170.2 809.3L170.2 807.7L170.2 806.5L170 805.5L169.8 804.9L169.5 804.7L169.1 804.8L168.7 805.3L168.2 806.1L167.7 807.2L167.1 808.7L166.5 810.4L166 812.4L165.4 814.5L164.9 816.7L164.4 819L164 821.3L163.6 823.6L163.4 825.8L163.1 827.8L163 829.6L163 831.1L163 832.4L163.2 833.4L163.4 834L163.7 834.2M175 836.3L175.4 836.2L175.8 835.7L176.3 834.9L176.8 833.8L177.4 832.3L177.9 830.6L178.5 828.7L179 826.6L179.6 824.4L180 822.1L180.5 819.8L180.8 817.5L181.1 815.4L181.3 813.4L181.4 811.6L181.5 810L181.4 808.8L181.3 807.8L181.1 807.2L180.8 807L180.4 807.1L179.9 807.6L179.5 808.4L178.9 809.5L178.4 811L177.8 812.7L177.3 814.6L176.7 816.7L176.2 818.9L175.7 821.2L175.3 823.5L174.9 825.8L174.7 827.9L174.4 829.9L174.3 831.7L174.3 833.3L174.3 834.5L174.5 835.5L174.7 836.1L175 836.3M186.3 838.4L186.7 838.3L187.1 837.9L187.6 837L188.1 835.9L188.7 834.5L189.2 832.8L189.8 830.9L190.3 828.8L190.9 826.6L191.3 824.3L191.7 822L192.1 819.8L192.4 817.6L192.6 815.6L192.7 813.8L192.7 812.3L192.7 811.1L192.5 810.1L192.3 809.5L192 809.3L191.6 809.4L191.2 809.9L190.7 810.7L190.2 811.8L189.7 813.3L189.1 814.9L188.5 816.9L188 819L187.5 821.2L187 823.4L186.6 825.7L186.2 828L185.9 830.1L185.7 832.1L185.6 833.9L185.6 835.4L185.6 836.7L185.8 837.6L186 838.2L186.3 838.4M193.2 839.7L193.5 839.6L194 839.1L194.4 838.3L195 837.2L195.5 835.8L196.1 834.1L196.6 832.2L197.2 830.1L197.7 827.9L198.2 825.6L198.6 823.3L198.9 821.1L199.2 819L199.4 817L199.5 815.2L199.6 813.7L199.5 812.5L199.4 811.5L199.1 810.9L198.8 810.7L198.5 810.8L198 811.3L197.6 812.1L197 813.2L196.5 814.6L195.9 816.3L195.4 818.2L194.8 820.3L194.3 822.5L193.8 824.8L193.4 827.1L193.1 829.3L192.8 831.4L192.6 833.4L192.5 835.2L192.4 836.7L192.5 837.9L192.6 838.9L192.9 839.5L193.2 839.7" fill="none" stroke="#c8c8c8" stroke-width="0.35"/><path d="M31.5 809.5L32.5 809.6L33.6 809.4L34.7 808.9L35.8 808.1L36.9 807.1L38 805.9L38.9 804.5L39.8 802.9L40.7 801.1L41.4 799.2L42 797.2L42.5 795.1L42.8 793L43 791L43 788.9L43 787L42.7 785.1L42.4 783.4L41.8 781.9L41.2 780.6L40.5 779.5L39.6 778.6L38.7 778L37.7 777.7L36.7 777.6L35.6 777.8L34.5 778.3L33.4 779.1L32.3 780.1L31.2 781.3L30.3 782.7L29.4 784.3L28.5 786.1L27.8 788L27.2 790L26.7 792.1L26.4 794.2L26.2 796.2L26.2 798.3L26.2 800.2L26.5 802.1L26.8 803.8L27.4 805.3L28 806.6L28.7 807.7L29.6 808.6L30.5 809.2L31.5 809.5M193.2 839.7L194.2 839.8L195.3 839.6L196.4 839.2L197.5 838.5L198.5 837.7L199.5 836.6L200.5 835.3L201.4 833.8L202.2 832.2L202.8 830.4L203.4 828.6L203.9 826.7L204.2 824.8L204.3 822.9L204.3 821.1L204.2 819.3L204 817.6L203.6 816L203 814.6L202.4 813.4L201.6 812.4L200.8 811.6L199.8 811L198.8 810.7L197.8 810.6L196.7 810.8L195.6 811.2L194.5 811.9L193.5 812.7L192.5 813.8L191.5 815.1L190.6 816.6L189.8 818.2L189.2 820L188.6 821.8L188.1 823.7L187.8 825.6L187.7 827.5L187.7 829.3L187.8 831.1L188 832.8L188.4 834.4L189 835.8L189.6 837L190.4 838L191.2 838.8L192.2 839.4L193.2 839.7" fill="none" stroke="#bbb" stroke-width="0.4"/><path d="M34.6 793.6L31.5 809.5M34.6 793.6L33.3 809.4M34.6 793.6L35.2 808.6M34.6 793.6L37.1 807M34.6 793.6L38.8 804.7M34.6 793.6L40.3 801.9M34.6 793.6L41.6 798.6M34.6 793.6L42.5 795.1M34.6 793.6L42.9 791.6M34.6 793.6L43 788.1M34.6 793.6L42.7 784.9M34.6 793.6L41.9 782.1M34.6 793.6L40.8 779.9M34.6 793.6L39.4 778.4M34.6 793.6L37.7 777.7M34.6 793.6L35.9 777.8M34.6 793.6L34 778.6M34.6 793.6L32.1 780.2M34.6 793.6L30.4 782.5M34.6 793.6L28.9 785.3M34.6 793.6L27.6 788.6M34.6 793.6L26.7 792.1M34.6 793.6L26.3 795.6M34.6 793.6L26.2 799.1M34.6 793.6L26.5 802.3M34.6 793.6L27.3 805.1M34.6 793.6L28.4 807.3M34.6 793.6L29.8 808.8" fill="none" stroke="#d0d0d0" stroke-width="0.3"/><path d="M31.5 809.5L193.2 839.7M37.7 777.7L198.8 810.7" fill="none" stroke="#888" stroke-width="0.7"/><circle cx="34.6" cy="793.6" r="1" fill="#999"/><path d="M237.4 776.7L249.3 777.9M237.4 776.7L228.6 788.5M237.4 776.7L250.9 767.4M237.4 776.7L233.8 772.2M237.4 776.7L221.5 784.5M249.3 777.9L264.1 782.5M249.3 777.9L228.6 788.5M249.3 777.9L242.6 792.4M249.3 777.9L250.9 767.4M249.3 777.9L267.9 769.6M264.1 782.5L283 791.1M264.1 782.5L242.6 792.4M264.1 782.5L263.2 798.2M264.1 782.5L267.9 769.6M264.1 782.5L287.8 775M283 791.1L299.9 800.5M283 791.1L263.2 798.2M283 791.1L281.4 809.6M283 791.1L287.8 775M283 791.1L305.9 786.2M299.9 800.5L314.3 813.7M299.9 800.5L281.4 809.6M299.9 800.5L300.3 821.5M299.9 800.5L305.9 786.2M299.9 800.5L322.6 802M314.3 813.7L300.3 821.5M314.3 813.7L322.6 802M314.3 813.7L332.6 816.8M314.3 813.7L317.8 829.1M228.6 788.5L242.6 792.4M228.6 788.5L225.1 805.1M228.6 788.5L221.5 784.5M228.6 788.5L214.5 799M242.6 792.4L263.2 798.2M242.6 792.4L225.1 805.1M242.6 792.4L241.2 810.1M263.2 798.2L281.4 809.6M263.2 798.2L241.2 810.1M263.2 798.2L261.5 820.2M281.4 809.6L300.3 821.5M281.4 809.6L261.5 820.2M281.4 809.6L280.5 830.7M300.3 821.5L280.5 830.7M300.3 821.5L317.8 829.1M300.3 821.5L298 840.2M225.1 805.1L241.2 810.1M225.1 805.1L224.7 823.8M225.1 805.1L214.5 799M225.1 805.1L208.1 820.6M241.2 810.1L261.5 820.2M241.2 810.1L224.7 823.8M241.2 810.1L241.4 834M261.5 820.2L280.5 830.7M261.5 820.2L241.4 834M261.5 820.2L260 843.8M280.5 830.7L260 843.8M280.5 830.7L298 840.2M280.5 830.7L281.3 850.6M224.7 823.8L241.4 834M224.7 823.8L225.1 844.5M224.7 823.8L208.1 820.6M224.7 823.8L211 841.9M241.4 834L260 843.8M241.4 834L225.1 844.5M241.4 834L244.4 853.1M260 843.8L244.4 853.1M260 843.8L281.3 850.6M260 843.8L262.1 864.8M225.1 844.5L244.4 853.1M225.1 844.5L229 862.2M225.1 844.5L211 841.9M225.1 844.5L216.7 862.1M244.4 853.1L229 862.2M244.4 853.1L262.1 864.8M244.4 853.1L242.9 872.5M229 862.2L216.7 862.1M229 862.2L242.9 872.5M229 862.2L225.7 879.8M250.9 767.4L270.9 759.6M250.9 767.4L267.9 769.6M250.9 767.4L233.8 772.2M250.9 767.4L249.7 763.4M270.9 759.6L294.2 758.5M270.9 759.6L267.9 769.6M270.9 759.6L290.4 763.9M270.9 759.6L249.7 763.4M270.9 759.6L275.9 757.3M294.2 758.5L313.5 761.6M294.2 758.5L290.4 763.9M294.2 758.5L312.1 764.1M294.2 758.5L275.9 757.3M294.2 758.5L294.3 758M313.5 761.6L312.1 764.1M313.5 761.6L329.6 769.3M326.3 766.8L329.6 769.3M267.9 769.6L290.4 763.9M267.9 769.6L287.8 775M290.4 763.9L312.1 764.1M290.4 763.9L287.8 775M290.4 763.9L309.2 773.5M312.1 764.1L329.6 769.3M312.1 764.1L309.2 773.5M312.1 764.1L329.3 775.9M329.6 769.3L329.3 775.9M329.6 769.3L343.5 777.3M329.6 769.3L345.5 781.4M287.8 775L309.2 773.5M287.8 775L305.9 786.2M309.2 773.5L329.3 775.9M309.2 773.5L305.9 786.2M309.2 773.5L324.5 786.2M329.3 775.9L324.5 786.2M329.3 775.9L345.5 781.4M329.3 775.9L345.4 792M305.9 786.2L324.5 786.2M305.9 786.2L322.6 802M324.5 786.2L322.6 802M324.5 786.2L345.4 792M324.5 786.2L339 803.9M322.6 802L339 803.9M322.6 802L332.6 816.8M233.8 772.2L234.7 770.2M233.8 772.2L249.7 763.4M233.8 772.2L221.5 784.5M233.8 772.2L217.9 782.6M234.7 770.2L249.7 763.4M234.7 770.2L217.9 782.6M249.7 763.4L275.9 757.3M221.5 784.5L206.8 796.5M221.5 784.5L217.9 782.6M221.5 784.5L214.5 799M206.8 796.5L195.2 815.1M206.8 796.5L217.9 782.6M206.8 796.5L205.2 796.8M206.8 796.5L214.5 799M206.8 796.5L198.7 817.7M195.2 815.1L190.2 831.7M195.2 815.1L205.2 796.8M195.2 815.1L198.7 817.7M195.2 815.1L190.9 834.6M190.2 831.7L190.9 834.6M217.9 782.6L205.2 796.8M214.5 799L208.1 820.6M214.5 799L198.7 817.7M208.1 820.6L211 841.9M208.1 820.6L198.7 817.7M208.1 820.6L197.7 837.9M211 841.9L216.7 862.1M211 841.9L197.7 837.9M211 841.9L201.2 856.9M216.7 862.1L201.2 856.9M216.7 862.1L225.7 879.8M216.7 862.1L212.1 879.5M198.7 817.7L197.7 837.9M198.7 817.7L190.9 834.6M197.7 837.9L201.2 856.9M197.7 837.9L190.9 834.6M197.7 837.9L192.2 853.5M201.2 856.9L192.2 853.5M201.2 856.9L212.1 879.5M201.2 856.9L199.7 877.6M190.9 834.6L192.2 853.5M190.9 834.6L188.6 851.7M192.2 853.5L188.6 851.7M192.2 853.5L199.7 877.6M192.2 853.5L191.8 870.6M188.6 851.7L191.8 870.6M343.5 777.3L358.6 792.1M343.5 777.3L345.5 781.4M358.6 792.1L370.3 810.6M358.6 792.1L345.5 781.4M358.6 792.1L359.8 799.1M370.3 810.6L377.1 832.4M370.3 810.6L359.8 799.1M370.3 810.6L370 821.6M377.1 832.4L378 849M377.1 832.4L370 821.6M377.1 832.4L373.5 840.6M377.1 832.4L378.9 846.8M378 849L373.5 840.6M378 849L377 866.7M378 849L374.7 862.5M378 849L378.9 846.8M345.5 781.4L359.8 799.1M345.5 781.4L345.4 792M359.8 799.1L370 821.6M359.8 799.1L345.4 792M359.8 799.1L356.6 811.6M370 821.6L373.5 840.6M370 821.6L356.6 811.6M370 821.6L364.3 831.6M373.5 840.6L364.3 831.6M373.5 840.6L374.7 862.5M373.5 840.6L367.5 854.6M345.4 792L356.6 811.6M345.4 792L339 803.9M356.6 811.6L364.3 831.6M356.6 811.6L339 803.9M356.6 811.6L350.5 824.5M364.3 831.6L350.5 824.5M364.3 831.6L353.8 849.5M364.3 831.6L367.5 854.6M339 803.9L350.5 824.5M339 803.9L332.6 816.8M350.5 824.5L332.6 816.8M350.5 824.5L336.9 837.5M350.5 824.5L353.8 849.5M332.6 816.8L317.8 829.1M332.6 816.8L336.9 837.5M317.8 829.1L321.9 852.5M317.8 829.1L298 840.2M317.8 829.1L336.9 837.5M321.9 852.5L320.9 874.3M321.9 852.5L298 840.2M321.9 852.5L301.6 866M321.9 852.5L339.7 861.3M321.9 852.5L336.9 837.5M320.9 874.3L320.1 893M320.9 874.3L301.6 866M320.9 874.3L303.8 887M320.9 874.3L338.6 882M320.9 874.3L339.7 861.3M320.1 893L318.2 908.6M320.1 893L303.8 887M320.1 893L300.9 904.3M320.1 893L334.3 900.7M320.1 893L338.6 882M318.2 908.6L300.9 904.3M318.2 908.6L323.4 917.7M318.2 908.6L334.3 900.7M318.2 908.6L302.1 920.4M298 840.2L301.6 866M298 840.2L281.3 850.6M301.6 866L303.8 887M301.6 866L281.3 850.6M301.6 866L282.1 877.3M303.8 887L300.9 904.3M303.8 887L282.1 877.3M303.8 887L282.6 899.3M300.9 904.3L282.6 899.3M300.9 904.3L302.1 920.4M300.9 904.3L285.1 916M281.3 850.6L282.1 877.3M281.3 850.6L262.1 864.8M282.1 877.3L282.6 899.3M282.1 877.3L262.1 864.8M282.1 877.3L262.2 885.6M282.6 899.3L262.2 885.6M282.6 899.3L263.3 904.9M282.6 899.3L285.1 916M262.1 864.8L262.2 885.6M262.1 864.8L242.9 872.5M262.2 885.6L242.9 872.5M262.2 885.6L241.3 892.2M262.2 885.6L263.3 904.9M242.9 872.5L225.7 879.8M242.9 872.5L241.3 892.2M225.7 879.8L225.2 896.7M225.7 879.8L212.1 879.5M225.7 879.8L241.3 892.2M225.2 896.7L226.6 911M225.2 896.7L212.1 879.5M225.2 896.7L210.7 895.9M225.2 896.7L241.7 911.1M225.2 896.7L241.3 892.2M226.6 911L233.1 923.6M226.6 911L210.7 895.9M226.6 911L214.5 909M226.6 911L247.5 925.4M226.6 911L241.7 911.1M233.1 923.6L240.2 929.9M233.1 923.6L214.5 909M233.1 923.6L224.7 920.3M233.1 923.6L252.3 932.8M233.1 923.6L247.5 925.4M240.2 929.9L224.7 920.3M240.2 929.9L254.7 935.6M240.2 929.9L252.3 932.8M212.1 879.5L210.7 895.9M212.1 879.5L199.7 877.6M210.7 895.9L214.5 909M210.7 895.9L199.7 877.6M210.7 895.9L200.4 890.9M214.5 909L224.7 920.3M214.5 909L200.4 890.9M214.5 909L207.8 903.7M199.7 877.6L200.4 890.9M199.7 877.6L191.8 870.6M200.4 890.9L207.8 903.7M200.4 890.9L191.8 870.6M200.4 890.9L197 885.8M191.8 870.6L197 885.8M332.4 927L329.7 923.8M332.4 927L348.7 913.4M332.4 927L314.7 933.6M329.7 923.8L323.4 917.7M329.7 923.8L348.7 913.4M329.7 923.8L343.3 909.2M329.7 923.8L314.7 933.6M329.7 923.8L307.3 928.1M323.4 917.7L343.3 909.2M323.4 917.7L334.3 900.7M323.4 917.7L307.3 928.1M323.4 917.7L302.1 920.4M348.7 915.1L348.7 913.4M348.7 915.1L362.1 900.1M348.7 913.4L343.3 909.2M348.7 913.4L362.1 900.1M348.7 913.4L358.8 897.3M343.3 909.2L334.3 900.7M343.3 909.2L358.8 897.3M343.3 909.2L349.9 891.9M334.3 900.7L349.9 891.9M334.3 900.7L338.6 882M362.1 900.1L358.8 897.3M362.1 900.1L371.6 883.6M362.1 900.1L371.5 879.6M358.8 897.3L349.9 891.9M358.8 897.3L371.5 879.6M358.8 897.3L365.7 875.8M349.9 891.9L365.7 875.8M349.9 891.9L338.6 882M349.9 891.9L354.3 871M371.6 883.6L371.5 879.6M371.5 879.6L365.7 875.8M371.5 879.6L377 866.7M371.5 879.6L374.7 862.5M365.7 875.8L374.7 862.5M365.7 875.8L354.3 871M365.7 875.8L367.5 854.6M377 866.7L374.7 862.5M374.7 862.5L367.5 854.6M254.7 935.6L270.1 938.5M254.7 935.6L252.3 932.8M314.5 934.7L314.7 933.6M293 939.6L270.1 938.5M293 939.6L314.7 933.6M293 939.6L290 935.7M270.1 938.5L252.3 932.8M270.1 938.5L290 935.7M270.1 938.5L267.7 932.9M252.3 932.8L267.7 932.9M252.3 932.8L247.5 925.4M314.7 933.6L290 935.7M314.7 933.6L307.3 928.1M290 935.7L267.7 932.9M290 935.7L307.3 928.1M290 935.7L287.2 926.9M267.7 932.9L287.2 926.9M267.7 932.9L247.5 925.4M267.7 932.9L265 923.6M307.3 928.1L287.2 926.9M307.3 928.1L302.1 920.4M287.2 926.9L302.1 920.4M287.2 926.9L265 923.6M287.2 926.9L285.1 916M302.1 920.4L285.1 916M338.6 882L339.7 861.3M338.6 882L354.3 871M339.7 861.3L336.9 837.5M339.7 861.3L354.3 871M339.7 861.3L353.8 849.5M336.9 837.5L353.8 849.5M354.3 871L353.8 849.5M354.3 871L367.5 854.6M353.8 849.5L367.5 854.6M247.5 925.4L241.7 911.1M247.5 925.4L265 923.6M241.7 911.1L241.3 892.2M241.7 911.1L265 923.6M241.7 911.1L263.3 904.9M241.3 892.2L263.3 904.9M265 923.6L263.3 904.9M265 923.6L285.1 916M263.3 904.9L285.1 916M313.5 761.6L326.3 766.8M313.5 761.6L294.3 758M313.5 761.6L315.8 764.4M326.3 766.8L315.8 764.4M326.3 766.8L343.5 777.3M326.3 766.8L336.9 775.1M234.7 770.2L235.5 774.2M234.7 770.2L252.8 763.7M234.7 770.2L220.2 782.7M235.5 774.2L245.6 780.4M235.5 774.2L252.8 763.7M235.5 774.2L258.8 769M235.5 774.2L220.2 782.7M235.5 774.2L225 787.5M245.6 780.4L251.8 788.4M245.6 780.4L258.8 769M245.6 780.4L263.7 778M245.6 780.4L225 787.5M245.6 780.4L234.3 795.6M251.8 788.4L263.7 778M251.8 788.4L234.3 795.6M251.8 788.4L246.8 804.5M251.8 788.4L266.4 793.2M249.7 763.4L252.8 763.7M252.8 763.7L258.8 769M252.8 763.7L275.9 757.3M252.8 763.7L278.8 760M258.8 769L263.7 778M258.8 769L278.8 760M258.8 769L282.2 769M263.7 778L282.2 769M263.7 778L266.4 793.2M263.7 778L284.7 783M275.9 757.3L278.8 760M275.9 757.3L294.3 758M278.8 760L282.2 769M278.8 760L294.3 758M278.8 760L298.5 764.5M282.2 769L298.5 764.5M282.2 769L284.7 783M282.2 769L305.5 775.7M294.3 758L298.5 764.5M294.3 758L315.8 764.4M298.5 764.5L315.8 764.4M298.5 764.5L305.5 775.7M298.5 764.5L320.5 772.3M315.8 764.4L320.5 772.3M315.8 764.4L336.9 775.1M195.2 815.1L196.3 816.1M190.2 831.7L189.4 848.6M190.2 831.7L196.3 816.1M190.2 831.7L193 834.1M190.2 831.7L188.6 851.7M189.4 848.6L193 834.1M189.4 848.6L188.6 851.7M189.4 848.6L191 866.1M189.4 848.6L193.2 856.5M217.9 782.6L220.2 782.7M205.2 796.8L196.3 816.1M205.2 796.8L220.2 782.7M205.2 796.8L207.8 801.6M196.3 816.1L193 834.1M196.3 816.1L207.8 801.6M196.3 816.1L202.6 820.7M193 834.1L202.6 820.7M193 834.1L193.2 856.5M193 834.1L199.9 843.3M220.2 782.7L207.8 801.6M220.2 782.7L225 787.5M207.8 801.6L202.6 820.7M207.8 801.6L225 787.5M207.8 801.6L217.2 806.2M202.6 820.7L217.2 806.2M202.6 820.7L199.9 843.3M202.6 820.7L212.9 828.6M225 787.5L217.2 806.2M225 787.5L234.3 795.6M217.2 806.2L234.3 795.6M217.2 806.2L212.9 828.6M217.2 806.2L230.1 814.2M234.3 795.6L230.1 814.2M234.3 795.6L246.8 804.5M188.6 851.7L191 866.1M343.5 777.3L336.9 775.1M343.5 777.3L351.2 786.3M358.6 792.1L366.5 805.5M358.6 792.1L351.2 786.3M370.3 810.6L375.6 826.1M370.3 810.6L366.5 805.5M377.1 832.4L375.6 826.1M240.2 929.9L238.3 927.7M224.7 920.3L207.8 903.7M224.7 920.3L238.3 927.7M224.7 920.3L221 914.7M207.8 903.7L197 885.8M207.8 903.7L207.2 896.7M207.8 903.7L221 914.7M191.8 870.6L191 866.1M197 885.8L191 866.1M197 885.8L197.6 875.7M197 885.8L207.2 896.7M191 866.1L193.2 856.5M191 866.1L197.6 875.7M193.2 856.5L203.3 865M193.2 856.5L199.9 843.3M193.2 856.5L197.6 875.7M203.3 865L218.5 872.8M203.3 865L199.9 843.3M203.3 865L213.4 850M203.3 865L210.3 886.7M203.3 865L197.6 875.7M218.5 872.8L237.1 881M218.5 872.8L213.4 850M218.5 872.8L231.9 858.9M218.5 872.8L225.7 893.1M218.5 872.8L210.3 886.7M237.1 881L253 885.2M237.1 881L231.9 858.9M237.1 881L248.7 867.5M237.1 881L246.3 895.5M237.1 881L225.7 893.1M253 885.2L248.7 867.5M253 885.2L267.3 895.5M253 885.2L246.3 895.5M253 885.2L268.7 874.7M199.9 843.3L213.4 850M199.9 843.3L212.9 828.6M213.4 850L231.9 858.9M213.4 850L212.9 828.6M213.4 850L228.2 837M231.9 858.9L248.7 867.5M231.9 858.9L228.2 837M231.9 858.9L248.1 845.6M248.7 867.5L248.1 845.6M248.7 867.5L268.7 874.7M248.7 867.5L265.1 854.4M212.9 828.6L228.2 837M212.9 828.6L230.1 814.2M228.2 837L248.1 845.6M228.2 837L230.1 814.2M228.2 837L246.2 823.3M248.1 845.6L246.2 823.3M248.1 845.6L263.8 832.3M248.1 845.6L265.1 854.4M230.1 814.2L246.2 823.3M230.1 814.2L246.8 804.5M246.2 823.3L246.8 804.5M246.2 823.3L266.2 809.9M246.2 823.3L263.8 832.3M246.8 804.5L266.4 793.2M246.8 804.5L266.2 809.9M266.4 793.2L284.1 801.1M266.4 793.2L284.7 783M266.4 793.2L266.2 809.9M284.1 801.1L307.8 810.9M284.1 801.1L284.7 783M284.1 801.1L305.8 790.2M284.1 801.1L287.1 819.9M284.1 801.1L266.2 809.9M307.8 810.9L323.5 822.2M307.8 810.9L305.8 790.2M307.8 810.9L325.6 805.2M307.8 810.9L308.4 832.6M307.8 810.9L287.1 819.9M323.5 822.2L339.4 835.3M323.5 822.2L325.6 805.2M323.5 822.2L341.4 818.9M323.5 822.2L326 842.1M323.5 822.2L308.4 832.6M339.4 835.3L341.4 818.9M339.4 835.3L340.2 853.6M339.4 835.3L326 842.1M339.4 835.3L350.6 834.3M284.7 783L305.8 790.2M284.7 783L305.5 775.7M305.8 790.2L325.6 805.2M305.8 790.2L305.5 775.7M305.8 790.2L323.8 785.9M325.6 805.2L341.4 818.9M325.6 805.2L323.8 785.9M325.6 805.2L342.6 799.8M341.4 818.9L342.6 799.8M341.4 818.9L350.6 834.3M341.4 818.9L357 820.4M305.5 775.7L323.8 785.9M305.5 775.7L320.5 772.3M323.8 785.9L342.6 799.8M323.8 785.9L320.5 772.3M323.8 785.9L340.2 784.7M342.6 799.8L340.2 784.7M342.6 799.8L357.5 802.9M342.6 799.8L357 820.4M320.5 772.3L340.2 784.7M320.5 772.3L336.9 775.1M340.2 784.7L336.9 775.1M340.2 784.7L351.2 786.3M340.2 784.7L357.5 802.9M336.9 775.1L351.2 786.3M330.4 920.6L332.5 925.3M330.4 920.6L346.9 912.2M330.4 920.6L317 929.9M330.4 920.6L318.8 920M330.4 920.6L337.1 908.9M332.5 925.3L332.4 927M332.5 925.3L346.9 912.2M332.5 925.3L348.7 915.1M332.5 925.3L317 929.9M332.5 925.3L314.5 934.7M332.4 927L348.7 915.1M332.4 927L314.5 934.7M346.9 912.2L348.7 915.1M346.9 912.2L361.6 898.4M346.9 912.2L337.1 908.9M346.9 912.2L354 897.4M348.7 915.1L361.6 898.4M361.6 898.4L362.1 900.1M361.6 898.4L371.6 883.6M361.6 898.4L354 897.4M361.6 898.4L368 881M371.6 883.6L377 866.7M371.6 883.6L368 881M371.6 883.6L376.4 862.4M377 866.7L376.4 862.4M377 866.7L378.9 846.8M317 929.9L294.6 936.9M317 929.9L314.5 934.7M317 929.9L318.8 920M317 929.9L300.1 927.9M294.6 936.9L275.9 939M294.6 936.9L314.5 934.7M294.6 936.9L293 939.6M294.6 936.9L300.1 927.9M294.6 936.9L277.9 933.3M275.9 939L254.7 935.6M275.9 939L293 939.6M275.9 939L270.1 938.5M275.9 939L277.9 933.3M275.9 939L254 932.1M254.7 935.6L254 932.1M254.7 935.6L238.3 927.7M314.5 934.7L293 939.6M318.8 920L302.1 915.3M318.8 920L300.1 927.9M318.8 920L337.1 908.9M318.8 920L322.9 906.2M302.1 915.3L282 906M302.1 915.3L300.1 927.9M302.1 915.3L283.5 921.7M302.1 915.3L322.9 906.2M302.1 915.3L305.2 897.4M282 906L267.3 895.5M282 906L283.5 921.7M282 906L262.4 911.7M282 906L305.2 897.4M282 906L286.2 885.8M267.3 895.5L262.4 911.7M267.3 895.5L246.3 895.5M267.3 895.5L286.2 885.8M267.3 895.5L268.7 874.7M300.1 927.9L283.5 921.7M300.1 927.9L277.9 933.3M283.5 921.7L262.4 911.7M283.5 921.7L277.9 933.3M283.5 921.7L257.5 923.9M262.4 911.7L246.3 895.5M262.4 911.7L257.5 923.9M262.4 911.7L241.4 910.8M246.3 895.5L241.4 910.8M246.3 895.5L225.7 893.1M277.9 933.3L257.5 923.9M277.9 933.3L254 932.1M257.5 923.9L241.4 910.8M257.5 923.9L254 932.1M257.5 923.9L235.9 920M241.4 910.8L235.9 920M241.4 910.8L225.7 893.1M241.4 910.8L222.6 906.1M254 932.1L235.9 920M254 932.1L238.3 927.7M235.9 920L238.3 927.7M235.9 920L222.6 906.1M235.9 920L221 914.7M238.3 927.7L221 914.7M337.1 908.9L342.5 893.7M337.1 908.9L322.9 906.2M337.1 908.9L354 897.4M342.5 893.7L345 872.5M342.5 893.7L322.9 906.2M342.5 893.7L326.2 887M342.5 893.7L354 897.4M342.5 893.7L357.6 875.8M345 872.5L340.2 853.6M345 872.5L326.2 887M345 872.5L326.1 863.2M345 872.5L357.6 875.8M345 872.5L356.7 857.7M340.2 853.6L326.1 863.2M340.2 853.6L326 842.1M340.2 853.6L356.7 857.7M340.2 853.6L350.6 834.3M322.9 906.2L326.2 887M322.9 906.2L305.2 897.4M326.2 887L326.1 863.2M326.2 887L305.2 897.4M326.2 887L306.7 876.4M326.1 863.2L326 842.1M326.1 863.2L306.7 876.4M326.1 863.2L306.3 854.6M326 842.1L306.3 854.6M326 842.1L308.4 832.6M305.2 897.4L306.7 876.4M305.2 897.4L286.2 885.8M306.7 876.4L306.3 854.6M306.7 876.4L286.2 885.8M306.7 876.4L286.8 866.7M306.3 854.6L286.8 866.7M306.3 854.6L308.4 832.6M306.3 854.6L287.5 843.3M286.2 885.8L286.8 866.7M286.2 885.8L268.7 874.7M286.8 866.7L268.7 874.7M286.8 866.7L287.5 843.3M286.8 866.7L265.1 854.4M268.7 874.7L265.1 854.4M354 897.4L368 881M354 897.4L357.6 875.8M368 881L376.4 862.4M368 881L357.6 875.8M368 881L368.7 858.8M376.4 862.4L378.9 846.8M376.4 862.4L368.7 858.8M376.4 862.4L374.9 842.4M378.9 846.8L374.9 842.4M378.9 846.8L375.6 826.1M357.6 875.8L368.7 858.8M357.6 875.8L356.7 857.7M368.7 858.8L374.9 842.4M368.7 858.8L356.7 857.7M368.7 858.8L366.5 837.5M374.9 842.4L366.5 837.5M374.9 842.4L375.6 826.1M374.9 842.4L368.8 820.6M356.7 857.7L366.5 837.5M356.7 857.7L350.6 834.3M366.5 837.5L350.6 834.3M366.5 837.5L368.8 820.6M366.5 837.5L357 820.4M350.6 834.3L357 820.4M225.7 893.1L210.3 886.7M225.7 893.1L222.6 906.1M210.3 886.7L197.6 875.7M210.3 886.7L222.6 906.1M210.3 886.7L207.2 896.7M197.6 875.7L207.2 896.7M222.6 906.1L207.2 896.7M222.6 906.1L221 914.7M207.2 896.7L221 914.7M308.4 832.6L287.1 819.9M308.4 832.6L287.5 843.3M287.1 819.9L266.2 809.9M287.1 819.9L287.5 843.3M287.1 819.9L263.8 832.3M266.2 809.9L263.8 832.3M287.5 843.3L263.8 832.3M287.5 843.3L265.1 854.4M263.8 832.3L265.1 854.4M375.6 826.1L366.5 805.5M375.6 826.1L368.8 820.6M366.5 805.5L351.2 786.3M366.5 805.5L368.8 820.6M366.5 805.5L357.5 802.9M351.2 786.3L357.5 802.9M368.8 820.6L357.5 802.9M368.8 820.6L357 820.4M357.5 802.9L357 820.4" fill="none" stroke="#b0b0b0" stroke-width="0.5"/><ellipse cx="283.7" cy="848.5" rx="95.3" ry="91.5" fill="none" stroke="#a5a5a5" stroke-width="0.7"/><g fill="url(#bg)"><circle cx="68" cy="794.8" r="3.9"/><circle cx="107.8" cy="816.2" r="3.9"/><circle cx="113.8" cy="807.8" r="3.9"/><circle cx="117.2" cy="815" r="3.9"/><circle cx="122.2" cy="810.2" r="3.9"/><circle cx="123.7" cy="819.5" r="3.9"/><circle cx="129.7" cy="807.2" r="3.9"/><circle cx="130.4" cy="827.3" r="3.9"/><circle cx="140.5" cy="807.8" r="3.9"/><circle cx="140.2" cy="816.2" r="3.9"/><circle cx="146.5" cy="811.7" r="3.9"/><circle cx="146.5" cy="817.7" r="3.9"/><circle cx="152.5" cy="813.2" r="3.9"/><circle cx="157" cy="817.2" r="3.9"/><circle cx="154.7" cy="822.8" r="3.9"/><circle cx="162.7" cy="824" r="3.9"/><circle cx="168" cy="813.5" r="3.9"/><circle cx="174" cy="821" r="3.9"/><circle cx="181.5" cy="819.2" r="3.9"/><circle cx="182.2" cy="823.2" r="3.9"/><circle cx="174.7" cy="829.2" r="3.9"/><circle cx="169.5" cy="833" r="3.9"/><circle cx="174" cy="839.3" r="3.9"/><circle cx="185.2" cy="829.2" r="3.9"/><circle cx="184.8" cy="834.2" r="3.9"/><circle cx="189.7" cy="838.7" r="3.9"/><circle cx="195.7" cy="828.5" r="3.9"/><circle cx="199.5" cy="830" r="3.9"/><circle cx="197.2" cy="839.3" r="3.9"/><circle cx="272.6" cy="885.6" r="3.9"/><circle cx="290.6" cy="848.7" r="3.9"/><circle cx="242.1" cy="848.5" r="3.9"/><circle cx="338.3" cy="828.7" r="3.9"/><circle cx="245.6" cy="916.6" r="3.9"/><circle cx="275.1" cy="920.2" r="3.9"/><circle cx="301.8" cy="923.3" r="3.9"/><circle cx="292.4" cy="916.5" r="3.9"/><circle cx="287.9" cy="890.1" r="3.9"/><circle cx="277.9" cy="799.4" r="3.9"/><circle cx="260.8" cy="844.7" r="3.9"/><circle cx="344.5" cy="893.1" r="3.9"/><circle cx="296.8" cy="811.3" r="3.9"/><circle cx="257.3" cy="874.7" r="3.9"/><circle cx="276.3" cy="885" r="3.9"/><circle cx="327.1" cy="835.6" r="3.9"/><circle cx="307.9" cy="852.3" r="3.9"/><circle cx="321.3" cy="852.5" r="3.9"/><circle cx="365.6" cy="878.9" r="3.9"/><circle cx="249.3" cy="863.9" r="3.9"/><circle cx="346.3" cy="843.9" r="3.9"/><circle cx="217.4" cy="816.7" r="3.9"/><circle cx="327.2" cy="846.1" r="3.9"/><circle cx="255.6" cy="819.3" r="3.9"/><circle cx="223.6" cy="834.4" r="3.9"/><circle cx="333.1" cy="897.8" r="3.9"/><circle cx="276.6" cy="894.7" r="3.9"/><circle cx="243.5" cy="844.5" r="3.9"/><circle cx="322.8" cy="789.9" r="3.9"/><circle cx="270.7" cy="865.1" r="3.9"/><circle cx="341.5" cy="891.8" r="3.9"/><circle cx="269.4" cy="842.4" r="3.9"/><circle cx="291.2" cy="866.4" r="3.9"/><circle cx="235.2" cy="875" r="3.9"/><circle cx="234.1" cy="860.9" r="3.9"/><circle cx="334.4" cy="907.8" r="3.9"/><circle cx="224.1" cy="875.9" r="3.9"/><circle cx="292.6" cy="792.8" r="3.9"/><circle cx="244.4" cy="899.7" r="3.9"/><circle cx="270.6" cy="787.8" r="3.9"/><circle cx="303.4" cy="910.4" r="3.9"/><circle cx="242.6" cy="811.5" r="3.9"/><circle cx="269" cy="795.5" r="3.9"/><circle cx="290" cy="818.1" r="3.9"/><circle cx="222.6" cy="797.4" r="3.9"/><circle cx="261.8" cy="799.7" r="3.9"/><circle cx="260.2" cy="804.1" r="3.9"/><circle cx="262.6" cy="873.5" r="3.9"/><circle cx="302.3" cy="813.2" r="3.9"/><circle cx="321.8" cy="874.5" r="3.9"/><circle cx="308.2" cy="891.9" r="3.9"/><circle cx="249.1" cy="806.4" r="3.9"/><circle cx="276.9" cy="839.3" r="3.9"/><circle cx="316.9" cy="901.2" r="3.9"/><circle cx="237.3" cy="895.9" r="3.9"/><circle cx="342.5" cy="861.9" r="3.9"/><circle cx="286.1" cy="869.9" r="3.9"/><circle cx="346.1" cy="835.4" r="3.9"/><circle cx="310" cy="817" r="3.9"/><circle cx="291.4" cy="841.5" r="3.9"/><circle cx="204.1" cy="858" r="3.9"/><circle cx="294.8" cy="914" r="3.9"/><circle cx="325.5" cy="827" r="3.9"/><circle cx="266.7" cy="792" r="3.9"/><circle cx="258.2" cy="887" r="3.9"/><circle cx="220.6" cy="792.2" r="3.9"/><circle cx="210.2" cy="849.9" r="3.9"/><circle cx="202.4" cy="830.1" r="3.9"/><circle cx="303.4" cy="831.6" r="3.9"/><circle cx="281.2" cy="849.3" r="3.9"/><circle cx="333.2" cy="797.9" r="3.9"/><circle cx="250.6" cy="913.8" r="3.9"/><circle cx="281.2" cy="874.7" r="3.9"/><circle cx="292" cy="812.5" r="3.9"/><circle cx="236.6" cy="899.7" r="3.9"/><circle cx="222.7" cy="887.4" r="3.9"/><circle cx="239.9" cy="804.6" r="3.9"/><circle cx="290.8" cy="831.8" r="3.9"/><circle cx="276.6" cy="811" r="3.9"/><circle cx="308.4" cy="872.5" r="3.9"/><circle cx="278.5" cy="926.5" r="3.9"/><circle cx="321.9" cy="905" r="3.9"/><circle cx="283.9" cy="884.2" r="3.9"/><circle cx="321.9" cy="811.1" r="3.9"/><circle cx="291.2" cy="805.6" r="3.9"/><circle cx="280.9" cy="823.9" r="3.9"/><circle cx="234.1" cy="823.5" r="3.9"/><circle cx="228.4" cy="846.5" r="3.9"/><circle cx="311.9" cy="783.3" r="3.9"/><circle cx="276.3" cy="924.2" r="3.9"/><circle cx="257.2" cy="827.6" r="3.9"/><circle cx="231" cy="834" r="3.9"/><circle cx="263.3" cy="807.2" r="3.9"/><circle cx="267.7" cy="881.8" r="3.9"/><circle cx="288.4" cy="826.5" r="3.9"/><circle cx="259.8" cy="780.2" r="3.9"/><circle cx="337.4" cy="879.4" r="3.9"/><circle cx="366.6" cy="860.1" r="3.9"/><circle cx="324.2" cy="851.1" r="3.9"/><circle cx="220.6" cy="847.7" r="3.9"/><circle cx="279.9" cy="915.4" r="3.9"/><circle cx="200.9" cy="818.1" r="3.9"/><circle cx="261.4" cy="784.8" r="3.9"/><circle cx="360.4" cy="843.1" r="3.9"/><circle cx="234.5" cy="805.7" r="3.9"/><circle cx="260" cy="890" r="3.9"/><circle cx="348.9" cy="882.2" r="3.9"/><circle cx="246.7" cy="829.9" r="3.9"/><circle cx="271.3" cy="850.5" r="3.9"/><circle cx="231.3" cy="814" r="3.9"/><circle cx="325.7" cy="911.9" r="3.9"/><circle cx="275.5" cy="868.4" r="3.9"/><circle cx="274.7" cy="851.7" r="3.9"/><circle cx="250.3" cy="886.6" r="3.9"/><circle cx="234.2" cy="844.7" r="3.9"/><circle cx="284.9" cy="824.4" r="3.9"/><circle cx="332.6" cy="879" r="3.9"/><circle cx="292.3" cy="898" r="3.9"/><circle cx="365" cy="870.4" r="3.9"/><circle cx="314.3" cy="807.8" r="3.9"/><circle cx="315.4" cy="791.3" r="3.9"/><circle cx="319.2" cy="887.4" r="3.9"/><circle cx="239.4" cy="822.2" r="3.9"/><circle cx="305.1" cy="809.4" r="3.9"/><circle cx="372.2" cy="859.5" r="3.9"/><circle cx="267.5" cy="860.7" r="3.9"/><circle cx="353" cy="881.2" r="3.9"/><circle cx="296.6" cy="796.5" r="3.9"/><circle cx="341.1" cy="911.5" r="3.9"/><circle cx="253.5" cy="834.8" r="3.9"/><circle cx="248.7" cy="822.5" r="3.9"/><circle cx="221" cy="870.2" r="3.9"/><circle cx="264.8" cy="895.9" r="3.9"/><circle cx="245" cy="821.7" r="3.9"/><circle cx="263.6" cy="789.1" r="3.9"/><circle cx="236.9" cy="887.2" r="3.9"/><circle cx="289.5" cy="874.8" r="3.9"/><circle cx="252.7" cy="856.9" r="3.9"/><circle cx="251.8" cy="895.9" r="3.9"/><circle cx="322.8" cy="897.7" r="3.9"/><circle cx="342.6" cy="851.8" r="3.9"/><circle cx="224.9" cy="892.5" r="3.9"/><circle cx="206.5" cy="863" r="3.9"/><circle cx="264.1" cy="860.3" r="3.9"/><circle cx="297.4" cy="901.5" r="3.9"/><circle cx="258.5" cy="861.3" r="3.9"/><circle cx="350.8" cy="847.1" r="3.9"/><circle cx="250.9" cy="801.8" r="3.9"/><circle cx="318.9" cy="788.5" r="3.9"/><circle cx="272" cy="837.1" r="3.9"/><circle cx="305.8" cy="877.1" r="3.9"/><circle cx="327.3" cy="841.6" r="3.9"/><circle cx="319.7" cy="798.1" r="3.9"/><circle cx="275.7" cy="804.3" r="3.9"/><circle cx="242.7" cy="870.5" r="3.9"/><circle cx="309.1" cy="826.9" r="3.9"/><circle cx="340.9" cy="841.7" r="3.9"/><circle cx="229.5" cy="877.2" r="3.9"/><circle cx="264.4" cy="910.3" r="3.9"/><circle cx="354.5" cy="865" r="3.9"/><circle cx="296.7" cy="904.8" r="3.9"/><circle cx="282.7" cy="871" r="3.9"/><circle cx="276.3" cy="854.4" r="3.9"/><circle cx="247.5" cy="857.4" r="3.9"/><circle cx="226.3" cy="837.6" r="3.9"/><circle cx="303.8" cy="927.4" r="3.9"/><circle cx="280.2" cy="785" r="3.9"/><circle cx="368.5" cy="855.5" r="3.9"/><circle cx="249.7" cy="869.5" r="3.9"/><circle cx="275.3" cy="846.9" r="3.9"/><circle cx="277.4" cy="820.5" r="3.9"/><circle cx="239.9" cy="789.7" r="3.9"/><circle cx="236.2" cy="856.1" r="3.9"/><circle cx="272.7" cy="902.1" r="3.9"/><circle cx="227.4" cy="812.9" r="3.9"/><circle cx="274.5" cy="816.7" r="3.9"/><circle cx="247.9" cy="810.3" r="3.9"/><circle cx="336.8" cy="833.3" r="3.9"/><circle cx="279.3" cy="832.1" r="3.9"/><circle cx="327.3" cy="805.1" r="3.9"/><circle cx="298.2" cy="918.2" r="3.9"/><circle cx="290.9" cy="809.3" r="3.9"/><circle cx="277.8" cy="828.4" r="3.9"/><circle cx="289.3" cy="798.8" r="3.9"/><circle cx="285.9" cy="875.2" r="3.9"/><circle cx="268.1" cy="914.1" r="3.9"/><circle cx="317.2" cy="827.5" r="3.9"/><circle cx="246.8" cy="888.6" r="3.9"/><circle cx="348.4" cy="885.4" r="3.9"/><circle cx="282.2" cy="892" r="3.9"/><circle cx="284.2" cy="924.1" r="3.9"/><circle cx="286" cy="786.3" r="3.9"/><circle cx="214.9" cy="807.2" r="3.9"/><circle cx="297.1" cy="805.5" r="3.9"/><circle cx="250.4" cy="906.3" r="3.9"/><circle cx="271.7" cy="917.7" r="3.9"/><circle cx="273.2" cy="826.8" r="3.9"/><circle cx="248.1" cy="848.5" r="3.9"/><circle cx="248.2" cy="826.3" r="3.9"/><circle cx="245.3" cy="880.7" r="3.9"/><circle cx="284.7" cy="802.1" r="3.9"/><circle cx="231.1" cy="891.2" r="3.9"/><circle cx="283.9" cy="837.6" r="3.9"/><circle cx="312.7" cy="858.1" r="3.9"/><circle cx="209.6" cy="834.7" r="3.9"/><circle cx="272.6" cy="926.7" r="3.9"/><circle cx="292" cy="872" r="3.9"/><circle cx="259.7" cy="821.1" r="3.9"/><circle cx="364.1" cy="856.1" r="3.9"/><circle cx="202.6" cy="846.3" r="3.9"/><circle cx="209.3" cy="806.9" r="3.9"/><circle cx="266.2" cy="784.8" r="3.9"/><circle cx="335.5" cy="825.2" r="3.9"/><circle cx="322" cy="864.6" r="3.9"/><circle cx="341.1" cy="858.5" r="3.9"/><circle cx="293.8" cy="844" r="3.9"/><circle cx="238.5" cy="835.1" r="3.9"/><circle cx="330.1" cy="893.1" r="3.9"/><circle cx="356.6" cy="857.2" r="3.9"/><circle cx="268.1" cy="837.2" r="3.9"/><circle cx="217" cy="875.8" r="3.9"/><circle cx="231" cy="850.8" r="3.9"/><circle cx="300.6" cy="874.2" r="3.9"/><circle cx="320.1" cy="881.7" r="3.9"/><circle cx="315.7" cy="893" r="3.9"/><circle cx="366" cy="845.6" r="3.9"/><circle cx="273" cy="881.4" r="3.9"/><circle cx="300.2" cy="886.7" r="3.9"/><circle cx="329.7" cy="877.3" r="3.9"/><circle cx="336.2" cy="894.2" r="3.9"/><circle cx="348.3" cy="851.8" r="3.9"/><circle cx="228.7" cy="867" r="3.9"/><circle cx="305.6" cy="866.4" r="3.9"/><circle cx="302.8" cy="777.3" r="3.9"/><circle cx="232" cy="903" r="3.9"/><circle cx="288.7" cy="908.4" r="3.9"/><circle cx="213.4" cy="884.2" r="3.9"/><circle cx="231.1" cy="808.6" r="3.9"/><circle cx="271.7" cy="776.9" r="3.9"/><circle cx="323.8" cy="819.4" r="3.9"/><circle cx="295.3" cy="880.4" r="3.9"/><circle cx="345.3" cy="878.9" r="3.9"/><circle cx="298.3" cy="792" r="3.9"/><circle cx="306.7" cy="805" r="3.9"/><circle cx="195" cy="857.8" r="3.9"/><circle cx="262.1" cy="815" r="3.9"/><circle cx="243.4" cy="877.3" r="3.9"/><circle cx="357.7" cy="825.3" r="3.9"/><circle cx="318.7" cy="907.6" r="3.9"/><circle cx="270.7" cy="854.3" r="3.9"/><circle cx="342.7" cy="836.7" r="3.9"/><circle cx="287.8" cy="778.6" r="3.9"/><circle cx="264.4" cy="819.1" r="3.9"/><circle cx="268.9" cy="821.2" r="3.9"/><circle cx="276.6" cy="773.1" r="3.9"/><circle cx="272.6" cy="912.4" r="3.9"/><circle cx="321.9" cy="868.4" r="3.9"/><circle cx="228.1" cy="787.9" r="3.9"/><circle cx="210.7" cy="867.6" r="3.9"/><circle cx="289.7" cy="921" r="3.9"/><circle cx="315.4" cy="836.8" r="3.9"/><circle cx="313.8" cy="900.5" r="3.9"/><circle cx="257.7" cy="870.6" r="3.9"/><circle cx="333" cy="871.5" r="3.9"/><circle cx="316" cy="876.9" r="3.9"/><circle cx="211.3" cy="844.4" r="3.9"/><circle cx="243.5" cy="885.1" r="3.9"/><circle cx="295.2" cy="827.1" r="3.9"/><circle cx="248.8" cy="835.8" r="3.9"/><circle cx="256.2" cy="910" r="3.9"/><circle cx="213.9" cy="877.7" r="3.9"/><circle cx="302.8" cy="843.6" r="3.9"/><circle cx="304.5" cy="835.6" r="3.9"/><circle cx="289.7" cy="856.2" r="3.9"/><circle cx="230.4" cy="860.2" r="3.9"/><circle cx="257.5" cy="776" r="3.9"/><circle cx="319.2" cy="841.9" r="3.9"/><circle cx="286.6" cy="818" r="3.9"/><circle cx="229.6" cy="837" r="3.9"/><circle cx="346.4" cy="821" r="3.9"/><circle cx="301.8" cy="869.2" r="3.9"/><circle cx="209.8" cy="885.7" r="3.9"/><circle cx="218.6" cy="802.4" r="3.9"/><circle cx="367.6" cy="841.6" r="3.9"/><circle cx="245.7" cy="786.7" r="3.9"/><circle cx="357.5" cy="878.4" r="3.9"/><circle cx="222.3" cy="813.2" r="3.9"/><circle cx="344.1" cy="812.3" r="3.9"/><circle cx="311.7" cy="919.1" r="3.9"/><circle cx="300.8" cy="906" r="3.9"/><circle cx="315.8" cy="910.8" r="3.9"/><circle cx="267.3" cy="829" r="3.9"/><circle cx="241.3" cy="828" r="3.9"/><circle cx="254.8" cy="862.5" r="3.9"/><circle cx="329.6" cy="851.1" r="3.9"/><circle cx="324.1" cy="857.5" r="3.9"/><circle cx="225.1" cy="829.3" r="3.9"/><circle cx="346.2" cy="865" r="3.9"/><circle cx="201.5" cy="875.4" r="3.9"/><circle cx="211.2" cy="871.9" r="3.9"/><circle cx="266.3" cy="812.4" r="3.9"/><circle cx="224.9" cy="871.8" r="3.9"/><circle cx="316.1" cy="868.8" r="3.9"/><circle cx="321.2" cy="802.8" r="3.9"/><circle cx="264" cy="919.3" r="3.9"/><circle cx="236.8" cy="849.7" r="3.9"/><circle cx="354.3" cy="861.7" r="3.9"/><circle cx="269.4" cy="782" r="3.9"/><circle cx="295.2" cy="784" r="3.9"/><circle cx="274.4" cy="792.9" r="3.9"/><circle cx="272" cy="797.7" r="3.9"/><circle cx="256.5" cy="841.1" r="3.9"/><circle cx="262.7" cy="822.9" r="3.9"/><circle cx="341.4" cy="902.8" r="3.9"/><circle cx="321.7" cy="915.3" r="3.9"/><circle cx="260.1" cy="878.8" r="3.9"/><circle cx="296.5" cy="875.3" r="3.9"/><circle cx="312.9" cy="849.8" r="3.9"/><circle cx="280.2" cy="853.8" r="3.9"/><circle cx="337.1" cy="857.6" r="3.9"/><circle cx="316.4" cy="849.1" r="3.9"/><circle cx="258.3" cy="837.8" r="3.9"/><circle cx="252.4" cy="922.2" r="3.9"/><circle cx="285" cy="828.3" r="3.9"/><circle cx="344.6" cy="826.9" r="3.9"/><circle cx="279.6" cy="841.9" r="3.9"/><circle cx="248.6" cy="860.8" r="3.9"/><circle cx="304.6" cy="858.9" r="3.9"/><circle cx="305.2" cy="780.7" r="3.9"/><circle cx="269.5" cy="910" r="3.9"/><circle cx="265.3" cy="846.4" r="3.9"/><circle cx="280.1" cy="805" r="3.9"/><circle cx="353.3" cy="871" r="3.9"/><circle cx="239.3" cy="883" r="3.9"/><circle cx="226.8" cy="883.8" r="3.9"/><circle cx="256.2" cy="854.9" r="3.9"/><circle cx="216.8" cy="819.9" r="3.9"/><circle cx="337.7" cy="846.2" r="3.9"/><circle cx="302.9" cy="915.9" r="3.9"/><circle cx="267" cy="868.7" r="3.9"/><circle cx="349.6" cy="810.2" r="3.9"/><circle cx="258.5" cy="796" r="3.9"/><circle cx="311.3" cy="927.3" r="3.9"/><circle cx="209.2" cy="840.9" r="3.9"/><circle cx="263.8" cy="851.3" r="3.9"/><circle cx="368" cy="829.6" r="3.9"/><circle cx="325.3" cy="889" r="3.9"/><circle cx="293.3" cy="837.5" r="3.9"/><circle cx="353.7" cy="875.4" r="3.9"/><circle cx="302.9" cy="793.6" r="3.9"/><circle cx="248" cy="772.8" r="3.9"/><circle cx="316.9" cy="813.9" r="3.9"/><circle cx="279.1" cy="768.9" r="3.9"/><circle cx="290.8" cy="887.8" r="3.9"/><circle cx="265.8" cy="776.7" r="3.9"/><circle cx="213.9" cy="818.2" r="3.9"/><circle cx="286.6" cy="893.9" r="3.9"/><circle cx="329.3" cy="828.9" r="3.9"/><circle cx="329.3" cy="796.8" r="3.9"/><circle cx="263.9" cy="779.5" r="3.9"/><circle cx="294.4" cy="930.3" r="3.9"/><circle cx="322.6" cy="823.5" r="3.9"/><circle cx="229.5" cy="870.4" r="3.9"/><circle cx="221.5" cy="865.5" r="3.9"/><circle cx="322.9" cy="844.2" r="3.9"/><circle cx="254.8" cy="919.7" r="3.9"/><circle cx="340.4" cy="872.5" r="3.9"/><circle cx="311.7" cy="798.9" r="3.9"/><circle cx="269" cy="920.8" r="3.9"/><circle cx="286.1" cy="850.8" r="3.9"/><circle cx="352.4" cy="840.6" r="3.9"/><circle cx="207.9" cy="816.9" r="3.9"/><circle cx="296.2" cy="832.8" r="3.9"/><circle cx="251.7" cy="808.3" r="3.9"/><circle cx="270.2" cy="890.6" r="3.9"/><circle cx="277.6" cy="780.1" r="3.9"/><circle cx="218.2" cy="829.5" r="3.9"/><circle cx="277.7" cy="859.3" r="3.9"/><circle cx="288.4" cy="924.8" r="3.9"/><circle cx="360.4" cy="885.6" r="3.9"/><circle cx="339.8" cy="814.3" r="3.9"/><circle cx="312.5" cy="878.4" r="3.9"/><circle cx="284.6" cy="797.7" r="3.9"/><circle cx="305.9" cy="795.4" r="3.9"/><circle cx="350.6" cy="888" r="3.9"/><circle cx="363.9" cy="834.9" r="3.9"/><circle cx="335.6" cy="852.8" r="3.9"/><circle cx="213.3" cy="839.5" r="3.9"/><circle cx="246.7" cy="795" r="3.9"/><circle cx="327.3" cy="859.1" r="3.9"/><circle cx="307.8" cy="833.7" r="3.9"/><circle cx="203.4" cy="814.9" r="3.9"/><circle cx="343.6" cy="817.1" r="3.9"/><circle cx="326.5" cy="788.7" r="3.9"/><circle cx="239.4" cy="911.7" r="3.9"/><circle cx="327.5" cy="800.5" r="3.9"/><circle cx="296.1" cy="861.5" r="3.9"/><circle cx="288.1" cy="822.6" r="3.9"/><circle cx="331.8" cy="819.8" r="3.9"/><circle cx="317.8" cy="860.6" r="3.9"/><circle cx="305.8" cy="825.6" r="3.9"/><circle cx="337.8" cy="818.7" r="3.9"/><circle cx="219.8" cy="799.2" r="3.9"/><circle cx="272.4" cy="770.2" r="3.9"/><circle cx="240.4" cy="899.3" r="3.9"/><circle cx="238.2" cy="907.1" r="3.9"/><circle cx="244.7" cy="891.9" r="3.9"/><circle cx="223" cy="844" r="3.9"/><circle cx="312.1" cy="790.9" r="3.9"/><circle cx="220.5" cy="891.2" r="3.9"/><circle cx="211.5" cy="799.3" r="3.9"/><circle cx="353.1" cy="833.5" r="3.9"/><circle cx="328.5" cy="883.7" r="3.9"/><circle cx="272" cy="819.2" r="3.9"/><circle cx="216" cy="898.6" r="3.9"/><circle cx="289.5" cy="878.2" r="3.9"/><circle cx="349.2" cy="829.9" r="3.9"/><circle cx="301.6" cy="799.1" r="3.9"/><circle cx="328.4" cy="903.1" r="3.9"/><circle cx="287.4" cy="806" r="3.9"/><circle cx="265.4" cy="826.1" r="3.9"/><circle cx="340.3" cy="884.2" r="3.9"/><circle cx="329.5" cy="815.4" r="3.9"/><circle cx="246.4" cy="851.6" r="3.9"/><circle cx="310.4" cy="794.4" r="3.9"/><circle cx="306.5" cy="847.6" r="3.9"/><circle cx="250" cy="872.7" r="3.9"/><circle cx="200.3" cy="869.9" r="3.9"/><circle cx="223.8" cy="853.8" r="3.9"/><circle cx="264.9" cy="835.5" r="3.9"/><circle cx="256.7" cy="850.4" r="3.9"/><circle cx="265.1" cy="902.8" r="3.9"/><circle cx="277.8" cy="904.1" r="3.9"/><circle cx="329.6" cy="867.9" r="3.9"/><circle cx="282.7" cy="782.2" r="3.9"/><circle cx="260.1" cy="841.2" r="3.9"/><circle cx="333.6" cy="883.9" r="3.9"/><circle cx="282" cy="790.7" r="3.9"/><circle cx="256" cy="913.2" r="3.9"/><circle cx="351.3" cy="857.3" r="3.9"/><circle cx="315.9" cy="889.1" r="3.9"/><circle cx="294" cy="847.5" r="3.9"/><circle cx="271.7" cy="894.5" r="3.9"/><circle cx="241.2" cy="817.9" r="3.9"/><circle cx="291.7" cy="924.6" r="3.9"/><circle cx="295" cy="908.6" r="3.9"/><circle cx="245.9" cy="910.8" r="3.9"/><circle cx="224.8" cy="840.9" r="3.9"/><circle cx="302.6" cy="878.7" r="3.9"/><circle cx="280.8" cy="863.9" r="3.9"/><circle cx="253.3" cy="845.8" r="3.9"/><circle cx="207.7" cy="889.4" r="3.9"/><circle cx="229.8" cy="894.9" r="3.9"/><circle cx="229.4" cy="827.3" r="3.9"/><circle cx="238.8" cy="859.4" r="3.9"/><circle cx="251.7" cy="813.1" r="3.9"/><circle cx="342.5" cy="876.6" r="3.9"/><circle cx="292.8" cy="823" r="3.9"/><circle cx="302" cy="788.9" r="3.9"/><circle cx="306.2" cy="924.6" r="3.9"/><circle cx="337.1" cy="870.9" r="3.9"/><circle cx="237.8" cy="830.6" r="3.9"/><circle cx="275.7" cy="890.8" r="3.9"/><circle cx="354.5" cy="826.5" r="3.9"/><circle cx="252.8" cy="892" r="3.9"/><circle cx="276.9" cy="873.6" r="3.9"/><circle cx="284.1" cy="770.2" r="3.9"/><circle cx="311.2" cy="839.3" r="3.9"/><circle cx="215.9" cy="868.5" r="3.9"/><circle cx="349.1" cy="873.6" r="3.9"/><circle cx="266.8" cy="878.7" r="3.9"/><circle cx="317.3" cy="800.5" r="3.9"/><circle cx="303.9" cy="819.7" r="3.9"/><circle cx="252.1" cy="824.4" r="3.9"/><circle cx="314.4" cy="883.5" r="3.9"/><circle cx="296.7" cy="850.5" r="3.9"/><circle cx="337" cy="803.7" r="3.9"/><circle cx="257.9" cy="824" r="3.9"/><circle cx="295.8" cy="819" r="3.9"/><circle cx="308.9" cy="865.7" r="3.9"/><circle cx="289.8" cy="814.8" r="3.9"/><circle cx="269.6" cy="930.3" r="3.9"/><circle cx="279.7" cy="887.2" r="3.9"/><circle cx="206.8" cy="820.9" r="3.9"/><circle cx="287.4" cy="915.8" r="3.9"/><circle cx="333.6" cy="812" r="3.9"/><circle cx="305.7" cy="881.3" r="3.9"/><circle cx="295.2" cy="885.3" r="3.9"/><circle cx="226.5" cy="859.4" r="3.9"/><circle cx="345" cy="897.3" r="3.9"/><circle cx="334.2" cy="864.7" r="3.9"/><circle cx="299" cy="913.8" r="3.9"/><circle cx="370" cy="837.7" r="3.9"/><circle cx="314.3" cy="832.5" r="3.9"/><circle cx="198.3" cy="834.8" r="3.9"/><circle cx="280.4" cy="879.8" r="3.9"/><circle cx="220.7" cy="819.7" r="3.9"/><circle cx="313" cy="894.8" r="3.9"/><circle cx="276.3" cy="909.7" r="3.9"/><circle cx="282.9" cy="904.3" r="3.9"/><circle cx="353.2" cy="885" r="3.9"/><circle cx="358.4" cy="851" r="3.9"/><circle cx="334.6" cy="793.3" r="3.9"/><circle cx="225.4" cy="803.7" r="3.9"/><circle cx="258.3" cy="896" r="3.9"/><circle cx="213.6" cy="858.6" r="3.9"/><circle cx="315.1" cy="918.3" r="3.9"/><circle cx="283.3" cy="831.9" r="3.9"/><circle cx="330.4" cy="838.2" r="3.9"/><circle cx="333" cy="842.6" r="3.9"/><circle cx="298.8" cy="845" r="3.9"/><circle cx="237.8" cy="916.3" r="3.9"/><circle cx="299.7" cy="860.6" r="3.9"/><circle cx="301.8" cy="785.3" r="3.9"/><circle cx="234.9" cy="852.9" r="3.9"/><circle cx="235.3" cy="890.5" r="3.9"/><circle cx="311.8" cy="835.4" r="3.9"/><circle cx="349" cy="815.4" r="3.9"/><circle cx="337.7" cy="887.6" r="3.9"/><circle cx="249.4" cy="899.7" r="3.9"/><circle cx="266.8" cy="872.3" r="3.9"/><circle cx="212.4" cy="889.7" r="3.9"/><circle cx="284.7" cy="794.1" r="3.9"/><circle cx="331.5" cy="805.7" r="3.9"/><circle cx="207.3" cy="871.4" r="3.9"/><circle cx="197.1" cy="848.5" r="3.9"/><circle cx="260.8" cy="903.4" r="3.9"/><circle cx="319.4" cy="807.4" r="3.9"/><circle cx="225.4" cy="849.5" r="3.9"/><circle cx="347.9" cy="901.6" r="3.9"/><circle cx="283.2" cy="919.5" r="3.9"/><circle cx="323.7" cy="807.5" r="3.9"/><circle cx="273.9" cy="859.5" r="3.9"/><circle cx="357.2" cy="845.6" r="3.9"/><circle cx="222.4" cy="858.9" r="3.9"/><circle cx="293.6" cy="778.1" r="3.9"/><circle cx="214" cy="853.1" r="3.9"/><circle cx="310.4" cy="780.1" r="3.9"/><circle cx="356.7" cy="885.4" r="3.9"/><circle cx="291.6" cy="904.6" r="3.9"/><circle cx="326.1" cy="863" r="3.9"/><circle cx="257.7" cy="790.3" r="3.9"/><circle cx="296.2" cy="855.1" r="3.9"/><circle cx="257.3" cy="846.4" r="3.9"/><circle cx="198.2" cy="867.1" r="3.9"/><circle cx="297.4" cy="781.5" r="3.9"/><circle cx="326.2" cy="792.7" r="3.9"/><circle cx="239.5" cy="866" r="3.9"/><circle cx="354" cy="846.8" r="3.9"/><circle cx="333.4" cy="816" r="3.9"/><circle cx="242.2" cy="814.9" r="3.9"/><circle cx="238.6" cy="785.9" r="3.9"/><circle cx="244.6" cy="834.1" r="3.9"/><circle cx="238" cy="839.3" r="3.9"/><circle cx="225.5" cy="822.3" r="3.9"/><circle cx="217.4" cy="872.5" r="3.9"/><circle cx="284.1" cy="879.9" r="3.9"/><circle cx="230.1" cy="886.4" r="3.9"/><circle cx="316.8" cy="857.5" r="3.9"/><circle cx="233" cy="799.6" r="3.9"/><circle cx="315.6" cy="821.9" r="3.9"/><circle cx="293.4" cy="797.7" r="3.9"/><circle cx="260.8" cy="864.5" r="3.9"/><circle cx="226.1" cy="796.9" r="3.9"/><circle cx="359.4" cy="828.7" r="3.9"/><circle cx="296.6" cy="890.9" r="3.9"/><circle cx="263.2" cy="884" r="3.9"/><circle cx="245.7" cy="919.8" r="3.9"/><circle cx="352" cy="837.2" r="3.9"/><circle cx="318" cy="895.2" r="3.9"/><circle cx="325.6" cy="870.1" r="3.9"/><circle cx="283.9" cy="888.9" r="3.9"/><circle cx="260.9" cy="835.7" r="3.9"/><circle cx="263.2" cy="839.2" r="3.9"/><circle cx="341.5" cy="847.9" r="3.9"/><circle cx="259.8" cy="917.6" r="3.9"/><circle cx="223.5" cy="862.8" r="3.9"/><circle cx="297.7" cy="867.4" r="3.9"/><circle cx="230.2" cy="911.3" r="3.9"/><circle cx="334.8" cy="847.9" r="3.9"/><circle cx="284.7" cy="847.1" r="3.9"/><circle cx="326.2" cy="899.8" r="3.9"/><circle cx="249.6" cy="816.3" r="3.9"/><circle cx="367.4" cy="866.2" r="3.9"/><circle cx="322.4" cy="795.6" r="3.9"/><circle cx="229.8" cy="820.2" r="3.9"/><circle cx="364.6" cy="838.1" r="3.9"/><circle cx="315.5" cy="865.4" r="3.9"/><circle cx="281.8" cy="910.9" r="3.9"/><circle cx="271.9" cy="898" r="3.9"/><circle cx="307.3" cy="884.2" r="3.9"/><circle cx="225.3" cy="910.6" r="3.9"/><circle cx="332.1" cy="853.5" r="3.9"/><circle cx="282.5" cy="816.7" r="3.9"/><circle cx="304.5" cy="888.8" r="3.9"/><circle cx="266" cy="841.3" r="3.9"/><circle cx="296.8" cy="801" r="3.9"/><circle cx="257.7" cy="900.5" r="3.9"/><circle cx="226" cy="817.8" r="3.9"/><circle cx="303.7" cy="816.5" r="3.9"/><circle cx="195.2" cy="838.7" r="3.9"/><circle cx="298" cy="829.8" r="3.9"/><circle cx="240.9" cy="892.9" r="3.9"/><circle cx="213" cy="828.5" r="3.9"/><circle cx="354.9" cy="852.4" r="3.9"/><circle cx="260.5" cy="851.3" r="3.9"/><circle cx="259" cy="811.6" r="3.9"/><circle cx="263.7" cy="925" r="3.9"/><circle cx="220.9" cy="895.6" r="3.9"/><circle cx="252" cy="775.1" r="3.9"/><circle cx="241.3" cy="778.3" r="3.9"/><circle cx="250.3" cy="792.5" r="3.9"/><circle cx="273.1" cy="802" r="3.9"/><circle cx="312.6" cy="845.6" r="3.9"/><circle cx="325.2" cy="919.7" r="3.9"/><circle cx="263.8" cy="888.6" r="3.9"/><circle cx="349.8" cy="899" r="3.9"/><circle cx="316.9" cy="803.7" r="3.9"/><circle cx="315.6" cy="853.5" r="3.9"/><circle cx="337.7" cy="850.1" r="3.9"/><circle cx="310.8" cy="906.2" r="3.9"/><circle cx="266.9" cy="849.9" r="3.9"/><circle cx="244.2" cy="806.4" r="3.9"/><circle cx="284.2" cy="855.1" r="3.9"/><circle cx="194.6" cy="852" r="3.9"/><circle cx="263" cy="869.4" r="3.9"/><circle cx="242.9" cy="908.1" r="3.9"/><circle cx="222" cy="838.9" r="3.9"/><circle cx="239.2" cy="854" r="3.9"/><circle cx="340.4" cy="898.4" r="3.9"/><circle cx="220.2" cy="851.8" r="3.9"/><circle cx="237.1" cy="808.9" r="3.9"/><circle cx="361.2" cy="838.7" r="3.9"/><circle cx="306.3" cy="900" r="3.9"/><circle cx="287.5" cy="843" r="3.9"/><circle cx="232.2" cy="898.1" r="3.9"/><circle cx="287.5" cy="881.6" r="3.9"/><circle cx="326.7" cy="907.2" r="3.9"/><circle cx="231" cy="841.1" r="3.9"/><circle cx="195.4" cy="863.4" r="3.9"/><circle cx="233.6" cy="883.3" r="3.9"/><circle cx="335.4" cy="904.7" r="3.9"/><circle cx="235.2" cy="865" r="3.9"/><circle cx="287.7" cy="839.6" r="3.9"/><circle cx="329.1" cy="919.2" r="3.9"/><circle cx="322.7" cy="839.6" r="3.9"/><circle cx="280.8" cy="776.6" r="3.9"/><circle cx="202.7" cy="867" r="3.9"/><circle cx="251.9" cy="882.1" r="3.9"/><circle cx="270.2" cy="813.4" r="3.9"/><circle cx="239.5" cy="842.9" r="3.9"/><circle cx="365.3" cy="849.9" r="3.9"/><circle cx="266.6" cy="799.4" r="3.9"/><circle cx="234.2" cy="794.1" r="3.9"/><circle cx="237" cy="826.7" r="3.9"/><circle cx="331.5" cy="888.2" r="3.9"/><circle cx="315.6" cy="843.8" r="3.9"/><circle cx="349.7" cy="824.5" r="3.9"/><circle cx="270.1" cy="772.5" r="3.9"/><circle cx="307.7" cy="788.3" r="3.9"/></g><rect x="128" y="865.7" width="34" height="1.4" fill="#111"/><text x="121.9" y="882.5" font-size="11" textLength="46" lengthAdjust="spacingAndGlyphs">~100 nm</text><text x="12" y="763" font-size="19" font-weight="bold">(d)</text>
</svg>
</body></html>
